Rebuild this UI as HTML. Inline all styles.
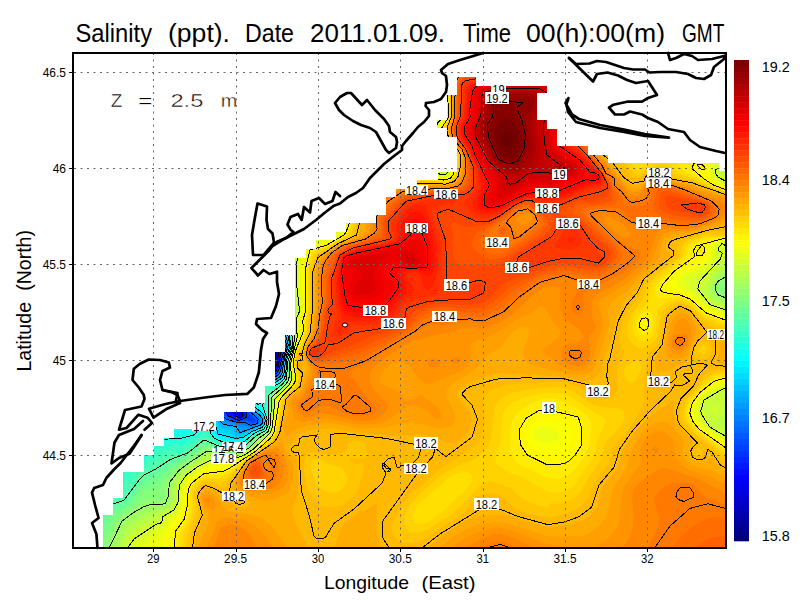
<!DOCTYPE html><html><head><meta charset="utf-8"><style>html,body{margin:0;padding:0;background:#fff;width:800px;height:600px;overflow:hidden}</style></head><body><svg width="800" height="600" viewBox="0 0 800 600" style="display:block">
<rect width="800" height="600" fill="#fff"/>
<defs><clipPath id="dc"><polygon points="103.0,548.0 103.0,515.0 113.3,515.0 113.3,498.0 123.5,498.0 123.5,472.0 144.6,472.0 144.6,455.0 154.5,455.0 154.5,446.0 164.5,446.0 164.5,438.0 174.0,438.0 174.0,429.0 216.0,429.0 216.0,421.0 224.0,421.0 224.0,412.5 255.0,412.5 255.0,403.0 265.0,403.0 265.0,386.0 275.0,386.0 275.0,352.0 285.0,352.0 285.0,335.0 295.5,335.0 295.5,258.0 306.0,258.0 306.0,249.0 316.0,249.0 316.0,240.0 336.0,240.0 336.0,232.0 346.0,232.0 346.0,223.0 376.0,223.0 376.0,215.0 386.0,215.0 386.0,197.0 396.0,197.0 396.0,189.0 417.0,189.0 417.0,180.6 438.0,180.6 438.0,172.0 457.0,172.0 457.0,137.0 447.0,137.0 447.0,128.0 437.0,128.0 437.0,120.0 447.0,120.0 447.0,95.0 457.0,95.0 457.0,77.0 476.0,77.0 476.0,86.0 547.0,86.0 547.0,93.0 537.0,93.0 537.0,120.0 547.0,120.0 547.0,129.0 557.0,129.0 557.0,146.0 588.0,146.0 588.0,155.0 608.0,155.0 608.0,163.0 719.0,163.0 719.0,171.0 726.0,171.0 726.0,548.0"/></clipPath>
<linearGradient id="cb" x1="0" y1="1" x2="0" y2="0">
</linearGradient><clipPath id="c174"><rect x="210" y="446" width="40" height="6"/></clipPath></defs>
<g clip-path="url(#dc)">
<rect x="74" y="53" width="652" height="495" fill="#000086"/>
<path fill="#000093" fill-rule="evenodd" d="M726.0 547.0 74.0 547.0 74.0 324.7 108.0 348.4 124.0 363.0 130.0 364.1 132.0 364.0 132.6 363.0 132.5 361.0 125.7 349.0 120.0 342.7 118.0 338.7 110.0 330.0 107.1 325.0 92.0 309.4 86.0 299.3 74.0 287.6 74.0 275.8 81.2 283.0 80.7 285.0 81.6 287.0 92.0 297.4 98.4 307.0 106.9 315.0 114.0 324.7 118.0 327.2 122.0 324.8 127.0 329.0 134.0 340.3 142.0 347.3 130.8 329.0 132.0 328.1 134.0 328.7 142.0 335.8 150.0 340.3 151.9 339.0 150.6 337.0 151.5 335.0 154.0 335.3 183.0 361.0 187.2 363.0 194.0 368.7 196.0 371.3 210.0 378.3 222.0 380.4 236.0 375.9 244.0 375.1 252.0 370.0 270.4 369.0 274.0 367.1 275.1 365.0 275.9 353.0 277.5 347.0 276.9 341.0 272.8 329.0 264.2 313.0 262.3 305.0 260.0 301.0 244.0 290.1 234.5 281.0 232.3 269.0 228.0 263.0 224.5 261.0 218.1 253.0 217.8 245.0 218.5 243.0 221.3 241.0 222.8 233.0 224.7 229.0 227.3 227.0 233.4 217.0 238.0 212.0 246.0 207.0 252.0 205.4 253.7 203.0 251.7 197.0 253.0 191.0 250.8 183.0 251.0 163.0 252.0 160.0 264.6 149.0 265.4 137.0 268.6 133.0 268.8 127.0 270.7 121.0 266.4 101.0 268.0 100.1 270.0 100.8 292.0 121.7 295.1 119.0 292.9 111.0 294.0 110.3 298.0 111.2 318.0 125.8 321.7 125.0 319.9 119.0 314.6 113.0 304.0 103.6 302.3 103.0 304.0 101.9 324.0 112.3 336.0 116.0 350.0 113.3 354.0 111.2 354.2 109.0 350.9 103.0 354.0 102.2 366.0 103.1 372.0 102.6 377.0 105.0 380.0 109.1 388.0 111.4 388.9 111.0 389.0 109.0 388.0 105.0 388.6 97.0 386.2 91.0 386.0 84.2 387.7 81.0 388.1 73.0 389.2 69.0 393.0 61.0 396.3 59.0 398.6 53.0 726.0 53.0 726.0 547.0ZM302.0 101.9 302.0 100.9 302.0 101.9ZM308.5 125.0 308.0 124.1 306.5 125.0 308.0 126.6 308.5 125.0ZM100.0 271.7 96.2 269.0 95.8 267.0 96.6 265.0 100.0 263.6 101.1 265.0 100.0 271.7Z"/>
<path fill="#00009f" fill-rule="evenodd" d="M726.0 547.0 74.0 547.0 74.0 325.5 93.6 339.0 98.0 343.3 108.0 349.2 122.8 363.0 130.0 366.0 134.2 365.0 134.0 363.0 126.0 349.0 120.0 342.5 118.0 338.5 110.0 329.9 107.2 325.0 92.0 309.3 86.0 299.2 74.0 287.5 74.0 275.9 81.0 283.0 80.4 285.0 81.4 287.0 92.0 297.7 98.1 307.0 106.5 315.0 113.7 325.0 118.0 329.5 120.0 330.3 124.0 328.1 126.0 329.0 132.5 339.0 142.0 348.3 142.0 345.0 132.2 331.0 131.3 329.0 132.0 328.5 134.0 328.9 142.0 335.9 150.0 340.6 152.5 341.0 150.9 337.0 152.0 335.3 154.0 335.5 170.1 349.0 182.8 361.0 186.9 363.0 194.0 369.0 196.0 371.6 210.0 379.3 224.0 381.3 235.0 377.0 246.0 375.0 252.0 370.8 272.0 369.1 274.7 367.0 276.0 363.8 278.0 343.0 273.3 329.0 264.0 311.0 262.3 303.0 255.1 297.0 244.0 289.7 237.1 283.0 235.5 281.0 235.3 275.0 233.5 269.0 230.7 265.0 224.0 259.4 219.6 253.0 219.9 245.0 223.4 241.0 224.2 235.0 226.8 229.0 229.2 227.0 233.9 219.0 239.4 213.0 248.0 207.6 252.0 206.7 254.4 205.0 254.9 203.0 253.0 197.0 254.1 191.0 252.1 185.0 252.9 181.0 251.9 171.0 252.4 165.0 254.0 161.1 267.2 149.0 266.0 139.8 266.9 137.0 270.0 133.1 269.8 129.0 272.0 125.0 268.4 103.0 270.0 102.0 274.0 105.0 292.0 122.7 294.0 122.9 296.2 121.0 296.7 119.0 293.9 111.0 296.0 110.9 318.0 126.1 322.0 125.8 322.4 125.0 320.2 119.0 314.8 113.0 303.2 103.0 304.0 102.5 306.6 103.0 324.0 112.6 336.0 116.9 340.9 117.0 354.5 113.0 356.1 111.0 352.6 105.0 354.0 103.0 372.0 103.3 376.4 105.0 380.0 109.3 386.0 111.8 390.0 111.2 389.2 105.0 389.9 97.0 387.5 91.0 387.4 85.0 389.3 81.0 390.0 71.0 393.4 63.0 397.7 59.0 400.0 53.0 726.0 53.0 726.0 547.0ZM310.2 127.0 308.0 122.8 306.0 122.8 305.6 125.0 308.0 128.2 310.0 127.9 310.2 127.0ZM100.0 271.1 96.4 267.0 98.0 264.3 100.0 264.1 100.7 265.0 100.0 271.1Z"/>
<path fill="#0000ac" fill-rule="evenodd" d="M726.0 547.0 74.0 547.0 74.0 326.1 92.3 339.0 96.4 343.0 108.0 350.3 124.0 364.5 130.0 367.9 132.0 368.0 134.5 367.0 135.3 365.0 126.2 349.0 120.0 342.3 118.0 338.3 110.0 329.7 107.4 325.0 92.0 309.1 85.9 299.0 74.0 287.5 74.0 276.1 80.8 283.0 80.1 285.0 81.2 287.0 92.0 297.9 98.0 307.2 106.1 315.0 118.0 330.9 122.0 332.7 124.0 330.6 126.0 330.6 133.9 341.0 142.0 349.1 144.0 349.0 142.3 345.0 132.4 331.0 134.0 329.1 142.0 336.0 150.0 340.9 153.3 341.0 151.2 337.0 152.0 335.7 154.0 335.7 170.0 349.0 182.5 361.0 186.6 363.0 193.6 369.0 196.0 371.9 210.0 380.2 224.0 382.4 237.8 377.0 246.0 375.7 253.7 371.0 272.0 369.7 274.0 368.5 276.2 365.0 276.9 355.0 278.8 345.0 273.8 329.0 264.6 311.0 263.9 305.0 261.1 301.0 244.0 289.4 237.9 283.0 236.8 281.0 236.2 273.0 234.4 269.0 231.7 265.0 224.8 259.0 221.8 255.0 221.5 253.0 222.0 245.1 224.5 243.0 226.1 235.0 228.8 229.0 231.2 227.0 240.0 214.7 250.0 208.1 254.0 207.5 255.8 205.0 254.5 197.0 255.4 193.0 253.8 187.0 254.5 181.0 253.2 173.0 253.6 167.0 255.1 163.0 268.0 152.6 268.9 151.0 267.0 145.0 267.0 141.0 268.0 138.2 270.8 135.0 272.8 127.0 270.6 105.0 272.0 104.4 276.0 107.4 292.0 123.5 294.0 124.2 298.0 121.5 298.1 119.0 294.7 113.0 296.0 111.3 298.0 111.9 316.0 125.5 322.0 127.0 322.9 125.0 320.5 119.0 308.6 107.0 310.0 105.4 330.0 115.6 338.0 117.7 347.6 117.0 356.0 113.8 357.4 111.0 353.8 105.0 356.0 104.2 375.6 105.0 380.0 109.5 390.1 113.0 391.3 111.0 390.5 105.0 391.3 97.0 388.9 91.0 391.1 73.0 395.4 63.0 398.3 61.0 401.3 53.0 726.0 53.0 726.0 547.0ZM308.0 106.3 306.4 105.0 308.0 104.1 309.5 105.0 308.0 106.3ZM311.8 129.0 308.0 122.0 306.0 122.1 305.1 125.0 308.0 129.7 310.0 130.7 311.8 129.0ZM316.3 131.0 315.5 131.0 316.3 131.0ZM100.0 269.2 97.2 267.0 98.0 264.7 100.4 265.0 100.0 269.2ZM132.0 329.4 133.3 329.0 132.0 329.4Z"/>
<path fill="#0000b9" fill-rule="evenodd" d="M726.0 547.0 74.0 547.0 74.0 326.8 96.0 343.6 108.0 351.4 130.0 369.6 134.0 369.6 136.6 367.0 126.4 349.0 120.0 342.1 118.0 338.1 110.0 329.5 107.5 325.0 92.0 309.0 86.0 299.0 74.0 287.4 74.0 276.2 80.6 283.0 79.9 285.0 81.0 287.0 92.0 298.1 97.7 307.0 106.0 315.2 117.6 331.0 122.0 334.2 126.0 333.2 128.0 334.2 133.2 341.0 144.0 351.1 144.7 351.0 144.4 349.0 142.5 345.0 132.7 331.0 134.0 329.4 142.0 336.1 150.0 341.1 154.0 341.0 151.4 337.0 154.0 335.9 169.7 349.0 182.3 361.0 186.2 363.0 193.3 369.0 196.0 372.2 201.4 375.0 208.0 380.3 214.0 382.4 226.0 383.3 236.0 378.5 246.0 376.3 254.0 371.6 272.0 370.2 274.2 369.0 276.6 365.0 279.5 345.0 274.3 329.0 265.3 311.0 264.5 305.0 261.7 301.0 244.1 289.0 238.9 283.0 237.5 273.0 232.5 265.0 226.1 259.0 223.6 255.0 223.5 253.0 223.6 247.0 226.6 243.0 228.0 235.3 230.0 230.3 233.4 227.0 236.9 221.0 241.9 215.0 250.0 209.6 254.0 208.7 256.0 207.4 256.9 205.0 255.9 199.0 256.6 195.0 255.7 189.0 256.2 185.0 254.5 171.0 256.0 165.0 270.3 153.0 270.3 151.0 267.7 145.0 268.0 142.2 271.3 137.0 274.4 129.0 272.3 119.0 273.4 111.0 272.7 107.0 274.0 106.6 276.0 108.1 294.0 125.3 298.0 124.4 299.2 123.0 298.9 119.0 295.3 113.0 296.0 112.1 298.0 112.3 309.1 121.0 306.0 121.4 304.6 123.0 305.2 127.0 308.0 131.2 310.0 132.5 314.0 131.4 315.4 133.0 318.0 133.5 316.0 128.5 314.0 128.6 309.3 123.0 310.0 121.4 316.0 126.2 322.0 127.5 323.4 127.0 322.9 123.0 319.4 117.0 309.0 107.0 310.0 105.9 330.0 116.0 340.0 118.7 348.0 118.4 356.0 115.6 358.6 113.0 358.8 111.0 355.8 107.0 356.0 105.7 357.4 105.0 374.0 105.2 376.0 105.7 378.8 109.0 386.0 112.4 392.0 113.4 392.5 97.0 390.3 91.0 392.5 73.0 395.7 65.0 399.7 61.0 402.5 53.0 726.0 53.0 726.0 547.0ZM308.0 105.8 307.0 105.0 308.0 104.5 308.9 105.0 308.0 105.8ZM100.0 265.4 99.2 265.0 100.0 265.4Z"/>
<path fill="#0000c6" fill-rule="evenodd" d="M726.0 547.0 74.0 547.0 74.0 348.9 76.0 348.3 76.3 347.0 74.0 342.8 74.0 327.3 86.0 337.1 116.0 358.4 130.0 371.0 134.0 371.9 138.6 369.0 134.0 360.6 130.5 357.0 126.6 349.0 120.0 341.9 118.0 337.9 110.0 329.4 107.6 325.0 92.2 309.0 86.2 299.0 74.0 287.3 74.0 276.4 80.4 283.0 79.6 285.0 80.8 287.0 92.0 298.3 97.5 307.0 106.0 315.5 117.2 331.0 122.0 335.2 126.0 336.8 128.0 336.6 130.0 337.9 140.0 348.5 146.0 353.1 146.2 351.0 142.8 345.0 132.9 331.0 134.0 329.7 142.0 336.2 150.0 341.2 154.0 341.6 154.4 341.0 151.7 337.0 154.0 336.2 169.5 349.0 182.0 361.0 188.0 364.7 196.0 372.5 200.9 375.0 208.0 381.1 214.0 383.5 226.0 384.5 236.0 379.4 246.0 377.0 254.0 372.3 272.0 370.8 276.3 367.0 280.0 347.0 279.3 341.0 275.6 331.0 266.0 311.3 265.2 305.0 264.1 303.0 244.8 289.0 239.9 283.0 238.7 273.0 226.2 257.0 225.3 255.0 225.3 249.0 228.0 245.0 231.6 231.0 234.2 229.0 239.0 221.0 244.0 215.3 252.0 210.3 256.1 209.0 257.4 207.0 258.4 203.0 257.2 199.0 257.6 185.0 255.9 175.0 256.1 171.0 258.0 166.4 271.3 155.0 271.2 151.0 268.9 145.0 276.2 131.0 273.7 123.0 273.4 119.0 275.0 109.0 276.0 108.9 294.0 126.3 300.0 125.8 300.6 125.0 300.8 121.0 295.9 113.0 298.0 112.7 305.3 119.0 305.2 121.0 303.7 123.0 304.0 125.0 308.0 132.4 310.0 133.9 314.0 133.5 318.0 135.5 320.1 135.0 320.0 133.0 317.1 129.0 318.0 127.2 324.0 127.5 323.9 125.0 319.6 117.0 312.0 110.2 309.5 107.0 310.0 106.4 312.6 107.0 332.0 117.2 340.0 119.4 348.0 119.7 356.3 117.0 360.2 113.0 360.2 111.0 357.5 107.0 358.0 106.5 376.0 106.3 380.0 109.9 392.2 115.0 393.7 111.0 393.1 105.0 393.8 97.0 391.7 91.0 392.8 87.0 392.3 85.0 393.5 75.0 397.4 65.0 401.1 61.0 403.8 53.0 726.0 53.0 726.0 547.0ZM316.0 127.1 314.0 127.1 312.0 125.8 310.0 122.8 312.0 122.7 316.9 127.0 316.0 127.1Z"/>
<path fill="#0000d2" fill-rule="evenodd" d="M726.0 547.0 74.0 547.0 74.0 353.4 78.0 351.8 78.7 349.0 74.0 341.9 74.0 327.7 100.0 348.8 116.0 359.1 130.0 371.9 134.0 373.7 140.8 371.0 134.0 360.1 130.7 357.0 126.8 349.0 120.0 341.7 118.0 337.7 110.0 329.2 107.8 325.0 92.4 309.0 86.4 299.0 74.0 287.2 74.0 276.5 80.2 283.0 79.4 285.0 80.6 287.0 92.0 298.5 97.3 307.0 106.0 315.7 116.7 331.0 126.0 339.0 130.0 340.1 136.0 344.4 140.0 348.9 147.5 355.0 148.0 356.4 148.4 355.0 146.5 351.0 134.7 333.0 136.0 331.2 142.0 336.3 150.0 341.3 156.0 343.1 152.0 337.0 154.0 336.4 169.3 349.0 182.0 361.3 188.0 364.9 196.0 372.8 200.4 375.0 208.0 381.5 216.0 385.4 228.0 385.1 234.3 381.0 246.0 377.7 254.0 373.0 272.0 371.4 275.6 369.0 276.7 367.0 280.6 347.0 279.8 341.0 276.0 330.7 267.4 313.0 265.8 305.0 264.6 303.0 244.0 287.5 241.1 283.0 239.8 273.0 230.2 261.0 227.0 255.0 227.3 249.0 230.0 245.0 231.5 237.0 233.9 231.0 236.4 229.0 239.6 223.0 244.5 217.0 253.4 211.0 258.0 209.0 259.5 205.0 260.0 203.0 258.4 199.0 258.1 191.0 258.9 187.0 257.4 177.0 257.8 171.0 262.6 165.0 272.5 157.0 272.1 151.0 270.4 147.0 272.2 141.0 277.0 133.0 274.6 123.0 274.6 121.0 276.5 117.0 276.0 111.0 286.0 118.7 294.0 127.4 300.0 128.1 302.0 126.2 306.0 129.3 307.7 133.0 312.0 137.5 314.0 135.0 316.0 135.2 318.0 138.1 320.0 137.3 322.0 135.0 318.0 128.8 320.0 127.8 324.0 128.4 324.9 127.0 324.4 125.0 319.9 117.0 312.0 109.9 310.0 106.9 312.0 107.0 332.0 117.7 342.0 120.5 348.0 120.9 358.0 117.7 360.7 115.0 361.4 113.0 359.9 109.0 362.0 107.3 376.0 106.9 380.0 110.1 394.0 116.0 395.0 97.0 393.2 91.0 394.3 87.0 394.9 75.0 398.0 66.9 401.6 63.0 405.0 53.0 726.0 53.0 726.0 547.0ZM302.0 120.8 297.6 115.0 298.0 113.5 302.9 117.0 303.7 119.0 302.0 120.8ZM134.0 332.1 133.2 331.0 134.0 330.0 135.7 331.0 134.0 332.1Z"/>
<path fill="#0000df" fill-rule="evenodd" d="M726.0 547.0 74.0 547.0 74.0 357.5 80.0 355.2 80.9 353.0 80.0 349.0 74.0 340.9 74.0 328.1 102.0 351.3 116.0 360.1 132.0 374.2 136.0 375.6 138.0 374.0 142.0 373.6 142.3 371.0 133.6 359.0 130.9 357.0 127.0 349.0 120.0 341.6 117.6 337.0 110.0 329.0 108.0 325.1 94.0 310.8 86.6 299.0 74.0 287.1 74.0 276.6 80.0 283.0 79.2 285.0 80.4 287.0 92.0 298.8 97.1 307.0 106.0 316.0 116.3 331.0 128.0 341.8 136.1 345.0 139.3 349.0 146.9 355.0 152.0 362.1 152.2 361.0 150.2 359.0 148.0 352.9 136.4 335.0 138.0 333.1 150.0 341.4 156.0 343.8 156.5 343.0 152.7 337.0 154.0 336.6 169.1 349.0 182.0 361.6 186.0 363.6 192.4 369.0 195.7 373.0 200.0 375.1 208.0 381.9 218.0 387.2 230.0 385.6 236.0 381.2 246.0 378.3 254.0 373.7 272.0 371.9 276.0 369.2 277.7 365.0 279.0 355.0 281.2 347.0 279.7 339.0 268.1 313.0 267.9 309.0 266.4 305.0 263.1 301.0 244.4 287.0 242.3 283.0 241.9 275.0 231.4 261.0 228.7 255.0 229.0 251.0 231.3 247.0 234.7 233.0 237.1 231.0 246.0 218.0 254.0 212.3 258.0 210.8 259.3 209.0 260.8 203.0 259.6 199.0 260.2 187.0 258.8 177.0 259.3 173.0 260.0 170.8 264.0 166.4 266.6 165.0 270.0 160.8 274.0 158.5 274.5 157.0 271.9 147.0 273.3 145.0 273.5 141.0 277.0 137.0 278.0 133.7 278.1 131.0 275.8 125.0 276.0 122.2 278.4 119.0 278.0 114.3 280.0 114.8 286.0 119.3 294.0 128.6 300.0 129.7 304.0 128.7 312.0 139.1 316.0 137.2 318.0 140.2 322.6 137.0 322.9 135.0 319.0 129.0 324.0 129.2 325.4 127.0 321.7 119.0 311.5 109.0 312.0 107.8 319.6 111.0 332.0 118.1 342.0 121.2 348.0 121.8 358.5 119.0 362.8 115.0 361.7 109.0 372.0 107.6 376.0 107.6 394.0 117.3 395.7 117.0 396.3 99.0 394.6 91.0 396.0 87.0 396.5 75.0 399.4 67.0 403.0 63.0 406.1 53.0 726.0 53.0 726.0 547.0ZM302.0 119.5 300.0 116.5 302.2 117.0 302.0 119.5ZM134.0 331.8 133.4 331.0 134.0 330.3 135.2 331.0 134.0 331.8ZM136.0 334.5 134.9 333.0 136.0 331.5 137.9 333.0 136.0 334.5ZM240.9 415.0 240.0 413.5 238.0 413.1 237.3 415.0 240.0 416.2 240.9 415.0Z"/>
<path fill="#0000ec" fill-rule="evenodd" d="M726.0 547.0 74.0 547.0 74.0 360.9 80.0 359.8 84.4 357.0 80.5 349.0 74.0 339.7 74.0 328.5 100.6 351.0 115.7 361.0 125.7 369.0 134.0 377.0 136.0 377.6 142.0 375.5 143.1 373.0 142.8 371.0 136.0 362.9 134.0 359.0 131.0 357.0 127.2 349.0 120.0 341.4 118.0 337.3 110.2 329.0 108.1 325.0 92.7 309.0 86.8 299.0 76.0 288.0 74.0 287.0 74.0 276.8 79.7 283.0 79.0 285.0 80.2 287.0 92.0 299.0 98.0 308.3 106.6 317.0 116.0 331.1 130.0 345.4 132.0 346.5 136.0 346.5 146.0 354.6 154.0 365.6 156.0 365.0 150.9 359.0 148.0 352.4 138.7 339.0 136.6 335.0 138.0 333.4 146.0 339.2 156.0 344.5 156.9 343.0 154.5 339.0 156.0 338.6 168.9 349.0 182.0 361.8 186.0 363.9 192.1 369.0 195.0 373.0 199.2 375.0 208.0 382.3 219.0 389.0 222.0 389.9 226.0 387.9 230.0 387.2 236.0 382.2 246.0 379.0 254.0 374.4 270.0 372.8 274.8 371.0 278.0 365.4 279.5 355.0 281.8 347.0 280.2 339.0 271.1 319.0 267.0 305.0 263.6 301.0 254.6 295.0 245.4 287.0 243.6 283.0 243.1 275.0 234.0 263.0 230.3 255.0 231.0 251.0 233.5 247.0 234.7 239.0 236.9 233.0 239.4 231.0 242.6 225.0 247.2 219.0 256.0 212.5 260.0 211.0 261.8 205.0 260.6 193.0 261.5 189.0 260.3 179.0 261.2 173.0 270.8 163.0 276.0 159.1 273.8 153.0 273.6 149.0 274.9 143.0 275.7 141.0 278.0 139.4 278.6 137.0 278.6 131.0 277.3 125.0 282.0 117.6 287.1 121.0 294.0 129.4 302.0 131.2 304.0 130.5 308.5 135.0 312.0 140.1 314.0 140.6 316.0 139.7 318.0 141.5 320.0 141.5 324.0 137.9 323.8 135.0 320.9 131.0 325.2 129.0 326.0 127.0 324.7 123.0 320.7 117.0 314.0 111.0 316.0 110.2 336.0 120.2 348.0 122.8 360.0 119.9 364.0 116.7 363.3 111.0 364.0 110.1 372.0 108.6 376.0 108.3 382.0 110.7 396.0 118.7 397.1 117.0 397.6 99.0 395.9 93.0 397.4 87.0 397.9 75.0 401.2 67.0 404.0 64.2 407.3 53.0 726.0 53.0 726.0 547.0ZM314.0 110.9 312.0 108.6 314.5 109.0 314.0 110.9ZM134.0 331.5 134.0 330.6 134.7 331.0 134.0 331.5ZM136.0 334.2 135.2 333.0 136.0 331.9 137.4 333.0 136.0 334.2ZM154.0 338.1 154.0 336.9 154.0 338.1ZM240.5 417.0 242.0 415.0 240.9 413.0 238.0 411.7 236.1 413.0 236.1 415.0 237.8 417.0 240.5 417.0Z"/>
<path fill="#0000f9" fill-rule="evenodd" d="M726.0 547.0 74.0 547.0 74.0 365.7 86.0 361.4 86.8 359.0 86.7 357.0 83.1 353.0 74.2 339.0 74.0 328.9 102.0 352.9 124.0 368.4 136.0 379.1 138.0 379.4 140.0 377.9 145.1 377.0 143.3 371.0 136.0 362.6 134.2 359.0 131.2 357.0 127.3 349.0 120.0 341.2 119.4 339.0 114.1 333.0 116.0 331.6 122.0 337.1 132.0 349.1 136.0 349.0 144.0 353.5 146.0 355.3 152.0 364.6 158.0 369.1 158.0 367.0 151.5 359.0 148.0 352.0 136.9 335.0 138.0 333.7 156.0 345.1 157.3 343.0 156.3 341.0 158.0 340.5 170.0 350.2 182.0 362.1 186.0 364.2 191.6 369.0 194.3 373.0 198.4 375.0 208.0 382.7 222.0 391.6 224.0 392.0 226.0 391.1 228.0 389.0 232.0 387.6 236.3 383.0 246.0 379.7 254.4 375.0 271.7 373.0 275.6 371.0 278.0 366.8 282.4 345.0 276.8 329.0 271.7 319.0 269.7 313.0 269.6 309.0 266.2 303.0 255.0 295.0 246.6 287.0 245.0 283.0 244.2 275.0 236.2 265.0 232.1 257.0 232.0 255.0 233.2 251.0 235.1 249.0 238.0 234.8 240.2 233.0 244.6 225.0 249.4 219.0 260.0 212.7 262.9 207.0 261.8 195.0 262.7 189.0 261.6 183.0 262.6 175.0 267.3 169.0 272.0 164.6 276.0 162.4 276.7 161.0 277.2 159.0 274.8 153.0 276.4 147.0 276.4 143.0 279.3 139.0 278.6 127.0 283.2 123.0 284.0 120.0 286.0 120.7 294.0 130.2 296.0 131.3 306.0 133.4 314.0 143.0 316.0 141.9 320.0 144.0 325.7 139.0 325.6 137.0 322.2 131.0 326.1 129.0 326.7 127.0 322.6 119.0 315.0 111.0 316.0 110.6 318.3 111.0 336.0 120.7 348.0 123.6 354.4 123.0 361.1 121.0 365.9 117.0 364.9 113.0 365.7 111.0 376.0 109.1 382.0 110.9 396.0 119.4 398.0 119.1 399.0 99.0 397.2 93.0 398.8 87.0 399.4 75.0 401.7 69.0 405.1 65.0 408.5 53.0 726.0 53.0 726.0 547.0ZM114.0 332.9 110.4 329.0 108.4 325.0 92.9 309.0 87.0 299.0 76.0 287.8 74.0 286.8 74.0 276.9 78.3 281.0 79.9 287.0 90.0 297.0 98.0 308.6 106.4 317.0 111.2 325.0 114.9 329.0 115.6 331.0 114.0 332.9ZM136.0 333.8 136.0 332.3 137.0 333.0 136.0 333.8ZM156.0 340.2 156.0 338.9 156.0 340.2ZM241.6 417.0 242.7 415.0 242.0 412.8 238.0 410.5 235.8 411.0 234.7 413.0 236.6 417.0 240.0 417.8 241.6 417.0Z"/>
<path fill="#0006ff" fill-rule="evenodd" d="M726.0 547.0 74.0 547.0 74.0 371.9 80.0 367.5 88.0 365.2 89.9 363.0 88.0 357.0 84.0 353.3 74.5 339.0 74.0 329.4 102.0 353.4 124.0 369.2 132.0 377.2 138.0 381.1 142.0 379.6 150.0 381.2 150.4 379.0 150.0 377.7 146.0 376.5 143.9 371.0 136.0 362.3 134.5 359.0 131.4 357.0 127.5 349.0 120.0 341.0 118.2 337.0 120.0 335.7 126.7 343.0 132.0 350.8 136.0 352.6 142.0 352.9 145.0 355.0 151.7 365.0 158.0 371.0 158.4 367.0 150.6 357.0 145.2 347.0 138.3 337.0 140.0 335.5 160.0 347.1 158.0 344.2 157.2 341.0 158.0 340.8 170.0 350.4 182.0 362.4 186.7 365.0 192.0 369.8 194.0 373.2 202.0 377.9 206.0 381.7 220.0 391.4 226.0 393.7 228.0 393.1 229.0 391.0 232.0 389.6 238.0 383.3 246.0 380.4 256.0 375.0 272.0 373.4 276.0 371.3 278.3 367.0 282.9 345.0 277.2 329.0 272.3 319.0 270.3 309.0 266.6 303.0 260.0 297.5 255.4 295.0 247.9 287.0 246.4 283.0 245.9 277.0 237.4 265.0 233.9 257.0 234.5 253.0 237.1 249.0 238.0 240.8 245.3 227.0 250.0 220.6 261.3 213.0 263.6 209.0 264.2 207.0 263.4 203.0 263.1 195.0 264.0 191.0 263.2 181.0 264.9 175.0 270.0 169.3 278.0 163.0 278.3 159.0 276.0 153.0 277.8 149.0 277.6 145.0 280.1 139.0 279.5 135.0 280.0 127.9 284.0 125.3 288.0 124.2 296.0 132.0 306.0 134.4 314.0 144.3 318.0 144.0 320.0 147.2 326.9 139.0 323.4 131.0 327.3 129.0 327.5 127.0 323.2 119.0 317.4 113.0 318.0 111.6 336.0 121.1 348.0 124.4 354.0 124.2 362.0 122.2 366.6 119.0 366.7 113.0 376.0 110.1 382.0 111.2 398.0 120.8 399.2 119.0 400.3 99.0 398.6 93.0 400.2 87.0 400.8 75.0 403.6 69.0 406.0 66.4 409.7 53.0 726.0 53.0 726.0 547.0ZM114.0 332.5 110.6 329.0 108.8 325.0 93.1 309.0 87.2 299.0 74.0 286.5 74.0 277.1 78.1 281.0 79.6 287.0 90.0 297.4 98.0 308.8 106.2 317.0 110.9 325.0 114.7 329.0 115.3 331.0 114.0 332.5ZM116.0 334.5 114.7 333.0 116.0 332.0 117.0 333.0 116.0 334.5ZM136.0 333.4 136.0 332.6 136.0 333.4ZM118.0 336.7 116.5 335.0 118.0 333.9 119.2 335.0 118.0 336.7ZM138.0 336.5 137.2 335.0 138.0 334.0 139.2 335.0 138.0 336.5ZM242.5 417.0 243.5 415.0 243.0 413.0 240.0 410.2 236.0 409.3 233.6 411.0 233.2 413.0 235.5 417.0 240.0 418.3 242.5 417.0Z"/>
<path fill="#0013ff" fill-rule="evenodd" d="M726.0 547.0 74.0 547.0 74.0 376.1 77.6 375.0 82.5 371.0 90.0 368.8 91.7 367.0 91.7 363.0 90.2 359.0 84.3 353.0 74.9 339.0 74.0 336.6 74.0 329.8 110.0 360.5 124.0 370.0 136.0 381.0 140.0 382.7 144.0 381.7 152.0 383.6 152.5 383.0 150.2 377.0 146.0 375.8 144.3 371.0 136.0 362.0 134.8 359.0 131.6 357.0 131.2 355.0 128.0 350.5 127.1 347.0 128.0 346.4 131.3 351.0 136.0 354.5 138.0 355.3 144.0 354.9 156.0 370.1 160.0 372.8 160.2 371.0 158.8 367.0 150.8 357.0 145.5 347.0 139.3 339.0 138.6 337.0 140.0 335.8 160.0 347.8 160.5 347.0 158.3 343.0 160.0 342.8 170.0 350.6 182.0 362.7 186.3 365.0 192.0 370.3 194.0 373.7 202.0 378.4 208.0 383.7 220.0 391.9 226.0 394.9 229.9 395.0 230.4 393.0 238.0 384.3 256.0 375.7 272.0 373.9 276.0 372.0 278.6 367.0 283.4 347.0 282.0 339.7 272.9 319.0 270.1 307.0 264.9 301.0 255.8 295.0 250.2 289.0 248.1 285.0 247.0 277.0 238.9 265.0 235.9 257.0 236.9 253.0 238.6 251.0 240.0 241.0 243.0 237.0 244.9 231.0 252.0 221.1 262.0 214.2 265.3 209.0 264.4 197.0 265.3 193.0 264.3 183.0 266.0 177.3 270.0 172.1 279.0 165.0 279.1 159.0 277.8 155.0 280.6 139.0 280.6 131.0 284.0 127.5 290.0 126.9 290.8 129.0 294.0 131.9 306.0 135.3 314.0 145.3 318.0 146.1 320.0 148.7 322.0 148.5 324.0 144.5 327.9 141.0 328.0 139.0 324.3 133.0 324.4 131.0 328.5 129.0 328.4 127.0 325.4 121.0 318.0 112.6 320.0 112.7 332.0 119.8 340.0 123.3 348.0 125.2 358.0 124.9 363.6 123.0 368.4 119.0 368.2 115.0 370.0 113.0 378.0 111.1 382.0 111.4 388.9 115.0 397.3 121.0 400.1 121.0 401.6 99.0 400.0 93.0 401.5 87.0 402.3 75.0 407.2 67.0 411.0 53.0 726.0 53.0 726.0 547.0ZM114.0 332.2 110.9 329.0 109.2 325.0 93.2 309.0 87.4 299.0 74.0 286.3 74.0 277.5 78.0 281.2 79.2 287.0 90.0 297.7 97.9 309.0 105.9 317.0 110.7 325.0 114.5 329.0 115.0 331.0 114.0 332.2ZM116.0 333.9 115.2 333.0 116.0 332.4 116.6 333.0 116.0 333.9ZM118.0 336.1 117.0 335.0 118.0 334.3 118.8 335.0 118.0 336.1ZM138.0 336.0 138.0 334.4 138.8 335.0 138.0 336.0ZM126.0 346.8 120.0 340.4 118.7 337.0 120.0 336.1 127.6 345.0 126.0 346.8ZM243.3 417.0 244.3 415.0 243.8 413.0 240.0 409.2 236.0 407.8 232.0 409.6 231.3 413.0 234.4 417.0 240.0 418.9 243.3 417.0Z"/>
<path fill="#0020ff" fill-rule="evenodd" d="M726.0 547.0 74.0 547.0 74.0 378.8 80.0 378.1 86.0 373.9 94.0 372.9 96.1 371.0 92.4 361.0 88.0 355.5 84.7 353.0 75.3 339.0 74.0 336.2 74.0 330.3 109.7 361.0 124.0 370.9 138.0 383.1 140.0 383.9 152.0 384.7 153.4 383.0 150.6 377.0 146.0 375.1 144.7 371.0 136.0 361.7 135.1 359.0 131.7 357.0 130.9 353.0 132.0 352.5 140.0 358.5 144.0 356.6 156.0 371.1 160.0 373.9 160.9 373.0 159.2 367.0 151.1 357.0 145.8 347.0 139.5 339.0 138.9 337.0 140.0 336.0 152.7 343.0 160.0 348.6 161.1 347.0 159.8 345.0 160.0 343.5 164.0 346.1 170.2 351.0 180.0 361.5 186.0 365.1 192.0 370.7 194.0 374.1 202.0 378.9 208.0 384.2 222.0 393.7 232.0 397.0 232.9 393.0 236.9 387.0 242.0 383.0 248.0 380.8 256.0 376.3 272.0 374.4 276.0 372.6 278.4 369.0 283.9 347.0 282.2 339.0 273.5 319.0 270.7 307.0 265.4 301.0 256.0 294.7 251.2 289.0 249.5 285.0 249.1 279.0 240.4 265.0 238.4 261.0 237.9 257.0 240.9 251.0 242.2 241.0 244.9 237.0 247.1 231.0 252.4 223.0 263.0 215.0 266.8 209.0 265.7 199.0 266.9 193.0 265.8 185.0 267.5 179.0 272.0 173.0 280.8 165.0 279.7 161.0 280.1 147.0 282.0 131.1 286.0 129.3 302.0 135.8 306.0 136.4 314.0 146.1 322.0 150.4 325.8 145.0 328.0 143.5 328.9 141.0 324.7 133.0 325.2 131.0 329.6 129.0 329.4 127.0 327.7 123.0 322.6 117.0 324.0 116.2 340.0 123.8 352.0 126.3 358.0 125.9 364.0 124.3 368.8 121.0 369.9 119.0 369.3 117.0 370.0 114.6 380.0 111.4 388.0 114.7 398.0 121.7 401.2 121.0 403.0 99.0 401.5 93.0 402.8 87.0 403.3 77.0 404.7 73.0 408.0 68.7 412.2 53.0 726.0 53.0 726.0 547.0ZM322.0 116.0 321.1 115.0 322.4 115.0 322.0 116.0ZM108.0 323.8 94.0 309.7 87.5 299.0 74.0 286.0 74.0 277.8 78.0 281.7 78.9 287.0 90.0 298.0 97.6 309.0 105.6 317.0 109.8 323.0 108.0 323.8ZM110.0 326.5 110.0 323.3 110.0 326.5ZM114.0 331.8 111.1 329.0 110.6 327.0 112.0 326.7 114.2 329.0 114.7 331.0 114.0 331.8ZM118.0 335.5 118.0 334.7 118.0 335.5ZM138.0 335.5 138.0 334.7 138.0 335.5ZM122.0 342.6 120.0 339.9 119.3 337.0 120.0 336.5 122.7 339.0 123.5 341.0 122.0 342.6ZM124.0 344.7 122.5 343.0 124.0 341.7 125.5 343.0 124.0 344.7ZM126.0 346.3 124.3 345.0 126.0 343.5 127.2 345.0 126.0 346.3ZM128.0 349.4 128.0 348.2 128.0 349.4ZM130.0 352.0 130.0 350.3 130.0 352.0ZM241.1 419.0 244.1 417.0 245.1 415.0 243.3 411.0 238.0 407.0 234.0 406.2 231.4 407.0 229.0 411.0 230.0 415.0 236.9 419.0 241.1 419.0Z"/>
<path fill="#002dff" fill-rule="evenodd" d="M726.0 547.0 74.0 547.0 74.0 380.5 78.0 381.7 84.0 380.6 90.0 376.9 96.0 376.1 97.8 375.0 97.1 369.0 93.2 361.0 88.2 355.0 85.1 353.0 79.5 345.0 74.0 335.8 74.0 330.7 100.0 353.3 105.4 357.0 108.8 361.0 124.0 371.9 140.0 385.0 150.0 386.2 154.7 385.0 151.0 377.0 146.3 375.0 145.1 371.0 136.0 361.4 135.3 359.0 131.9 357.0 132.0 353.3 140.0 360.6 142.0 361.4 146.0 360.0 156.0 371.7 162.0 376.1 162.4 375.0 159.6 367.0 152.0 358.0 146.1 347.0 139.7 339.0 139.2 337.0 140.0 336.3 152.4 343.0 160.0 349.1 162.0 345.3 164.0 346.4 170.0 351.0 180.0 361.9 186.0 365.5 191.7 371.0 194.0 374.6 201.6 379.0 208.0 384.7 222.0 394.3 234.0 400.1 235.0 393.0 240.1 385.0 256.0 376.9 272.0 374.9 276.3 373.0 278.8 369.0 281.7 355.0 284.4 347.0 282.7 339.0 274.1 319.0 271.3 307.0 265.8 301.0 257.1 295.0 253.5 291.0 250.8 285.0 250.5 279.0 244.8 271.0 239.9 259.0 240.6 255.0 242.3 253.0 243.4 243.0 249.3 231.0 254.7 223.0 264.8 215.0 267.7 211.0 268.2 209.0 267.0 199.0 268.3 193.0 267.2 187.0 268.8 181.0 274.0 174.2 278.0 171.4 282.0 165.7 280.8 161.0 281.7 153.0 281.1 147.0 281.8 135.0 282.8 133.0 286.0 131.0 294.0 135.0 298.0 135.1 298.9 139.0 300.0 139.9 302.0 139.7 303.6 137.0 306.0 137.5 314.0 146.9 322.0 152.4 324.0 151.3 325.9 147.0 329.7 143.0 329.9 141.0 325.2 133.0 326.0 131.0 330.3 131.0 330.5 127.0 329.3 123.0 325.6 119.0 326.0 118.2 340.0 124.3 348.0 126.6 354.0 127.3 360.0 126.8 366.4 125.0 371.0 121.0 370.4 117.0 372.0 115.1 380.0 111.8 388.0 114.9 398.0 122.1 402.0 121.9 404.3 99.0 403.0 93.0 404.6 77.0 406.0 73.4 409.2 69.0 413.4 53.0 726.0 53.0 726.0 547.0ZM106.0 321.5 93.6 309.0 87.7 299.0 74.0 285.7 74.0 278.2 78.0 282.3 78.6 287.0 90.0 298.3 97.2 309.0 105.2 317.0 107.5 321.0 106.0 321.5ZM108.0 323.6 108.0 321.5 109.2 323.0 108.0 323.6ZM110.0 325.4 110.0 324.5 110.0 325.4ZM112.0 329.8 111.3 329.0 112.0 327.0 113.9 329.0 112.0 329.8ZM114.0 331.5 114.0 329.2 114.0 331.5ZM122.0 342.2 120.0 339.3 120.0 336.8 122.5 339.0 123.1 341.0 122.0 342.2ZM124.0 344.1 123.0 343.0 124.0 342.1 125.0 343.0 124.0 344.1ZM126.0 345.9 124.9 345.0 126.0 344.0 126.8 345.0 126.0 345.9ZM242.4 419.0 245.2 417.0 246.0 415.0 244.0 410.7 236.0 404.4 232.0 404.2 230.0 405.2 227.4 409.0 227.4 413.0 228.4 415.0 236.0 419.2 240.0 419.9 242.4 419.0Z"/>
<path fill="#0039ff" fill-rule="evenodd" d="M726.0 547.0 74.0 547.0 74.0 382.7 84.0 384.3 96.0 379.7 102.0 380.7 103.0 379.0 102.0 376.4 100.1 375.0 99.5 371.0 93.9 361.0 88.7 355.0 85.5 353.0 74.0 335.3 74.0 331.3 100.0 353.8 104.9 357.0 108.0 361.0 136.0 383.0 144.0 387.7 154.0 387.4 156.0 388.3 157.0 387.0 151.4 377.0 150.0 375.7 146.8 375.0 145.4 373.0 145.4 371.0 136.0 361.0 136.0 357.4 142.0 363.2 144.0 363.9 146.0 362.8 148.0 363.3 156.0 372.3 164.0 379.4 164.6 377.0 160.0 367.0 151.5 357.0 146.4 347.0 139.8 339.0 139.5 337.0 141.0 337.0 152.2 343.0 160.0 349.3 162.2 347.0 164.0 346.6 172.0 353.3 180.0 362.3 186.0 366.0 194.0 375.0 201.1 379.0 208.0 385.2 218.0 392.4 229.1 399.0 230.4 401.0 228.0 403.5 225.6 409.0 226.1 413.0 228.0 415.9 236.0 419.8 242.0 419.8 246.7 417.0 247.2 415.0 245.1 411.0 238.1 403.0 236.7 399.0 236.1 395.0 239.6 387.0 242.0 384.8 257.4 377.0 272.0 375.4 276.0 373.9 279.2 369.0 282.1 355.0 284.8 347.0 283.2 339.0 274.7 319.0 272.0 307.0 266.3 301.0 255.5 293.0 252.1 285.0 251.7 279.0 248.0 275.0 241.8 261.0 241.9 257.0 244.3 253.0 245.3 243.0 251.3 231.0 257.4 223.0 263.6 217.0 266.9 215.0 269.3 211.0 268.2 201.0 269.8 195.0 269.0 187.0 271.4 181.0 274.5 177.0 279.4 173.0 283.2 167.0 282.0 161.0 283.0 157.0 282.0 141.0 284.0 134.8 286.0 133.3 288.0 133.4 296.0 137.1 302.0 143.2 302.9 143.0 304.0 139.0 306.0 138.9 310.0 142.1 311.5 145.0 316.0 149.6 320.0 151.7 322.0 154.1 324.0 154.0 326.5 149.0 330.3 145.0 330.5 141.0 325.7 133.0 326.0 132.2 330.0 132.0 331.6 131.0 330.7 123.0 332.0 121.6 348.0 127.2 354.0 128.3 360.0 127.9 366.0 126.7 368.9 125.0 372.0 122.2 372.0 117.0 380.0 112.2 388.0 115.1 398.0 122.5 403.0 123.0 405.6 99.0 404.5 93.0 406.0 77.0 410.0 71.0 414.6 53.0 726.0 53.0 726.0 547.0ZM76.0 286.7 74.0 285.5 74.0 278.5 78.1 283.0 76.0 286.7ZM78.0 288.1 76.7 287.0 78.0 286.4 78.0 288.1ZM80.0 290.2 79.0 289.0 80.2 289.0 80.0 290.2ZM82.0 292.4 80.8 291.0 82.2 291.0 82.0 292.4ZM84.0 294.5 82.6 293.0 84.2 293.0 84.0 294.5ZM86.0 296.9 84.5 295.0 86.2 295.0 86.0 296.9ZM106.0 321.3 94.0 309.3 86.1 297.0 88.0 296.7 90.3 299.0 96.8 309.0 104.8 317.0 106.7 321.0 106.0 321.3ZM108.0 323.3 108.0 322.2 108.6 323.0 108.0 323.3ZM112.0 329.6 112.0 327.6 113.3 329.0 112.0 329.6ZM122.0 341.8 120.8 339.0 122.2 339.0 122.7 341.0 122.0 341.8ZM124.0 343.5 124.0 342.6 124.0 343.5ZM126.0 345.4 126.0 344.5 126.0 345.4ZM134.0 357.4 132.0 356.4 132.0 354.1 135.7 357.0 134.0 357.4Z"/>
<path fill="#0046ff" fill-rule="evenodd" d="M726.0 547.0 74.0 547.0 74.0 386.2 80.0 385.8 86.0 387.5 98.0 383.3 104.0 383.9 104.9 379.0 102.0 372.0 96.0 364.8 92.9 359.0 89.2 355.0 85.9 353.0 76.1 337.0 78.0 335.7 88.0 343.5 100.0 354.2 104.3 357.0 108.0 361.6 142.0 388.5 148.0 390.0 158.0 389.4 158.0 387.0 151.8 377.0 150.0 375.4 147.2 375.0 145.6 373.0 145.8 371.0 140.4 365.0 142.0 364.2 146.0 366.5 148.0 366.1 150.0 366.9 164.0 380.9 166.0 381.7 166.2 379.0 162.5 373.0 160.2 367.0 152.0 357.4 146.6 347.0 140.1 339.0 142.0 337.8 144.0 338.8 152.0 343.1 160.0 349.4 164.0 346.9 172.0 353.7 180.0 362.8 186.0 366.5 194.0 375.3 200.6 379.0 208.0 385.7 226.1 399.0 224.2 407.0 224.3 411.0 225.9 415.0 227.9 417.0 238.0 420.8 242.0 420.4 246.0 418.4 252.0 421.2 252.8 419.0 248.0 414.3 238.8 401.0 237.7 395.0 239.6 389.0 243.2 385.0 258.0 377.4 274.0 375.4 277.7 373.0 279.6 369.0 285.3 345.0 283.6 339.0 275.3 319.0 272.6 307.0 266.8 301.0 256.2 293.0 253.4 285.0 252.8 279.0 247.9 273.0 243.5 261.0 244.1 257.0 246.0 253.2 246.6 245.0 251.0 235.0 256.1 227.0 264.0 218.5 268.0 216.0 270.7 211.0 269.5 203.0 271.2 197.0 270.1 189.0 274.1 181.0 280.6 175.0 284.4 169.0 283.7 163.0 284.5 159.0 282.8 147.0 284.0 137.4 288.0 135.5 290.0 136.0 298.0 140.4 302.0 144.0 304.0 144.3 306.0 140.7 308.0 141.1 314.3 149.0 321.6 155.0 324.0 155.9 328.0 149.8 330.9 147.0 331.5 145.0 331.1 141.0 326.3 133.0 328.0 132.1 332.6 133.0 333.3 127.0 332.0 122.9 334.9 123.0 340.0 125.4 352.0 128.8 364.0 128.3 368.2 127.0 372.0 124.5 373.6 123.0 373.0 119.0 374.0 117.1 379.1 113.0 382.0 112.6 388.0 115.5 398.0 122.9 404.0 124.3 407.0 99.0 406.0 93.0 407.4 77.0 411.3 71.0 415.8 53.0 726.0 53.0 726.0 547.0ZM76.0 285.7 74.0 285.2 74.0 278.9 77.1 283.0 76.0 285.7ZM90.0 302.6 90.0 299.0 90.6 301.0 90.0 302.6ZM104.0 319.2 94.0 309.1 90.7 303.0 92.0 302.6 96.5 309.0 104.5 317.0 104.9 319.0 104.0 319.2ZM112.0 329.3 112.0 328.4 112.6 329.0 112.0 329.3ZM74.0 334.5 74.0 332.2 75.0 333.0 74.0 334.5ZM76.0 336.7 74.7 335.0 76.0 334.2 76.9 335.0 76.0 336.7ZM140.0 338.6 140.0 336.8 140.0 338.6ZM122.0 341.4 122.0 339.7 122.0 341.4ZM134.0 357.2 133.4 357.0 134.0 356.2 134.7 357.0 134.0 357.2ZM136.0 359.8 136.0 358.4 136.6 359.0 136.0 359.8ZM140.0 363.8 140.0 362.9 140.0 363.8Z"/>
<path fill="#0053ff" fill-rule="evenodd" d="M726.0 547.0 74.0 547.0 74.0 390.0 80.0 388.6 90.0 390.6 100.0 387.4 106.0 387.6 107.6 385.0 106.0 377.0 104.0 372.9 96.0 364.1 93.4 359.0 86.0 352.1 77.8 339.0 77.8 337.0 104.0 357.3 108.0 362.2 112.6 365.0 123.5 375.0 142.0 389.5 150.0 392.2 156.0 391.4 158.0 392.1 158.9 391.0 158.5 387.0 152.0 376.4 150.0 375.0 148.0 375.2 145.9 373.0 148.0 370.2 152.0 369.9 160.2 377.0 164.0 382.2 166.0 383.6 168.1 383.0 166.1 377.0 162.8 373.0 160.4 367.0 152.0 357.1 146.9 347.0 140.6 339.0 142.0 338.1 151.5 343.0 160.0 349.6 164.0 347.3 177.0 359.0 180.0 363.1 186.0 367.0 193.4 375.0 200.1 379.0 222.0 397.0 223.3 399.0 223.0 411.0 224.7 415.0 226.7 417.0 230.1 419.0 238.0 421.3 246.0 419.6 250.0 422.2 252.0 422.7 254.0 421.9 254.9 421.0 254.8 419.0 248.0 412.6 241.0 403.0 239.0 397.0 240.0 391.0 242.2 387.0 244.0 385.5 256.0 378.9 260.0 377.5 274.0 375.9 278.0 373.4 280.0 369.1 285.7 345.0 275.9 319.0 273.1 307.0 272.0 305.0 257.3 293.0 254.7 285.0 253.9 279.0 249.2 273.0 248.4 269.0 245.4 263.0 245.5 261.0 247.7 255.0 248.2 245.0 254.0 233.0 262.0 222.4 269.1 217.0 271.6 213.0 270.8 203.0 272.7 197.0 271.6 193.0 272.0 189.4 275.1 183.0 282.0 176.2 286.0 169.0 285.3 165.0 285.7 159.0 283.5 147.0 284.2 141.0 286.0 139.0 288.0 137.8 292.0 138.3 304.0 146.0 306.0 145.5 308.0 142.6 316.0 151.6 324.0 157.4 326.0 156.8 332.5 147.0 331.7 141.0 327.5 135.0 327.2 133.0 332.0 134.0 334.0 133.1 334.5 129.0 338.0 125.2 354.0 130.0 364.0 129.6 371.1 127.0 374.0 125.0 374.9 123.0 374.0 118.5 379.8 113.0 382.0 112.9 389.9 117.0 398.0 123.1 404.0 125.4 405.7 125.0 405.5 117.0 408.3 99.0 407.4 93.0 408.5 79.0 408.9 77.0 412.2 73.0 417.0 53.0 726.0 53.0 726.0 547.0ZM336.0 126.8 334.8 125.0 337.4 125.0 336.0 126.8ZM90.0 301.3 90.0 300.6 90.0 301.3ZM94.0 308.2 94.0 305.5 94.0 308.2ZM96.0 309.9 95.4 309.0 96.0 308.8 96.0 309.9ZM98.0 312.1 97.1 311.0 98.1 311.0 98.0 312.1ZM100.0 313.8 99.3 313.0 100.0 313.8ZM102.0 315.8 101.0 315.0 102.0 314.9 102.0 315.8ZM104.0 317.9 103.1 317.0 104.0 316.9 104.0 317.9ZM144.0 367.8 143.3 367.0 144.0 366.7 144.0 367.8Z"/>
<path fill="#0060ff" fill-rule="evenodd" d="M726.0 547.0 74.0 547.0 74.0 396.0 77.3 395.0 78.4 393.0 80.0 392.4 86.0 392.1 92.0 393.7 100.0 391.2 108.0 391.1 110.4 389.0 109.3 381.0 104.0 371.1 100.0 368.2 96.0 363.4 93.9 359.0 86.1 351.0 81.8 345.0 81.6 343.0 82.0 341.9 88.0 345.0 104.0 358.1 108.0 362.9 116.6 369.0 122.3 375.0 142.0 390.2 148.0 393.6 152.0 394.4 156.0 393.3 160.0 394.3 161.0 393.0 158.9 387.0 153.5 379.0 152.3 375.0 154.0 373.2 159.2 377.0 166.0 384.8 170.0 386.1 170.5 385.0 166.5 377.0 163.0 373.0 160.6 367.0 152.2 357.0 147.2 347.0 142.5 341.0 144.0 339.5 151.1 343.0 160.0 349.8 164.0 347.8 168.5 351.0 182.0 365.2 186.0 367.3 193.1 375.0 200.0 379.3 220.2 397.0 221.2 399.0 221.7 411.0 225.3 417.0 230.0 419.7 238.0 421.8 246.0 420.7 250.0 423.5 254.0 423.4 256.5 421.0 256.3 419.0 250.0 413.6 243.2 405.0 240.2 397.0 241.2 391.0 244.0 386.5 258.0 378.5 274.0 376.5 278.0 374.2 280.0 370.6 286.1 345.0 276.5 319.0 273.7 307.0 272.5 305.0 258.4 293.0 255.8 281.0 250.7 273.0 247.1 263.0 249.1 257.0 250.0 245.0 254.8 235.0 263.3 223.0 270.0 218.2 273.2 213.0 272.4 203.0 274.1 199.0 273.0 193.0 273.5 191.0 277.6 183.0 285.1 175.0 287.0 169.0 286.0 153.0 284.5 147.0 286.0 142.4 287.7 141.0 292.0 140.0 304.0 147.4 306.0 147.6 310.0 146.0 316.0 152.7 324.0 158.7 326.0 159.0 333.6 147.0 332.3 141.0 328.0 134.0 334.0 134.3 335.7 133.0 335.8 131.0 338.3 127.0 340.0 126.7 356.0 131.1 366.0 130.3 372.0 128.2 376.0 125.0 374.7 119.0 380.0 114.0 382.0 113.4 388.0 116.1 398.0 123.4 406.8 127.0 406.7 117.0 409.6 99.0 408.9 93.0 409.9 79.0 413.4 73.0 418.2 53.0 726.0 53.0 726.0 547.0ZM142.0 340.4 141.0 339.0 142.0 338.4 143.4 339.0 142.0 340.4ZM148.0 374.6 146.9 373.0 148.0 371.9 149.9 373.0 148.0 374.6ZM152.0 373.3 151.1 373.0 152.5 373.0 152.0 373.3Z"/>
<path fill="#006cff" fill-rule="evenodd" d="M726.0 547.0 74.0 547.0 74.0 409.6 74.7 409.0 74.0 408.0 74.0 399.3 80.0 399.8 82.3 397.0 88.0 395.1 96.0 396.2 102.0 394.3 110.0 394.5 112.7 393.0 113.5 391.0 112.3 383.0 106.0 374.4 104.6 371.0 97.8 365.0 94.7 359.0 87.3 351.0 86.7 349.0 88.0 347.6 94.0 351.1 134.0 385.1 148.0 395.2 152.0 396.4 158.0 395.2 162.0 396.4 163.2 395.0 154.2 379.0 154.0 376.3 158.0 376.9 163.0 383.0 168.0 387.1 170.0 388.0 171.7 387.0 172.0 385.0 163.3 373.0 160.8 367.0 152.6 357.0 147.4 347.0 143.0 341.0 144.0 340.0 150.7 343.0 160.0 350.0 164.0 348.3 166.0 349.1 182.0 365.5 186.0 367.6 192.9 375.0 201.5 381.0 218.5 397.0 220.3 411.0 224.0 417.0 228.0 419.7 232.0 421.0 240.0 422.6 246.0 422.1 250.0 424.5 254.0 424.4 256.7 423.0 257.9 421.0 257.6 419.0 248.0 410.3 243.1 403.0 241.4 397.0 242.4 391.0 244.7 387.0 258.0 379.1 274.0 377.0 278.0 374.9 280.3 371.0 286.5 345.0 277.1 319.0 274.3 307.0 273.1 305.0 259.7 293.0 256.7 281.0 253.0 275.0 251.4 269.0 249.0 265.0 249.0 263.0 251.2 257.0 251.4 247.0 255.6 237.0 265.3 223.0 271.3 219.0 274.0 215.0 274.7 213.0 273.7 205.0 275.3 199.0 274.6 193.0 278.0 185.6 282.0 182.2 287.7 175.0 288.0 165.0 285.8 149.0 286.0 146.3 288.0 144.0 292.0 142.1 304.0 148.4 308.0 148.9 310.0 148.0 318.0 155.3 326.0 160.5 333.6 151.0 334.3 149.0 333.6 143.0 328.9 135.0 336.2 135.0 338.5 133.0 340.0 128.1 356.0 131.9 366.0 131.6 372.0 129.6 376.0 127.1 377.0 123.0 375.7 121.0 375.7 119.0 382.0 114.4 388.0 116.4 398.0 123.6 406.0 127.7 408.0 127.9 407.8 117.0 410.2 107.0 411.0 99.0 410.4 93.0 411.4 79.0 414.3 75.0 419.3 53.0 726.0 53.0 726.0 547.0ZM142.0 339.7 142.0 338.7 142.7 339.0 142.0 339.7Z"/>
<path fill="#0079ff" fill-rule="evenodd" d="M726.0 547.0 74.0 547.0 74.0 413.9 78.8 413.0 79.3 411.0 76.8 405.0 78.0 404.2 84.7 403.0 86.0 401.0 92.0 398.3 100.0 399.5 106.0 397.6 110.0 398.4 114.0 397.1 116.4 395.0 116.3 387.0 106.0 373.5 105.1 371.0 102.0 368.9 97.1 363.0 92.7 355.0 94.0 353.5 102.6 359.0 108.0 364.5 117.2 371.0 126.0 379.5 150.0 397.6 154.0 398.4 160.0 397.5 164.0 398.4 165.5 397.0 160.0 389.0 159.0 385.0 156.3 381.0 157.9 379.0 168.0 387.9 172.0 390.1 174.0 390.3 174.7 389.0 172.1 383.0 169.5 381.0 163.6 373.0 161.0 367.0 152.9 357.0 144.9 343.0 146.0 341.1 152.0 343.9 160.0 350.1 164.0 348.8 166.0 349.5 182.0 365.7 186.0 368.0 192.6 375.0 201.0 381.0 214.0 393.0 216.9 399.0 219.0 411.0 222.0 416.1 224.9 419.0 232.0 421.7 240.0 423.3 244.2 423.0 250.0 425.5 254.0 425.3 258.1 423.0 259.1 421.0 258.8 419.0 249.5 411.0 244.0 403.0 242.4 397.0 243.4 391.0 245.9 387.0 258.0 379.7 274.0 377.5 278.6 375.0 280.7 371.0 283.4 357.0 286.9 345.0 277.7 319.0 274.8 307.0 260.9 293.0 258.5 283.0 254.2 275.0 253.0 269.0 250.7 265.0 252.8 259.0 252.6 251.0 253.9 245.0 258.6 235.0 265.5 225.0 272.0 220.4 275.9 215.0 274.8 209.0 276.4 201.0 276.0 194.5 279.5 187.0 289.1 177.0 289.3 169.0 287.4 157.0 287.4 149.0 290.0 145.9 294.0 144.8 302.4 149.0 312.0 150.6 322.0 159.4 326.0 161.9 328.0 161.6 330.0 157.0 335.0 151.0 334.9 145.0 333.3 141.0 330.0 137.0 330.0 135.0 338.0 135.9 344.0 131.0 364.0 133.1 372.0 130.9 377.7 127.0 377.9 123.0 376.8 121.0 377.4 119.0 382.0 115.7 388.0 116.7 398.0 123.8 400.0 124.2 407.5 129.0 408.9 129.0 408.9 117.0 411.5 107.0 412.4 99.0 411.8 93.0 412.5 81.0 415.6 75.0 420.4 53.0 726.0 53.0 726.0 547.0ZM144.0 341.5 144.0 340.6 145.7 341.0 144.0 341.5Z"/>
<path fill="#0086ff" fill-rule="evenodd" d="M726.0 547.0 74.0 547.0 74.0 419.3 82.0 416.6 83.5 415.0 81.7 411.0 82.0 407.7 88.1 407.0 96.0 401.6 114.0 401.8 118.5 399.0 119.6 397.0 120.5 389.0 116.0 384.9 107.8 375.0 105.7 371.0 98.0 363.1 98.0 359.3 102.0 361.0 116.0 370.8 128.0 381.9 150.0 398.9 154.0 400.4 166.0 400.4 167.5 399.0 160.8 389.0 160.0 382.7 174.0 392.5 176.0 393.2 178.0 392.2 178.7 391.0 178.0 389.0 176.0 387.8 163.8 373.0 161.2 367.0 153.2 357.0 145.3 343.0 146.0 341.8 152.0 344.2 160.0 350.3 164.0 349.3 166.0 349.8 176.0 359.1 182.0 366.0 186.0 368.3 192.3 375.0 204.7 385.0 213.4 395.0 217.8 411.0 224.0 419.7 228.0 421.6 250.0 426.4 256.0 425.3 259.3 423.0 260.2 421.0 259.9 419.0 250.0 410.6 244.9 403.0 243.4 397.0 244.5 391.0 247.3 387.0 258.0 380.3 262.0 379.0 274.0 378.0 279.3 375.0 281.2 371.0 283.7 357.0 287.3 345.0 278.3 319.0 275.3 307.0 274.2 305.0 263.1 295.0 259.6 283.0 256.3 277.0 255.1 271.0 252.5 265.0 254.4 261.0 254.9 247.0 259.4 237.0 267.3 225.0 273.4 221.0 277.2 215.0 276.1 209.0 277.6 203.0 277.8 195.0 282.0 187.2 290.6 179.0 290.4 169.0 288.1 157.0 289.3 151.0 292.0 148.0 294.0 147.6 296.0 147.6 302.0 150.7 306.0 150.3 308.0 151.9 314.0 153.3 322.0 160.7 328.0 163.7 331.8 157.0 335.6 153.0 336.1 151.0 335.6 145.0 330.7 137.0 332.0 136.3 339.2 137.0 342.0 134.6 348.0 132.1 366.0 134.0 374.0 131.5 378.0 129.2 379.2 127.0 378.5 121.0 384.0 116.9 388.0 117.1 406.0 128.8 410.0 129.5 410.1 117.0 412.8 107.0 413.7 99.0 413.9 81.0 416.5 77.0 421.2 53.0 726.0 53.0 726.0 547.0Z"/>
<path fill="#0093ff" fill-rule="evenodd" d="M726.0 547.0 74.0 547.0 74.0 424.4 80.0 421.4 88.4 419.0 90.0 417.0 87.3 413.0 88.0 412.0 99.6 405.0 102.0 404.4 116.0 405.6 122.4 401.0 123.2 395.0 121.8 389.0 116.0 383.9 108.0 374.1 105.7 369.0 103.2 367.0 104.0 366.1 116.0 372.5 134.0 387.6 150.0 399.9 154.0 401.9 168.0 402.3 169.5 401.0 161.6 389.0 162.0 386.3 176.0 394.8 178.0 395.3 180.0 394.2 180.3 391.0 168.8 379.0 164.0 372.8 161.4 367.0 153.6 357.0 145.7 343.0 148.0 342.4 152.0 344.4 158.0 349.7 160.0 350.5 166.0 350.2 176.0 359.4 182.0 366.2 186.0 368.6 192.0 375.0 204.2 385.0 210.8 393.0 216.5 411.0 220.2 417.0 224.0 421.1 248.0 427.1 254.0 426.7 260.0 423.4 261.2 421.0 260.0 417.7 250.0 409.7 245.7 403.0 244.4 397.0 245.5 391.0 248.0 387.6 258.0 380.9 262.0 379.5 276.0 378.0 279.9 375.0 281.6 371.0 284.1 357.0 287.6 345.0 275.9 307.0 264.1 295.0 260.8 283.0 257.5 277.0 256.7 271.0 254.5 265.0 256.2 261.0 256.8 247.0 261.3 237.0 268.0 226.2 274.0 222.5 278.1 217.0 277.4 209.0 278.9 205.0 278.8 197.0 283.0 189.0 292.0 180.9 292.6 179.0 289.5 157.0 290.0 154.4 293.2 151.0 296.0 150.0 302.0 152.5 306.0 151.0 308.0 153.2 314.0 154.5 320.7 161.0 328.0 165.5 330.0 164.2 332.0 159.3 336.0 155.4 336.6 153.0 336.3 145.0 332.0 136.7 334.0 136.3 340.0 137.9 348.0 133.5 350.0 133.2 368.0 134.9 376.0 132.0 380.0 129.1 380.7 123.0 386.0 117.9 390.0 118.9 410.0 130.9 411.3 129.0 411.2 117.0 414.1 107.0 415.1 99.0 415.1 83.0 417.7 77.0 422.0 53.0 717.2 53.0 718.0 55.2 720.0 56.6 726.0 55.4 726.0 547.0Z"/>
<path fill="#009fff" fill-rule="evenodd" d="M726.0 547.0 74.0 547.0 74.0 428.8 95.9 421.0 93.0 415.0 98.0 411.3 104.0 408.4 110.0 408.0 116.3 409.0 124.4 405.0 125.7 403.0 126.5 397.0 122.0 387.9 116.0 383.0 109.9 375.0 109.3 373.0 110.0 372.2 122.0 378.8 146.0 397.0 150.0 400.9 154.0 403.1 160.0 404.8 166.0 403.8 172.0 404.8 172.9 403.0 170.0 400.1 164.0 390.7 168.0 391.1 178.0 396.9 182.2 397.0 182.7 395.0 181.0 391.0 170.0 380.1 164.5 373.0 161.6 367.0 153.9 357.0 146.1 343.0 148.0 342.6 152.0 344.6 158.0 349.9 166.0 350.6 170.0 355.0 176.0 359.6 182.0 366.5 186.0 369.0 192.0 375.4 203.4 385.0 210.0 394.5 212.6 405.0 215.3 411.0 220.0 418.4 224.0 422.7 236.0 424.7 242.0 428.4 244.0 428.5 254.0 427.4 260.0 424.4 262.0 421.3 261.8 419.0 258.4 415.0 250.2 409.0 247.4 405.0 245.4 399.0 246.0 392.4 248.0 388.7 259.0 381.0 276.0 378.6 280.0 375.7 282.0 371.2 284.4 357.0 288.0 345.0 276.4 307.0 275.2 305.0 268.2 299.0 265.3 295.0 262.8 285.0 259.3 279.0 258.2 271.0 256.5 267.0 258.0 261.0 258.1 249.0 263.1 237.0 268.0 228.5 270.0 226.2 275.6 223.0 279.7 217.0 278.6 211.0 280.3 205.0 279.8 199.0 284.0 191.1 292.0 184.0 294.0 184.2 296.0 186.9 297.9 185.0 294.0 179.5 292.7 175.0 291.3 161.0 291.8 157.0 296.0 152.9 304.0 154.6 306.0 152.5 310.0 155.1 316.0 156.9 320.0 161.6 326.0 165.1 328.0 167.6 330.0 167.3 332.7 161.0 337.8 155.0 336.9 145.0 333.1 139.0 332.8 137.0 342.0 138.9 350.0 134.7 368.0 135.9 376.0 133.5 380.0 131.0 381.5 129.0 383.0 123.0 388.0 119.0 400.2 125.0 408.0 130.6 411.9 131.0 412.0 119.0 415.4 107.0 416.4 99.0 416.5 83.0 418.6 79.0 423.0 53.0 707.6 53.0 706.9 55.0 708.0 57.7 710.0 56.5 712.0 53.0 715.5 53.0 718.8 59.0 726.0 58.7 726.0 547.0Z"/>
<path fill="#00acff" fill-rule="evenodd" d="M726.0 547.0 74.0 547.0 74.0 434.8 82.0 430.6 98.0 424.9 100.0 423.0 98.2 419.0 98.4 417.0 100.0 415.9 109.7 411.0 118.0 411.5 126.0 409.0 127.6 407.0 128.0 404.6 130.4 401.0 124.0 391.3 122.5 387.0 118.0 383.6 116.0 380.1 122.0 381.1 139.8 393.0 150.0 401.8 160.0 406.4 174.0 406.3 175.5 405.0 174.0 402.4 171.6 401.0 167.9 395.0 170.0 394.1 180.0 399.0 184.0 399.8 186.0 399.2 185.6 397.0 180.1 389.0 170.0 379.7 164.8 373.0 161.8 367.0 154.4 357.0 147.8 345.0 147.0 343.0 148.0 342.8 152.0 344.8 158.0 350.2 166.0 350.9 172.0 357.2 176.0 359.9 182.0 366.7 186.0 369.4 202.4 385.0 207.3 393.0 210.6 405.0 222.1 423.0 224.0 424.3 236.0 426.0 237.5 427.0 240.0 432.1 256.0 427.3 260.4 425.0 262.1 423.0 262.6 419.0 259.5 415.0 252.0 409.8 249.4 407.0 246.6 401.0 246.8 393.0 249.1 389.0 260.0 381.1 276.0 379.2 280.0 376.5 282.0 372.9 284.7 357.0 287.7 349.0 288.3 345.0 276.9 307.0 267.5 297.0 264.1 285.0 260.4 279.0 260.0 273.0 258.4 267.0 259.8 263.0 260.0 249.0 269.4 229.0 276.0 224.7 280.5 219.0 281.2 217.0 279.8 211.0 281.5 207.0 281.1 201.0 285.4 193.0 292.0 187.0 294.0 186.9 298.0 188.8 298.9 187.0 298.0 183.1 294.1 177.0 292.6 163.0 293.7 159.0 298.0 155.3 304.0 157.2 306.0 155.0 308.0 154.8 312.0 157.2 316.0 158.1 320.0 162.6 326.0 166.3 328.0 169.3 330.0 169.7 334.0 161.7 338.0 158.1 338.9 155.0 338.3 147.0 333.6 139.0 334.0 137.5 338.0 139.2 344.0 140.0 350.0 137.0 354.0 137.6 358.0 136.5 370.0 136.7 376.0 135.0 380.0 132.8 383.5 129.0 384.3 125.0 388.0 121.0 390.0 120.6 400.0 125.1 408.0 131.1 410.0 131.7 413.0 131.0 413.1 119.0 416.7 107.0 417.8 99.0 417.7 85.0 419.9 79.0 424.0 53.0 706.9 53.0 704.0 61.5 706.0 61.4 714.0 55.5 716.0 57.3 716.6 61.0 718.0 62.5 726.0 61.9 726.0 547.0Z"/>
<path fill="#00b9ff" fill-rule="evenodd" d="M726.0 547.0 74.0 547.0 74.0 440.5 88.2 433.0 104.0 427.7 104.9 427.0 102.8 421.0 104.0 419.7 114.0 414.7 122.0 414.5 129.8 411.0 134.2 405.0 125.3 391.0 126.0 386.9 138.0 392.8 150.0 402.7 162.0 408.2 176.0 408.1 177.5 407.0 175.6 403.0 171.6 399.0 172.0 397.2 186.0 402.2 188.0 402.4 189.2 401.0 187.1 397.0 180.6 389.0 170.0 379.4 165.2 373.0 148.3 345.0 150.0 344.3 152.0 345.1 158.0 350.5 166.0 351.2 197.4 381.0 202.0 387.0 202.4 393.0 205.8 401.0 222.0 425.0 234.3 427.0 237.2 433.0 240.0 434.1 248.0 430.2 258.0 427.2 261.4 425.0 263.5 421.0 263.3 419.0 260.5 415.0 252.0 409.0 248.9 405.0 247.1 399.0 247.7 393.0 252.6 387.0 260.0 381.7 276.0 379.8 280.3 377.0 282.4 373.0 284.5 359.0 288.7 345.0 278.2 309.0 276.1 305.0 271.4 301.0 268.6 297.0 265.2 285.0 261.9 279.0 260.3 267.0 261.7 263.0 261.5 251.0 265.9 239.0 270.0 230.8 277.7 225.0 282.3 219.0 281.2 213.0 282.8 207.0 282.5 203.0 284.1 199.0 288.0 193.5 293.6 189.0 298.0 190.6 299.8 189.0 299.7 185.0 295.2 177.0 294.6 163.0 298.0 158.5 300.0 157.9 304.0 159.5 306.0 159.4 308.0 156.1 312.0 158.8 316.0 159.5 326.0 167.9 328.0 171.1 330.0 171.4 332.0 170.1 334.9 163.0 339.8 157.0 339.2 147.0 334.2 139.0 336.0 138.5 346.0 141.3 350.0 138.8 357.1 139.0 362.0 137.3 370.0 137.6 378.0 135.5 385.6 129.0 386.8 125.0 390.0 122.4 394.0 122.9 400.0 125.5 410.0 132.1 412.0 132.3 414.0 131.2 414.2 119.0 418.0 107.0 419.1 99.0 419.1 85.0 420.7 81.0 425.2 53.0 706.1 53.0 702.8 61.0 704.0 64.7 712.8 59.0 714.0 59.2 716.0 64.7 718.0 65.6 723.2 65.0 726.0 67.0 726.0 547.0ZM148.0 343.7 148.0 343.0 148.0 343.7Z"/>
<path fill="#00c6ff" fill-rule="evenodd" d="M726.0 547.0 74.0 547.0 74.0 446.6 92.0 436.7 108.0 430.6 109.4 429.0 108.4 423.0 120.0 418.5 126.0 417.7 134.0 413.2 136.1 409.0 136.0 405.0 128.0 393.0 130.0 392.2 138.0 394.8 150.0 403.6 160.0 408.7 166.0 410.6 178.0 410.1 179.5 409.0 177.2 403.0 178.0 401.1 188.0 404.9 190.0 404.9 192.0 403.0 186.5 395.0 179.1 387.0 176.0 385.1 174.0 381.9 170.0 379.0 165.5 373.0 150.9 349.0 150.1 347.0 152.0 345.7 156.0 350.1 160.0 351.5 162.0 350.9 166.0 351.5 194.5 379.0 198.8 387.0 198.8 391.0 201.2 397.0 222.0 427.2 232.0 428.6 236.0 434.2 240.0 435.4 262.0 425.3 264.0 421.5 264.0 419.0 261.5 415.0 252.9 409.0 249.7 405.0 247.9 399.0 248.8 393.0 253.7 387.0 260.0 382.4 266.0 380.9 276.0 380.4 280.9 377.0 282.8 373.0 284.8 359.0 289.0 345.0 278.9 309.0 276.6 305.0 270.6 299.0 266.4 285.0 264.0 281.0 262.1 269.0 263.4 263.0 263.2 251.0 266.8 241.0 271.8 231.0 278.0 226.6 282.7 221.0 283.6 219.0 282.6 213.0 284.2 209.0 284.0 204.0 287.8 197.0 294.0 191.7 300.0 192.2 300.6 191.0 300.5 185.0 296.7 179.0 296.3 177.0 295.8 169.0 296.7 165.0 300.0 160.8 306.0 162.3 307.4 161.0 308.0 158.4 310.0 158.1 314.0 161.4 321.0 165.0 328.0 172.5 330.0 173.0 333.0 171.0 336.0 164.2 340.0 159.6 340.5 157.0 340.1 147.0 335.9 141.0 336.0 139.1 346.0 143.1 352.0 140.1 358.0 140.3 362.0 138.6 370.0 138.3 378.0 136.5 386.0 131.0 390.0 125.0 394.0 123.6 400.0 125.9 408.0 131.6 414.0 133.0 415.1 131.0 415.3 119.0 419.3 107.0 420.5 99.0 420.3 87.0 422.0 81.0 426.3 53.0 705.2 53.0 704.3 57.0 701.9 61.0 701.3 67.0 702.0 68.4 712.0 62.0 714.0 64.0 714.4 67.0 716.0 68.6 726.0 68.2 726.0 547.0ZM150.0 346.8 149.1 345.0 150.0 344.6 151.0 345.0 150.0 346.8Z"/>
<path fill="#00d2ff" fill-rule="evenodd" d="M726.0 547.0 74.0 547.0 74.0 468.3 74.8 467.0 74.0 465.0 76.5 459.0 74.2 455.0 75.0 453.0 77.9 451.0 96.0 440.2 113.0 433.0 114.0 431.0 112.9 427.0 115.8 425.0 122.0 422.9 128.0 422.3 132.0 419.4 136.0 418.0 138.0 414.9 141.2 413.0 138.0 408.5 134.6 399.0 136.0 397.9 144.0 401.0 162.0 410.8 168.0 412.8 180.0 412.1 181.6 411.0 180.0 404.5 190.0 407.2 192.6 407.0 195.1 405.0 189.3 397.0 179.7 387.0 176.0 384.4 174.0 381.4 170.6 379.0 165.9 373.0 154.8 355.0 153.3 351.0 154.0 349.4 160.0 352.0 162.0 351.3 166.0 351.8 186.0 370.8 193.2 379.0 196.9 387.0 196.0 388.2 194.0 388.1 194.0 389.9 205.2 407.0 216.0 419.9 220.6 429.0 222.0 429.9 228.0 429.9 230.3 431.0 234.0 435.0 240.0 436.5 250.3 431.0 260.0 427.4 262.9 425.0 264.6 421.0 264.0 417.6 260.3 413.0 253.9 409.0 250.4 405.0 249.1 401.0 249.2 395.0 252.9 389.0 260.0 383.0 266.0 381.4 276.0 380.9 281.5 377.0 283.3 373.0 285.6 357.0 289.3 345.0 279.5 309.0 271.6 299.0 268.2 287.0 265.3 281.0 263.9 269.0 265.1 265.0 265.1 251.0 272.2 233.0 279.6 227.0 284.5 221.0 284.3 215.0 285.6 205.0 289.1 199.0 292.0 196.7 296.0 195.8 298.0 194.3 300.0 195.7 302.0 194.2 301.2 185.0 297.6 179.0 297.5 171.0 298.7 167.0 302.0 163.8 306.0 165.0 308.0 164.6 310.0 159.9 316.0 164.3 320.0 165.3 322.0 168.5 327.0 173.0 330.0 174.4 332.0 174.1 334.0 172.3 337.4 165.0 340.0 162.5 340.9 159.0 340.7 147.0 336.8 141.0 340.0 140.6 346.0 143.8 348.0 143.8 354.0 141.3 360.0 141.4 366.0 139.1 378.0 137.4 384.0 133.2 389.3 131.0 391.2 127.0 394.0 124.7 400.0 126.2 410.0 132.8 415.7 133.0 416.5 119.0 420.7 107.0 421.8 99.0 421.6 87.0 427.4 53.0 704.2 53.0 703.5 57.0 701.4 61.0 701.4 65.0 699.7 67.0 699.1 71.0 700.0 72.1 706.0 69.3 708.0 66.5 710.0 65.4 712.0 66.0 714.0 70.6 716.0 71.6 724.0 71.3 726.0 69.5 726.0 547.0ZM152.0 350.0 150.9 347.0 152.0 346.2 153.7 349.0 152.0 350.0Z"/>
<path fill="#00dfff" fill-rule="evenodd" d="M726.0 547.0 74.0 547.0 74.0 474.4 80.0 469.0 81.0 467.0 81.3 461.0 80.3 457.0 82.0 455.5 92.0 448.5 117.8 435.0 118.0 431.0 120.0 428.5 126.0 426.6 130.6 427.0 142.0 421.2 146.0 417.4 144.0 412.4 140.0 408.7 139.3 407.0 140.0 404.2 152.0 406.7 162.0 411.9 170.0 414.7 184.0 413.9 184.8 413.0 182.8 409.0 184.0 407.2 192.0 409.7 199.4 409.0 199.0 407.0 192.3 399.0 171.1 379.0 166.0 372.7 155.2 355.0 154.8 353.0 156.0 351.4 160.0 352.5 166.0 352.1 187.2 373.0 191.5 379.0 189.0 385.0 201.1 405.0 215.5 421.0 217.3 425.0 218.2 431.0 220.0 432.8 228.0 433.5 234.2 437.0 240.0 437.5 244.0 436.0 251.8 431.0 260.0 428.0 263.6 425.0 265.0 421.0 264.3 417.0 261.4 413.0 254.0 408.3 251.2 405.0 249.9 401.0 250.2 395.0 255.8 387.0 261.2 383.0 266.0 381.8 276.0 381.5 280.0 379.4 282.0 377.2 283.7 373.0 285.4 359.0 289.6 345.0 281.5 313.0 279.0 307.0 272.7 299.0 269.4 287.0 266.7 281.0 265.9 271.0 266.7 265.0 266.5 253.0 272.8 235.0 284.9 223.0 287.0 207.0 290.0 201.5 294.0 198.3 300.0 199.2 303.2 195.0 301.9 185.0 298.7 179.0 300.1 171.0 302.8 167.0 308.0 168.0 310.0 162.3 312.0 162.3 316.0 166.1 320.0 167.0 325.2 173.0 330.0 176.4 334.0 174.8 338.0 166.9 341.4 163.0 341.9 149.0 340.2 145.0 338.1 143.0 340.0 141.0 346.0 144.5 349.5 145.0 356.0 142.2 362.0 142.7 366.0 139.8 380.0 137.6 384.0 134.6 390.0 132.2 392.0 128.7 396.0 126.0 400.0 126.6 410.0 133.1 416.0 133.8 416.9 133.0 417.6 119.0 422.0 107.0 423.0 101.0 423.1 87.0 428.4 53.0 702.6 53.0 702.6 57.0 700.8 61.0 700.8 65.0 698.9 67.0 697.5 71.0 698.0 77.5 710.0 68.6 712.0 70.0 714.0 74.2 722.0 74.0 726.0 71.5 726.0 547.0ZM338.0 142.3 337.9 141.0 339.3 141.0 338.0 142.3ZM152.0 349.2 152.0 346.8 152.0 349.2ZM173.2 367.0 168.2 361.0 168.0 358.9 166.0 357.1 163.8 357.0 167.8 361.0 170.0 365.2 172.0 367.2 173.2 367.0Z"/>
<path fill="#00ecff" fill-rule="evenodd" d="M726.0 547.0 74.0 547.0 74.0 478.0 80.0 475.6 85.9 469.0 85.3 461.0 89.7 457.0 104.0 447.5 124.5 437.0 124.0 433.0 132.0 431.5 144.0 425.3 149.5 421.0 149.8 419.0 147.5 413.0 150.0 410.1 156.6 411.0 168.0 416.0 174.0 417.1 186.0 416.2 187.3 415.0 188.0 410.8 206.0 413.7 214.2 421.0 216.0 425.0 216.6 433.0 218.0 434.2 236.0 438.8 240.0 438.6 244.0 437.1 252.0 431.6 262.0 427.5 264.0 425.4 265.5 421.0 264.8 417.0 262.0 412.5 254.0 407.4 252.0 405.0 250.6 399.0 251.5 395.0 255.2 389.0 262.0 383.2 266.0 382.3 276.0 382.1 282.0 378.0 284.1 373.0 286.2 357.0 289.9 347.0 288.9 339.0 282.2 313.0 279.5 307.0 274.6 301.0 268.2 281.0 268.2 253.0 273.5 237.0 276.2 233.0 282.0 228.6 286.8 223.0 286.8 217.0 288.7 213.0 289.2 207.0 292.0 202.4 296.0 200.2 300.7 201.0 304.0 197.9 304.4 195.0 303.0 185.0 299.9 179.0 304.0 171.0 310.0 169.9 312.0 164.2 320.0 169.3 324.0 174.0 328.0 176.0 330.0 178.4 332.0 178.4 335.6 175.0 342.7 163.0 343.0 149.0 339.0 143.0 340.0 142.0 346.0 145.2 352.0 146.2 356.0 143.7 362.0 143.9 366.0 140.4 380.0 138.6 391.0 133.0 394.0 129.0 398.0 126.8 400.0 127.0 410.0 133.4 416.0 134.9 418.0 133.0 418.8 119.0 423.3 107.0 424.4 101.0 424.2 89.0 429.4 53.0 700.7 53.0 701.6 57.0 700.1 65.0 698.0 67.0 696.8 71.0 696.0 80.2 698.0 80.8 708.0 72.2 710.0 72.0 712.0 76.5 714.0 77.7 722.0 77.5 724.0 74.8 726.0 74.2 726.0 547.0ZM190.0 393.5 186.0 391.2 170.0 377.2 157.7 359.0 155.7 355.0 156.0 352.1 159.9 353.0 164.4 359.0 167.0 361.0 168.0 363.8 174.0 369.6 174.5 367.0 169.1 361.0 168.0 358.0 160.5 353.0 166.0 352.4 184.9 371.0 190.2 379.0 188.1 381.0 187.3 385.0 190.0 390.9 190.0 393.5Z"/>
<path fill="#00f9ff" fill-rule="evenodd" d="M726.0 547.0 74.0 547.0 74.0 484.8 80.7 479.0 86.0 476.0 90.8 471.0 89.4 465.0 91.3 463.0 108.0 451.1 130.0 439.5 132.0 436.9 148.0 428.0 154.0 423.5 154.3 421.0 152.4 417.0 154.0 415.7 162.0 415.7 168.0 417.9 178.0 419.7 188.0 417.8 190.0 413.8 204.0 415.8 210.0 418.6 214.0 422.8 215.2 427.0 214.9 433.0 216.4 435.0 220.0 436.7 234.0 440.0 242.0 439.0 252.0 432.3 260.4 429.0 264.0 426.3 266.0 421.0 265.4 417.0 262.0 411.4 254.6 407.0 252.9 405.0 251.6 401.0 252.0 396.9 256.3 389.0 262.0 383.9 266.0 382.8 276.0 382.8 282.0 378.8 284.5 373.0 286.5 357.0 290.2 347.0 289.3 339.0 282.7 313.0 280.1 307.0 275.6 301.0 269.9 283.0 269.8 255.0 275.2 237.0 288.0 223.9 288.0 218.4 290.7 213.0 290.9 209.0 292.9 205.0 296.0 202.5 302.0 202.9 305.3 199.0 304.0 183.0 302.5 179.0 306.0 174.2 310.0 173.2 312.0 168.7 314.0 167.0 322.0 172.5 324.0 175.9 330.0 179.7 332.0 180.2 336.0 176.9 343.7 163.0 343.3 155.0 345.0 151.0 341.5 145.0 342.0 143.2 346.0 145.7 354.0 147.3 357.9 145.0 362.1 145.0 364.0 144.0 366.3 141.0 380.0 139.6 392.0 133.7 396.0 129.6 400.0 128.0 410.0 133.7 416.0 135.5 418.3 135.0 419.9 119.0 424.7 107.0 425.7 101.0 425.6 89.0 430.4 53.0 699.5 53.0 700.0 63.0 696.6 67.0 694.8 81.0 696.0 84.2 698.0 83.5 700.0 80.8 708.0 75.1 710.0 76.4 712.0 80.4 716.0 80.3 720.0 82.1 722.0 79.1 724.0 78.5 726.0 80.0 726.0 547.0ZM340.0 143.1 340.7 143.0 340.0 143.1ZM182.0 383.5 180.0 384.5 178.0 383.5 170.0 376.4 166.0 371.6 158.2 359.0 156.0 352.9 159.1 353.0 159.6 355.0 166.1 361.0 168.0 364.7 174.0 370.8 176.0 371.8 176.5 371.0 175.1 367.0 169.9 361.0 170.0 358.0 176.0 361.9 182.5 369.0 186.7 375.0 186.0 378.8 188.0 378.2 188.3 379.0 186.0 379.0 182.0 383.5ZM166.0 355.9 162.8 353.0 166.0 352.7 167.4 355.0 166.0 355.9Z"/>
<path fill="#06fff9" fill-rule="evenodd" d="M726.0 547.0 74.0 547.0 74.0 497.1 75.9 495.0 76.3 493.0 74.0 491.2 74.0 490.1 74.4 489.0 79.1 487.0 85.2 481.0 91.4 477.0 95.8 471.0 94.9 469.0 96.0 466.5 118.0 451.0 134.0 442.3 140.0 437.2 158.8 427.0 159.8 423.0 162.0 422.1 170.0 421.0 182.0 422.6 188.0 420.9 192.0 416.3 204.0 418.0 210.0 420.4 212.7 423.0 214.0 427.0 213.6 433.0 216.0 436.2 224.0 439.4 234.0 441.4 242.0 440.1 251.9 433.0 261.7 429.0 264.0 427.1 266.0 423.0 265.9 417.0 262.0 410.2 256.0 407.1 253.8 405.0 252.7 401.0 253.4 397.0 257.5 389.0 262.0 384.6 266.0 383.3 276.0 383.4 280.0 381.4 282.5 379.0 284.5 375.0 286.8 357.0 290.5 347.0 289.6 339.0 283.3 313.0 276.7 301.0 271.3 283.0 271.6 255.0 275.9 239.0 280.0 233.5 289.3 225.0 290.0 223.0 289.5 219.0 291.9 215.0 294.2 207.0 296.0 205.1 298.0 204.5 302.3 205.0 306.0 201.7 306.5 199.0 305.3 181.0 306.0 179.2 311.1 175.0 314.0 169.1 318.0 170.4 324.0 177.2 332.0 182.1 334.0 181.2 338.0 177.1 340.0 171.5 344.3 165.0 344.4 155.0 346.2 153.0 346.5 151.0 343.4 147.0 344.0 145.2 352.0 148.2 356.0 148.0 364.2 145.0 366.0 142.4 368.0 141.4 374.0 141.9 382.0 139.9 392.0 135.2 400.0 129.2 416.0 136.1 418.0 136.5 419.4 135.0 421.0 119.0 426.0 107.0 427.1 101.0 427.0 89.0 431.6 53.0 698.6 53.0 698.8 63.0 695.2 67.0 695.2 75.0 693.8 81.0 694.0 83.8 696.0 86.6 702.9 81.0 708.0 78.7 710.3 83.0 716.0 83.8 718.0 85.6 722.0 82.5 726.0 83.9 726.0 547.0ZM176.0 377.1 172.0 377.7 166.0 371.1 158.0 357.1 157.4 353.0 158.3 353.0 158.6 355.0 165.3 361.0 168.0 365.7 174.0 372.8 176.0 374.3 177.5 371.0 175.7 367.0 171.1 361.0 172.0 360.3 176.0 362.3 184.9 373.0 185.6 375.0 184.0 376.6 180.0 375.6 176.0 377.1ZM166.0 355.4 163.9 353.0 166.0 353.0 166.0 355.4Z"/>
<path fill="#13ffec" fill-rule="evenodd" d="M726.0 547.0 74.0 547.0 74.0 502.9 76.9 501.0 81.8 495.0 82.4 493.0 81.3 491.0 82.6 489.0 97.9 477.0 101.2 473.0 102.0 470.1 105.3 467.0 121.4 455.0 144.0 440.3 167.3 429.0 184.0 426.7 196.0 419.6 206.0 420.7 210.0 422.2 212.0 424.2 212.7 427.0 212.3 433.0 215.2 437.0 224.3 441.0 234.0 442.7 242.0 441.2 253.0 433.0 264.0 427.9 266.4 423.0 266.0 415.9 262.0 408.8 255.0 405.0 253.9 403.0 254.2 399.0 258.7 389.0 262.6 385.0 266.0 383.9 276.0 384.1 280.0 382.1 283.1 379.0 284.9 375.0 286.6 359.0 290.8 347.0 290.0 339.0 284.5 315.0 282.2 309.0 278.5 303.0 273.1 285.0 273.1 257.0 276.6 241.0 280.6 235.0 291.0 225.0 291.5 219.0 296.0 208.3 298.0 207.0 304.0 206.7 306.0 204.8 307.4 201.0 307.2 191.0 309.7 187.0 308.0 186.3 307.5 183.0 312.0 179.2 315.9 171.0 318.0 171.8 326.0 180.3 330.0 182.2 332.0 184.6 334.0 183.7 338.4 179.0 340.8 173.0 344.9 167.0 345.6 157.0 348.2 153.0 346.0 147.6 344.7 147.0 348.0 146.8 352.0 149.0 358.0 149.1 365.5 145.0 368.0 142.6 376.0 143.3 380.0 141.9 392.0 136.9 396.4 133.0 402.0 130.8 418.0 137.4 420.0 135.7 422.2 119.0 426.7 109.0 428.2 103.0 429.6 73.0 432.9 53.0 697.7 53.0 697.9 61.0 696.0 62.5 693.8 67.0 694.3 75.0 693.1 81.0 694.0 87.4 696.0 89.2 706.0 81.8 708.0 82.9 710.0 86.0 714.5 87.0 716.0 89.6 718.0 89.3 720.0 86.0 722.0 85.8 726.0 87.4 726.0 547.0ZM660.0 73.0 660.0 70.6 658.0 72.7 658.0 73.9 660.0 73.0ZM170.0 373.9 166.0 369.8 160.0 359.6 160.0 357.7 164.5 361.0 169.3 369.0 170.9 373.0 170.0 373.9ZM184.0 375.3 180.0 373.0 173.0 363.0 174.0 361.5 180.0 367.1 184.2 373.0 184.0 375.3Z"/>
<path fill="#20ffdf" fill-rule="evenodd" d="M726.0 547.0 74.0 547.0 74.0 512.1 78.5 505.0 87.7 495.0 88.7 493.0 88.4 491.0 90.0 489.1 101.2 481.0 112.0 469.3 132.7 453.0 156.0 439.2 164.0 436.8 180.0 435.5 190.9 433.0 193.4 431.0 193.7 427.0 196.0 424.5 208.0 423.4 210.5 425.0 210.9 433.0 214.0 437.4 226.0 442.9 236.0 443.8 244.0 441.3 254.1 433.0 264.0 428.7 266.8 423.0 266.2 415.0 262.0 406.6 256.0 404.2 256.0 399.5 258.9 391.0 262.0 386.4 266.0 384.5 276.0 384.7 280.0 382.7 283.7 379.0 285.4 375.0 286.8 359.0 291.1 347.0 290.4 339.0 285.1 315.0 279.5 303.0 274.4 285.0 274.8 257.0 278.0 241.8 282.0 235.9 291.5 227.0 294.0 217.6 297.1 211.0 298.0 210.1 304.0 209.0 306.7 207.0 308.6 201.0 308.1 197.0 308.9 193.0 313.6 189.0 313.0 185.0 313.7 181.0 316.6 175.0 318.0 174.0 320.0 174.8 326.0 181.7 330.0 184.6 332.0 187.7 340.0 179.3 342.0 173.8 345.5 169.0 347.1 159.0 349.4 155.0 349.5 153.0 347.3 149.0 348.0 147.8 358.3 151.0 363.1 147.0 366.0 145.7 370.0 144.3 378.0 144.4 396.0 137.4 398.0 134.5 402.0 132.2 412.0 134.8 418.0 138.0 420.2 137.0 421.9 133.0 423.3 119.0 429.3 105.0 430.6 73.0 434.3 53.0 686.7 53.0 688.0 57.6 690.0 57.3 691.4 53.0 696.2 53.0 696.2 59.0 694.2 65.0 692.5 67.0 693.3 87.0 692.6 91.0 694.0 92.7 696.0 92.1 701.3 87.0 706.0 85.1 708.9 89.0 712.0 89.6 716.0 92.7 720.0 89.3 726.0 90.9 726.0 547.0ZM660.6 77.0 661.2 71.0 660.0 69.2 658.0 71.2 657.0 75.0 660.0 78.6 660.6 77.0ZM638.5 111.0 638.0 108.6 638.0 112.9 638.5 111.0ZM162.0 361.5 162.0 360.6 162.8 361.0 162.0 361.5ZM164.0 364.2 163.3 363.0 164.0 362.1 164.0 364.2ZM174.0 363.4 174.0 362.4 175.6 363.0 174.0 363.4ZM176.0 365.6 176.0 363.3 176.9 365.0 176.0 365.6ZM178.0 367.9 178.0 366.1 178.7 367.0 178.0 367.9ZM182.0 372.8 179.6 371.0 179.1 369.0 180.0 368.2 182.1 371.0 182.0 372.8Z"/>
<path fill="#2dffd2" fill-rule="evenodd" d="M726.0 547.0 74.0 547.0 74.0 521.7 76.6 519.0 84.5 505.0 93.9 495.0 96.2 491.0 114.1 477.0 119.1 471.0 132.7 459.0 156.0 444.4 164.0 442.0 180.0 441.2 188.0 439.1 194.0 436.8 202.0 429.2 206.0 427.6 208.0 427.8 210.4 435.0 214.5 439.0 226.0 444.2 236.0 445.0 244.0 442.4 254.0 433.9 264.4 429.0 266.7 425.0 267.3 419.0 264.2 407.0 265.1 399.0 261.1 395.0 260.4 391.0 264.0 385.9 268.0 384.9 272.0 386.0 276.0 385.4 280.0 383.4 284.0 379.4 285.8 375.0 287.1 359.0 291.4 347.0 290.4 337.0 285.7 315.0 281.1 305.0 275.9 285.0 276.3 259.0 279.2 243.0 283.0 237.0 293.2 227.0 295.4 219.0 298.7 213.0 304.0 212.4 308.0 208.5 309.6 203.0 310.0 195.5 315.9 191.0 314.9 185.0 318.1 177.0 320.0 176.3 322.0 177.9 332.0 189.4 334.0 189.3 340.4 181.0 343.1 175.0 346.1 171.0 348.0 161.9 351.4 155.0 349.3 151.0 350.0 149.1 360.0 152.2 364.0 147.4 378.0 145.8 397.8 139.0 400.4 135.0 404.0 133.2 412.0 135.2 418.0 138.6 421.3 137.0 422.9 133.0 422.9 127.0 424.4 119.0 430.7 105.0 431.6 73.0 434.0 57.2 435.8 53.0 678.2 53.0 680.0 54.1 681.0 53.0 685.4 53.0 686.6 61.0 690.3 65.0 692.0 72.1 692.6 87.0 691.2 91.0 692.0 94.5 694.0 95.6 696.0 95.3 702.0 89.0 704.0 88.3 706.0 89.2 708.0 92.2 712.0 93.4 714.0 95.8 716.0 95.6 718.0 93.0 720.0 92.6 725.7 95.0 726.0 96.6 726.0 547.0ZM660.2 81.0 662.1 79.0 661.5 75.0 662.5 71.0 666.0 67.0 668.0 62.7 662.0 68.5 660.0 68.5 656.5 73.0 655.7 77.0 658.0 80.9 660.2 81.0ZM638.1 115.0 639.3 111.0 638.0 107.3 637.0 111.0 638.1 115.0Z"/>
<path fill="#39ffc6" fill-rule="evenodd" d="M726.0 547.0 74.0 547.0 74.0 530.0 83.3 517.0 88.8 507.0 102.2 493.0 116.0 483.0 135.5 463.0 157.7 449.0 166.0 446.8 184.0 444.5 194.0 439.7 204.0 432.2 206.0 432.4 214.0 439.9 224.0 444.8 230.0 446.2 238.0 445.8 244.0 443.5 254.0 434.6 262.0 431.3 265.1 429.0 267.1 425.0 267.7 421.0 265.4 407.0 266.5 401.0 266.0 397.6 262.5 393.0 262.4 389.0 263.7 387.0 266.0 385.9 272.0 387.0 276.0 386.2 280.0 384.1 284.0 380.2 286.2 375.0 287.4 359.0 291.7 347.0 290.8 337.0 286.4 315.0 281.9 305.0 280.3 295.0 277.6 287.0 278.0 259.0 280.1 245.0 285.0 237.0 293.7 229.0 295.7 223.0 298.0 219.5 300.3 219.0 302.0 215.9 308.2 211.0 310.3 207.0 312.0 197.4 317.6 193.0 316.7 187.0 320.0 178.9 324.0 181.1 330.0 189.2 334.0 191.2 342.0 181.3 344.0 176.4 346.7 173.0 349.4 163.0 352.8 157.0 352.0 152.4 350.8 151.0 354.0 150.8 360.0 153.5 362.0 153.1 363.9 149.0 366.0 148.0 378.0 146.9 390.0 144.6 400.0 140.1 402.0 136.3 406.0 134.3 412.0 135.7 418.0 139.2 420.8 139.0 422.0 137.8 423.6 135.0 424.1 125.0 425.6 119.0 432.2 105.0 432.6 73.0 434.7 59.0 437.4 53.0 677.1 53.0 676.2 57.0 678.0 57.3 683.2 53.0 684.4 53.0 683.9 57.0 684.9 63.0 689.1 69.0 690.4 73.0 691.9 87.0 690.3 93.0 692.0 97.5 696.0 98.9 698.0 98.3 698.7 95.0 702.0 92.2 704.0 91.7 706.5 95.0 710.0 95.9 714.0 98.6 718.0 96.3 722.0 96.8 724.0 98.3 726.0 102.6 726.0 547.0ZM661.5 81.0 662.6 79.0 663.3 73.0 671.2 61.0 670.0 59.8 658.0 69.8 651.9 79.0 651.7 81.0 656.0 81.7 658.0 83.0 660.0 82.8 661.5 81.0ZM638.5 119.0 640.0 109.0 638.0 106.5 636.4 109.0 636.5 111.0 638.0 120.6 638.5 119.0Z"/>
<path fill="#46ffb9" fill-rule="evenodd" d="M726.0 547.0 74.0 547.0 74.0 540.8 93.2 509.0 98.3 503.0 108.0 495.2 120.0 488.0 133.8 471.0 138.0 467.2 160.0 453.4 166.0 451.3 180.0 449.1 186.0 447.3 204.0 435.0 206.0 435.2 213.7 441.0 224.0 445.9 230.0 447.4 238.0 446.9 244.0 444.6 254.6 435.0 262.0 431.9 265.7 429.0 268.0 421.0 266.4 407.0 267.3 401.0 263.8 389.0 266.0 386.7 268.0 386.6 272.0 388.5 274.0 387.9 280.0 384.7 284.1 381.0 286.7 375.0 286.7 365.0 287.7 359.0 291.9 347.0 291.3 337.0 287.4 317.0 282.9 305.0 281.6 295.0 279.0 287.0 279.9 257.0 281.9 245.0 286.0 238.1 295.7 229.0 298.0 223.3 302.0 220.9 309.0 213.0 312.0 207.0 313.2 201.0 316.6 199.0 319.7 195.0 319.2 189.0 320.5 183.0 322.0 181.5 326.2 185.0 330.0 190.4 334.0 193.4 336.0 191.9 348.5 173.0 350.0 165.7 354.3 159.0 354.7 157.0 353.2 153.0 354.0 151.8 360.0 154.4 362.0 154.3 366.0 149.3 372.0 149.6 382.0 147.4 390.0 146.8 402.0 141.6 403.8 137.0 406.0 135.4 412.0 136.2 418.0 139.6 422.8 139.0 424.7 135.0 424.9 127.0 426.1 121.0 433.5 105.0 433.5 73.0 435.8 59.0 438.8 53.0 676.1 53.0 675.3 55.0 672.0 58.1 668.0 60.2 662.0 66.4 658.0 69.1 646.7 85.0 646.0 88.7 654.0 83.8 656.0 84.9 660.0 84.0 662.3 81.0 664.7 73.0 672.0 62.5 676.0 61.4 682.0 57.1 683.2 59.0 684.0 65.9 688.0 71.7 689.6 77.0 690.9 87.0 689.5 91.0 689.9 97.0 692.0 100.4 696.0 101.6 698.0 100.7 700.0 96.5 702.0 95.1 704.0 95.8 706.0 98.3 712.0 101.3 718.0 99.6 722.0 100.4 726.0 107.0 726.0 547.0ZM640.3 101.0 640.0 98.3 640.0 102.3 640.3 101.0ZM638.2 125.0 639.7 119.0 640.4 109.0 639.6 107.0 638.0 105.9 636.2 107.0 635.7 109.0 637.2 117.0 636.5 123.0 637.3 125.0 638.2 125.0Z"/>
<path fill="#53ffac" fill-rule="evenodd" d="M726.0 547.0 75.4 547.0 82.0 539.0 92.7 519.0 100.7 507.0 108.0 500.8 122.0 494.4 128.0 488.3 138.0 473.5 142.0 470.3 166.0 456.0 188.0 449.5 204.0 437.2 206.0 437.4 212.0 441.3 224.0 447.1 230.0 448.4 236.0 448.3 244.0 445.6 255.8 435.0 264.0 431.4 266.0 429.5 267.9 425.0 268.4 421.0 267.3 407.0 268.0 391.6 270.0 391.2 280.0 385.4 285.9 379.0 287.1 375.0 287.6 361.0 292.2 347.0 291.7 337.0 288.0 317.0 284.2 307.0 283.2 297.0 280.5 287.0 281.5 257.0 283.7 245.0 287.2 239.0 297.7 229.0 299.3 225.0 304.0 222.1 310.3 215.0 314.5 205.0 322.0 196.0 321.3 191.0 323.2 185.0 324.0 184.7 326.0 186.2 329.3 191.0 334.0 195.1 336.0 195.0 340.0 187.8 349.1 175.0 351.1 167.0 355.9 159.0 355.0 155.0 356.0 153.2 362.0 155.3 364.0 154.8 366.0 151.4 368.0 150.7 374.0 151.1 380.0 149.2 390.0 148.5 395.7 147.0 404.0 142.8 406.0 137.9 408.0 136.6 412.0 136.7 418.0 140.1 424.0 140.5 425.9 135.0 425.8 127.0 427.1 121.0 433.7 109.0 434.8 105.0 434.5 73.0 437.0 59.0 440.3 53.0 562.0 53.0 675.5 53.0 662.0 65.8 660.0 66.2 658.0 68.2 641.5 91.0 642.0 92.6 644.0 93.4 646.0 90.9 650.0 89.1 654.0 89.8 658.0 85.8 660.2 85.0 662.9 81.0 664.6 75.0 670.0 67.5 678.2 63.0 682.0 58.7 682.5 61.0 681.2 63.0 683.0 69.0 688.0 77.0 688.7 85.0 689.7 87.0 688.8 91.0 689.0 99.0 692.0 103.4 694.0 104.5 696.0 104.3 702.0 98.4 710.0 104.1 720.0 103.3 722.0 105.0 723.5 109.0 726.0 110.3 726.0 547.0ZM640.7 103.0 642.1 97.0 640.0 96.6 639.0 101.0 640.0 104.6 640.7 103.0ZM633.3 107.0 632.0 104.9 630.0 105.0 627.6 103.0 629.6 105.0 630.0 107.3 633.3 107.0ZM638.1 127.0 640.3 119.0 640.9 109.0 640.0 105.5 638.0 105.3 634.6 107.0 636.6 117.0 635.8 125.0 638.1 127.0ZM268.0 390.7 266.0 389.9 266.0 388.7 268.0 388.6 268.0 390.7Z"/>
<path fill="#60ff9f" fill-rule="evenodd" d="M726.0 547.0 83.4 547.0 83.8 545.0 89.2 537.0 98.2 519.0 104.0 510.4 112.0 503.9 121.8 501.0 124.0 499.6 130.0 492.7 142.0 475.9 154.0 469.6 168.0 460.2 188.0 452.5 204.0 439.6 206.0 439.7 224.0 448.1 230.0 449.5 236.0 449.3 244.0 446.7 256.0 435.8 266.0 430.3 267.8 427.0 268.6 423.0 268.7 395.0 272.6 391.0 282.0 384.6 286.4 379.0 287.5 375.0 287.9 361.0 292.5 347.0 292.1 337.0 288.7 317.0 285.8 309.0 284.4 297.0 282.2 289.0 283.4 253.0 285.4 245.0 289.1 239.0 298.4 231.0 300.0 226.8 305.9 223.0 314.3 213.0 316.0 208.8 323.2 199.0 324.0 197.0 323.2 193.0 324.0 188.1 326.0 188.2 327.9 191.0 334.0 196.2 336.2 197.0 341.1 189.0 348.9 179.0 352.9 167.0 357.2 159.0 358.0 155.0 364.0 156.1 368.0 152.4 374.0 152.8 380.0 150.9 396.0 148.9 408.0 143.2 409.3 139.0 412.0 137.8 424.0 142.3 425.7 141.0 426.7 137.0 427.6 123.0 435.8 107.0 435.5 73.0 438.0 59.4 441.8 53.0 562.0 53.0 674.9 53.0 662.0 65.2 660.0 65.2 658.0 67.2 648.7 81.0 646.0 83.2 644.4 87.0 641.0 91.0 641.5 95.0 639.2 97.0 637.5 105.0 634.0 106.3 632.0 103.5 630.0 103.4 628.0 100.8 625.7 103.0 624.8 107.0 622.6 109.0 626.0 111.5 628.0 112.1 631.3 109.0 634.0 108.4 634.8 113.0 636.0 115.0 635.2 123.0 636.0 127.3 638.0 128.0 640.0 124.1 641.3 109.0 640.9 105.0 644.0 97.5 648.0 93.3 652.0 91.8 654.0 92.2 656.0 90.4 658.0 87.1 662.0 84.0 666.0 74.2 672.0 69.1 680.0 63.9 681.2 67.0 680.2 71.0 680.9 73.0 684.0 75.8 686.6 81.0 688.4 89.0 688.0 100.2 692.0 106.7 696.0 107.1 698.0 103.9 702.0 102.1 708.0 107.1 710.0 107.6 718.0 106.4 719.6 107.0 722.0 111.9 726.0 112.9 726.0 547.0Z"/>
<path fill="#6cff93" fill-rule="evenodd" d="M726.0 547.0 89.6 547.0 102.6 521.0 107.9 513.0 114.0 508.1 126.0 502.9 132.0 495.8 138.0 486.4 144.0 480.3 157.6 473.0 172.0 462.7 190.0 453.8 204.0 442.5 208.0 442.7 226.0 449.8 232.0 450.6 238.0 450.0 246.0 446.5 256.0 436.7 266.1 431.0 268.3 427.0 269.0 423.0 268.8 407.0 269.8 395.0 282.3 385.0 287.0 379.0 287.9 375.0 287.8 363.0 292.8 347.0 292.3 335.0 283.7 289.0 284.9 253.0 287.1 245.0 291.0 239.0 301.3 231.0 302.0 228.3 308.0 223.7 316.0 214.8 322.0 204.6 325.1 201.0 325.8 199.0 325.2 193.0 326.0 191.7 332.0 195.4 335.6 199.0 336.1 201.0 342.0 190.2 350.0 180.1 358.9 157.0 362.0 156.5 366.0 157.2 368.0 154.3 376.0 154.2 396.0 150.8 408.0 146.8 410.1 145.0 412.0 140.0 414.0 139.6 424.0 143.4 426.6 143.0 427.9 137.0 427.6 129.0 428.6 123.0 437.1 107.0 436.0 81.0 437.5 65.0 439.7 59.0 443.9 53.0 562.0 53.0 674.3 53.0 668.0 57.9 662.0 64.4 660.0 63.2 658.0 65.3 656.0 70.2 640.4 91.0 640.1 95.0 638.6 97.0 636.6 105.0 634.0 105.2 632.0 102.0 628.0 100.3 626.0 101.8 620.9 109.0 626.0 113.1 628.0 113.6 632.4 111.0 633.1 113.0 631.6 115.0 631.8 117.0 634.2 117.0 634.9 125.0 636.0 128.2 638.0 128.8 640.3 125.0 641.9 105.0 644.0 99.8 648.0 95.5 652.0 95.8 654.0 94.9 658.0 88.8 662.0 85.5 666.0 76.7 668.0 74.9 670.0 74.7 678.0 67.1 679.1 69.0 677.9 71.0 678.0 73.0 686.4 87.0 686.7 97.0 688.0 105.0 690.0 108.3 692.0 109.5 696.0 109.2 700.0 105.0 708.0 110.4 718.0 110.0 720.9 115.0 726.0 116.1 726.0 547.0ZM680.0 67.2 678.5 67.0 680.0 67.2Z"/>
<path fill="#79ff86" fill-rule="evenodd" d="M726.0 547.0 95.7 547.0 110.4 517.0 114.4 513.0 126.0 506.8 130.0 503.6 134.0 498.8 139.6 489.0 142.0 486.8 156.0 479.7 174.7 465.0 190.0 456.2 204.0 445.2 210.0 445.3 228.0 451.2 238.0 450.9 246.0 447.6 256.9 437.0 264.0 433.4 266.8 431.0 269.2 425.0 270.0 396.9 272.6 393.0 284.0 384.2 287.5 379.0 288.4 375.0 288.1 363.0 293.1 347.0 292.9 335.0 285.1 287.0 286.5 267.0 286.4 253.0 288.8 245.0 292.9 239.0 302.0 232.7 304.0 229.0 309.9 225.0 317.8 217.0 323.5 207.0 328.0 201.0 327.0 197.0 327.6 195.0 330.0 195.4 334.2 199.0 336.0 204.1 338.0 203.1 342.0 193.0 351.0 181.0 354.3 171.0 360.5 161.0 360.2 159.0 362.0 157.1 366.0 158.5 370.0 155.6 380.0 155.4 396.0 152.6 409.6 149.0 412.8 147.0 414.0 142.3 416.0 141.6 420.0 142.2 424.0 144.1 428.0 143.8 429.1 125.0 431.4 119.0 437.0 111.0 438.4 107.0 436.9 81.0 438.5 65.0 439.9 61.0 444.0 56.0 445.2 53.0 562.0 53.0 669.4 53.0 667.8 57.0 662.0 63.5 660.6 61.0 660.0 56.1 659.3 57.0 658.0 59.1 656.0 69.3 639.8 91.0 636.0 104.4 634.0 104.0 632.4 101.0 634.0 98.8 634.0 96.5 626.1 101.0 619.8 109.0 621.1 111.0 625.0 113.0 626.0 114.8 630.0 114.9 632.0 119.9 634.0 120.9 636.0 129.1 638.0 129.7 640.8 125.0 641.9 111.0 644.0 101.9 648.0 99.2 652.0 99.5 658.0 90.5 662.0 87.1 666.0 79.8 672.0 76.9 674.0 73.9 676.0 73.1 677.1 75.0 677.5 79.0 684.0 87.1 687.3 107.0 690.0 111.0 692.0 112.2 694.0 111.9 700.0 109.0 706.0 113.4 716.0 113.1 720.0 118.4 726.0 119.8 726.0 547.0ZM672.0 53.4 670.7 53.0 672.8 53.0 672.0 53.4Z"/>
<path fill="#86ff79" fill-rule="evenodd" d="M726.0 547.0 101.2 547.0 111.9 523.0 116.1 517.0 133.3 505.0 143.8 491.0 156.0 488.6 158.2 487.0 164.0 479.0 176.7 467.0 192.0 457.0 202.0 449.1 208.0 447.0 228.0 452.2 240.0 451.4 248.0 447.1 256.0 438.8 264.0 434.1 267.4 431.0 269.6 425.0 270.7 397.0 273.7 393.0 284.0 385.0 288.0 379.1 288.8 375.0 288.4 363.0 293.3 347.0 293.4 335.0 286.5 283.0 288.1 267.0 287.9 253.0 290.0 246.2 294.0 240.0 300.0 235.3 305.1 233.0 307.7 229.0 320.0 219.1 325.4 209.0 328.0 206.3 330.0 205.2 334.0 205.4 336.0 207.8 338.0 206.3 342.0 195.9 352.0 181.8 356.0 170.3 358.0 166.9 362.5 163.0 362.0 158.6 366.0 159.6 372.0 156.8 382.0 156.9 414.0 150.5 416.6 149.0 418.0 143.7 420.0 143.2 424.0 144.8 430.0 145.3 429.4 139.0 430.1 125.0 432.6 119.0 438.5 111.0 439.6 107.0 437.7 81.0 439.2 67.0 440.1 63.0 444.7 57.0 446.3 53.0 562.0 53.0 666.5 53.0 665.4 59.0 664.0 61.3 662.0 62.3 660.0 53.8 658.9 55.0 655.3 69.0 650.0 75.6 643.1 87.0 638.0 92.8 636.0 93.3 626.0 100.7 619.0 109.0 619.8 111.0 624.1 113.0 626.0 116.6 628.7 117.0 630.0 119.0 630.0 122.8 632.0 122.2 632.9 123.0 636.0 130.4 638.0 130.6 640.9 127.0 642.0 113.8 646.0 103.8 648.0 104.2 652.0 102.1 658.0 92.3 660.0 92.6 662.0 91.2 664.0 84.8 666.0 82.2 674.0 78.2 683.3 93.0 684.4 99.0 686.1 101.0 686.7 109.0 690.0 113.9 694.0 115.1 695.6 113.0 698.0 111.8 702.0 112.0 706.0 116.6 714.0 116.2 716.0 117.4 718.0 121.0 726.0 123.9 726.0 547.0ZM636.0 102.3 634.0 102.3 633.7 101.0 636.0 97.5 636.0 102.3ZM330.0 199.3 330.0 198.4 330.0 199.3Z"/>
<path fill="#93ff6c" fill-rule="evenodd" d="M726.0 547.0 106.3 547.0 116.8 523.0 119.8 519.0 146.0 499.9 152.0 499.0 160.0 500.1 163.3 499.0 165.6 495.0 166.1 485.0 167.5 481.0 180.6 467.0 206.0 449.4 214.0 449.9 230.0 453.4 242.0 451.6 249.5 447.0 257.0 439.0 266.0 433.3 268.0 431.1 270.0 425.0 271.4 397.0 274.0 393.6 284.7 385.0 288.0 380.5 289.3 375.0 288.7 363.0 293.6 347.0 293.9 335.0 288.0 283.0 289.8 267.0 289.2 255.0 291.3 247.0 296.0 240.2 300.0 237.0 306.0 234.6 308.7 231.0 322.0 221.3 328.0 210.9 330.0 209.5 332.0 209.5 334.0 209.7 336.0 211.3 338.0 209.7 343.1 197.0 352.0 184.3 357.4 171.0 364.0 164.4 364.7 161.0 372.0 158.5 382.0 158.6 416.0 153.4 420.5 151.0 422.0 149.0 422.0 146.5 426.0 145.9 430.7 147.0 431.9 145.0 430.6 139.0 431.1 125.0 433.8 119.0 439.9 111.0 440.7 107.0 438.6 83.0 439.7 69.0 441.5 63.0 446.0 57.1 447.3 53.0 562.0 53.0 658.5 53.0 654.2 69.0 650.0 74.0 642.7 87.0 620.8 105.0 618.2 109.0 618.8 111.0 622.7 113.0 626.0 118.2 628.1 119.0 630.0 124.8 632.0 124.4 634.0 126.8 636.0 132.5 638.0 132.7 641.5 127.0 644.0 111.8 652.0 104.0 658.0 94.1 660.0 95.7 662.0 94.6 664.0 87.6 666.0 84.9 671.1 83.0 672.0 81.4 673.8 83.0 673.7 85.0 678.0 90.2 682.1 99.0 684.0 101.1 685.0 103.0 685.1 109.0 688.0 115.3 689.8 117.0 694.0 117.6 700.0 113.6 702.0 114.1 702.2 119.0 704.0 119.8 712.0 119.3 714.0 120.1 716.0 123.2 718.0 124.6 726.0 127.9 726.0 279.4 720.0 282.6 717.3 287.0 718.0 290.6 720.0 292.9 726.0 295.1 726.0 547.0ZM664.0 59.7 662.1 59.0 660.8 53.0 664.8 53.0 664.0 59.7ZM674.0 82.9 672.3 81.0 674.0 80.5 674.0 82.9Z"/>
<path fill="#9fff60" fill-rule="evenodd" d="M726.0 547.0 110.7 547.0 121.9 523.0 129.0 517.0 134.8 513.0 146.0 507.4 154.0 505.3 164.0 505.3 166.0 504.0 169.1 497.0 170.2 483.0 179.2 471.0 188.0 464.1 204.0 453.0 208.0 451.4 216.0 451.8 230.0 454.3 242.0 452.6 250.0 447.6 258.0 439.2 268.0 432.0 270.4 425.0 272.1 397.0 274.0 394.5 284.0 386.5 288.4 381.0 289.7 375.0 289.1 363.0 293.9 347.0 294.5 335.0 292.5 321.0 292.6 307.0 289.5 283.0 291.3 267.0 290.7 255.0 293.0 247.0 296.0 242.2 300.0 238.8 306.0 236.2 310.0 232.4 322.8 225.0 328.0 218.0 330.0 213.5 332.0 212.6 336.0 213.7 338.0 212.8 343.7 199.0 352.0 187.2 356.9 175.0 360.0 170.4 366.0 165.0 367.4 161.0 378.0 159.5 384.0 159.9 418.0 155.7 426.0 152.8 426.8 151.0 426.0 148.2 430.0 148.3 433.4 147.0 431.9 139.0 431.6 127.0 434.0 120.5 440.3 113.0 441.8 107.0 439.5 83.0 440.3 71.0 442.0 64.7 446.0 59.4 448.3 53.0 562.0 53.0 606.6 53.0 608.0 54.0 614.2 53.0 657.6 53.0 655.7 61.0 650.0 71.5 648.2 77.0 642.4 87.0 619.9 105.0 617.2 109.0 617.7 111.0 621.4 113.0 623.0 115.0 630.0 127.3 632.0 126.0 634.0 128.1 636.0 137.1 640.0 133.2 644.2 117.0 653.8 103.0 655.6 99.0 658.0 96.3 660.0 100.1 662.0 98.0 666.0 87.8 670.0 85.8 671.5 87.0 672.0 89.8 680.7 101.0 683.9 103.0 684.2 113.0 688.0 119.2 692.0 120.5 700.0 117.0 702.0 122.2 712.0 123.1 716.0 127.2 726.0 130.8 726.0 275.4 718.0 280.4 715.0 285.0 714.3 289.0 715.5 293.0 718.0 295.8 726.0 298.9 726.0 547.0Z"/>
<path fill="#acff53" fill-rule="evenodd" d="M726.0 547.0 114.6 547.0 124.0 528.1 132.0 520.1 144.0 513.6 156.0 509.2 166.0 507.1 168.6 505.0 171.7 497.0 173.0 483.0 180.0 473.0 189.8 465.0 208.0 453.7 216.0 453.2 232.0 455.2 242.0 453.4 250.0 448.6 258.0 440.2 268.0 432.9 270.7 427.0 272.9 397.0 286.3 385.0 289.0 381.0 290.1 377.0 289.1 365.0 294.2 347.0 295.1 337.0 293.1 319.0 294.1 307.0 291.0 283.0 292.8 267.0 292.2 255.0 294.7 247.0 297.3 243.0 302.0 239.1 308.0 236.9 312.9 233.0 326.0 226.4 332.0 217.0 338.0 215.4 340.0 213.0 345.3 199.0 353.7 187.0 358.0 175.8 366.0 167.8 372.0 164.1 374.0 161.8 412.0 158.7 426.0 158.4 434.0 159.6 435.1 159.0 435.2 157.0 430.6 151.0 432.0 149.9 436.2 151.0 433.6 141.0 432.6 127.0 434.9 121.0 440.3 115.0 442.4 111.0 442.6 101.0 440.4 83.0 441.0 73.0 442.4 67.0 447.5 59.0 449.5 53.0 562.0 53.0 604.0 53.0 606.0 57.5 608.0 56.5 612.0 57.2 616.0 53.2 619.6 53.0 626.7 55.0 628.0 57.2 630.0 57.6 632.0 55.4 632.4 53.0 657.1 53.0 654.8 61.0 652.0 65.0 647.7 77.0 642.0 87.0 636.0 90.5 632.2 95.0 630.0 96.1 622.0 103.7 619.3 105.0 616.0 109.0 615.9 111.0 620.2 113.0 624.0 119.9 628.5 125.0 629.0 127.0 627.8 129.0 628.0 131.7 630.0 132.2 632.0 127.7 634.0 129.6 634.5 133.0 633.2 137.0 634.0 141.3 636.3 141.0 640.0 136.5 644.5 121.0 656.0 99.9 658.0 99.4 660.0 103.0 662.0 101.4 664.0 94.4 666.0 91.4 668.0 90.8 670.0 94.6 677.1 101.0 682.0 104.0 682.7 111.0 682.0 115.2 688.0 122.6 692.0 123.8 698.0 121.4 700.2 125.0 706.0 125.7 712.0 127.7 714.0 129.9 720.0 133.0 726.0 134.5 726.0 271.9 720.0 275.1 716.0 279.2 712.9 285.0 711.9 291.0 713.2 295.0 716.0 298.0 726.0 301.9 726.0 547.0ZM370.0 164.4 369.6 163.0 371.0 163.0 370.0 164.4Z"/>
<path fill="#b9ff46" fill-rule="evenodd" d="M726.0 547.0 118.4 547.0 125.6 533.0 133.3 525.0 142.0 519.5 160.0 511.0 166.3 509.0 170.0 506.5 173.5 499.0 175.3 483.0 180.8 475.0 186.0 470.0 198.0 461.5 210.0 455.3 216.0 454.7 234.0 456.1 244.0 453.4 250.7 449.0 258.3 441.0 268.6 433.0 271.2 427.0 273.7 397.0 287.0 385.0 289.7 381.0 290.7 377.0 289.4 365.0 294.5 347.0 295.7 335.0 293.9 319.0 295.9 309.0 292.5 281.0 294.2 267.0 293.8 255.0 296.0 247.9 299.4 243.0 304.0 239.7 327.6 229.0 333.7 221.0 338.0 218.7 340.7 215.0 346.0 200.9 353.2 191.0 359.7 177.0 367.8 169.0 372.0 166.8 374.0 163.1 414.0 161.1 426.0 163.4 438.0 169.0 442.0 168.9 443.5 167.0 444.1 165.0 443.2 161.0 435.4 143.0 433.3 129.0 436.0 121.1 442.0 115.0 443.5 111.0 443.5 101.0 441.3 83.0 441.9 73.0 443.7 67.0 447.7 61.0 450.9 53.0 562.0 53.0 602.2 53.0 604.0 58.7 606.0 60.1 612.0 59.4 616.0 56.0 622.0 58.7 626.0 58.6 628.0 61.8 632.0 57.0 633.1 53.0 656.6 53.0 653.8 61.0 648.0 72.4 647.1 77.0 642.0 86.3 636.0 89.4 632.0 94.4 622.0 103.3 618.6 105.0 615.2 109.0 615.2 111.0 619.2 113.0 623.3 121.0 627.6 125.0 626.8 131.0 627.3 133.0 628.0 134.1 631.1 135.0 632.4 139.0 632.0 141.0 634.0 143.6 638.6 141.0 640.2 139.0 644.7 123.0 651.4 109.0 656.0 103.0 660.0 105.1 662.0 103.7 666.0 94.3 670.5 101.0 673.1 103.0 679.1 105.0 681.1 111.0 680.4 119.0 682.0 121.9 684.0 121.9 690.0 127.3 696.0 125.6 700.0 129.0 704.0 128.7 710.0 130.8 718.0 136.1 726.0 138.4 726.0 268.0 720.0 271.2 716.0 275.1 711.0 285.0 709.1 291.0 710.0 295.0 714.0 300.0 726.0 304.5 726.0 547.0Z"/>
<path fill="#c6ff39" fill-rule="evenodd" d="M726.0 547.0 122.2 547.0 127.6 537.0 134.0 530.3 145.2 523.0 156.0 518.6 161.4 513.0 170.0 509.3 172.0 507.4 175.3 501.0 177.3 483.0 186.0 472.1 196.0 464.8 210.0 457.4 216.0 456.3 234.0 457.0 244.0 454.3 252.0 448.9 259.5 441.0 267.6 435.0 270.0 431.9 271.7 427.0 274.0 398.3 276.0 395.5 287.8 385.0 291.0 379.0 291.3 375.0 289.8 365.0 294.8 347.0 296.2 337.0 294.9 319.0 297.5 309.0 294.0 281.0 295.4 267.0 295.0 259.0 296.5 251.0 299.7 245.0 306.0 240.4 326.5 233.0 338.0 223.4 342.0 216.2 347.7 201.0 353.6 193.0 360.0 180.1 370.9 169.0 374.0 168.1 376.1 169.0 373.5 165.0 374.0 164.2 376.0 163.4 388.0 164.3 414.0 163.6 420.7 165.0 438.0 171.6 444.0 171.6 446.0 169.5 446.9 165.0 446.5 161.0 437.6 145.0 434.3 129.0 436.0 123.0 443.4 115.0 444.2 113.0 444.3 101.0 442.3 85.0 442.6 75.0 443.9 69.0 447.9 63.0 452.4 53.0 562.0 53.0 601.0 53.0 603.3 63.0 614.0 60.0 622.0 62.2 624.0 65.6 628.0 66.8 630.0 63.7 630.9 59.0 632.7 57.0 633.8 53.0 656.1 53.0 647.9 71.0 646.5 77.0 642.0 85.6 640.0 87.2 636.0 87.3 632.0 93.4 622.0 102.9 618.0 105.0 614.4 109.0 614.4 111.0 616.0 112.8 618.0 112.9 619.8 115.0 622.0 121.3 626.7 125.0 627.1 127.0 625.7 133.0 626.2 135.0 628.0 137.7 630.0 138.1 632.0 143.6 634.0 145.4 640.0 141.4 641.4 139.0 644.9 125.0 652.0 109.8 654.0 107.7 658.0 108.8 660.0 107.7 666.0 102.0 670.1 105.0 677.5 107.0 680.0 125.0 684.0 126.1 690.0 130.8 696.0 128.8 698.0 131.5 704.0 132.4 716.0 139.4 726.0 143.8 726.0 262.6 713.8 273.0 705.9 291.0 707.9 297.0 712.0 301.8 726.0 307.0 726.0 409.1 723.2 415.0 717.4 421.0 716.6 423.0 719.2 427.0 726.0 431.4 726.0 547.0Z"/>
<path fill="#d2ff2d" fill-rule="evenodd" d="M726.0 547.0 126.4 547.0 130.0 540.7 134.0 536.6 154.7 523.0 160.0 522.2 161.1 521.0 161.1 517.0 162.0 515.8 171.5 511.0 173.5 509.0 177.1 503.0 178.6 485.0 183.7 477.0 187.7 473.0 198.0 465.7 212.0 458.8 218.0 457.9 234.0 458.0 244.0 455.1 253.0 449.0 260.0 441.6 266.3 437.0 270.0 433.0 272.2 427.0 274.6 399.0 276.0 396.5 288.6 385.0 291.6 379.0 291.8 375.0 290.2 365.0 297.0 337.0 295.9 319.0 299.0 311.0 295.6 281.0 296.5 259.0 298.3 251.0 301.8 245.0 306.0 242.0 328.0 235.0 338.0 228.1 342.5 219.0 347.5 205.0 350.7 199.0 354.2 195.0 358.0 186.1 362.0 180.6 372.0 170.5 378.0 170.2 380.5 171.0 380.1 169.0 378.0 168.5 376.8 167.0 378.0 165.1 414.0 166.0 421.5 169.0 442.0 174.0 446.0 173.2 447.7 171.0 449.0 165.0 448.8 161.0 439.0 145.0 435.3 129.0 437.2 123.0 444.7 115.0 445.3 107.0 443.2 85.0 443.5 75.0 445.3 69.0 454.0 53.0 562.0 53.0 599.7 53.0 602.0 65.5 608.0 64.9 612.0 62.5 613.7 63.0 620.0 65.6 623.3 71.0 624.0 73.9 630.5 65.0 631.7 59.0 634.7 55.0 635.2 53.0 655.1 53.0 642.0 84.9 640.0 86.2 638.0 85.7 636.0 83.4 634.0 84.5 631.9 87.0 632.1 91.0 629.3 95.0 622.0 102.4 617.0 105.0 613.6 109.0 613.7 111.0 615.4 113.0 618.0 113.7 619.0 115.0 622.0 123.9 624.0 124.1 626.0 126.1 624.9 131.0 622.3 135.0 624.0 138.7 630.0 141.1 632.0 145.5 634.0 147.0 638.0 145.4 642.0 140.0 644.1 129.0 650.0 115.5 654.0 110.6 656.0 111.7 658.0 111.5 664.0 108.1 666.0 105.9 668.0 105.8 670.0 107.8 674.4 109.0 677.8 123.0 678.0 129.1 680.0 130.2 684.0 130.2 690.0 134.4 694.0 133.4 698.0 135.4 702.0 135.4 714.3 143.0 719.8 145.0 726.0 153.7 726.0 168.3 722.0 170.5 718.9 171.0 717.8 173.0 720.6 177.0 726.0 179.6 726.0 256.0 709.3 273.0 706.0 281.0 700.8 289.0 703.2 295.0 710.0 303.4 726.0 309.3 726.0 389.6 721.9 391.0 705.3 401.0 704.0 403.7 703.1 411.0 710.0 425.5 726.0 435.4 726.0 547.0ZM618.3 129.0 618.0 128.4 617.4 129.0 618.0 129.8 618.3 129.0ZM376.0 165.9 374.6 165.0 376.0 164.4 377.9 165.0 376.0 165.9ZM716.0 413.1 712.7 413.0 710.8 411.0 710.8 409.0 714.0 406.2 716.0 406.3 718.4 409.0 718.0 411.3 716.0 413.1Z"/>
<path fill="#dfff20" fill-rule="evenodd" d="M726.0 547.0 132.1 547.0 137.5 541.0 162.0 524.6 165.5 517.0 172.0 513.8 175.1 511.0 179.2 503.0 180.7 485.0 188.0 475.1 198.0 467.9 212.2 461.0 218.0 459.7 236.0 458.8 244.0 455.9 254.0 449.1 270.8 433.0 272.8 427.0 275.5 399.0 289.5 385.0 292.3 379.0 290.7 365.0 298.0 335.0 297.1 319.0 300.5 311.0 297.3 281.0 298.0 261.0 299.5 253.0 302.3 247.0 307.4 243.0 326.0 238.2 338.0 231.5 344.0 219.5 349.2 205.0 355.9 195.0 358.2 189.0 360.8 185.0 374.0 171.8 382.0 172.5 383.4 171.0 382.0 168.7 378.0 166.7 382.0 165.9 392.0 167.2 412.0 168.0 440.0 175.4 446.0 175.2 448.6 173.0 450.4 167.0 450.4 161.0 440.5 145.0 436.8 133.0 436.4 129.0 438.5 123.0 444.0 117.9 445.8 115.0 445.8 101.0 444.0 85.0 444.5 75.0 446.0 70.1 455.5 53.0 562.0 53.0 597.7 53.0 600.0 67.0 602.0 68.0 606.0 67.9 610.0 65.6 616.0 68.3 619.3 73.0 620.3 77.0 622.0 78.7 631.3 65.0 632.0 60.8 634.0 57.4 636.0 56.6 638.0 59.6 642.0 53.8 644.5 53.0 654.0 53.0 642.0 83.8 640.0 84.8 636.0 81.5 634.0 82.9 629.9 87.0 628.3 95.0 626.9 97.0 622.0 101.9 616.0 104.9 612.9 109.0 612.8 111.0 614.6 113.0 618.3 115.0 620.2 119.0 620.9 125.0 624.5 127.0 624.0 130.8 622.0 133.2 621.2 133.0 620.5 129.0 619.1 127.0 619.3 123.0 616.0 121.6 615.0 127.0 616.0 130.7 619.1 133.0 620.8 137.0 624.0 140.8 630.0 142.4 632.0 147.2 634.0 148.3 638.0 148.2 642.5 141.0 645.5 127.0 652.0 115.2 654.0 116.4 656.0 116.2 660.0 114.0 666.0 117.6 666.6 115.0 665.5 113.0 665.8 111.0 668.0 110.3 671.5 115.0 672.9 123.0 676.5 133.0 678.0 134.2 684.0 134.6 690.0 137.9 694.0 137.2 696.0 138.9 702.0 139.9 716.5 149.0 718.8 153.0 719.8 157.0 719.6 161.0 714.0 168.7 713.7 173.0 717.2 179.0 726.0 183.3 726.0 242.7 722.0 242.0 715.8 247.0 715.0 251.0 716.5 257.0 715.2 261.0 706.0 270.5 692.6 279.0 689.9 283.0 693.5 289.0 708.4 305.0 712.0 307.0 726.0 311.5 726.0 386.3 718.6 389.0 702.7 399.0 700.6 403.0 698.5 411.0 700.0 416.0 707.4 427.0 726.0 438.2 726.0 547.0ZM640.0 53.6 639.3 53.0 640.7 53.0 640.0 53.6Z"/>
<path fill="#ecff13" fill-rule="evenodd" d="M726.0 547.0 142.4 547.0 158.0 534.7 164.0 527.7 169.5 519.0 176.9 513.0 180.7 505.0 182.9 485.0 188.8 477.0 200.0 468.9 214.0 462.8 234.0 460.3 244.0 456.6 254.0 450.0 260.8 443.0 268.0 437.4 271.5 433.0 273.4 427.0 273.6 419.0 276.5 399.0 290.3 385.0 293.1 379.0 291.2 365.0 293.6 353.0 298.9 335.0 298.4 319.0 301.9 311.0 299.2 281.0 299.5 265.0 301.5 253.0 304.5 247.0 310.0 243.7 318.0 242.4 328.0 239.4 339.2 233.0 342.0 228.6 349.9 207.0 356.4 197.0 360.0 189.0 375.6 173.0 382.0 173.9 388.0 172.1 388.8 171.0 388.0 169.9 386.0 170.8 384.0 170.1 383.2 169.0 384.0 167.5 390.0 168.9 396.0 168.4 412.0 170.2 442.0 176.8 446.0 176.6 450.0 173.4 451.9 167.0 451.9 161.0 449.1 155.0 441.1 143.0 437.4 129.0 438.5 125.0 446.0 117.2 446.6 115.0 446.4 99.0 444.8 85.0 445.5 75.0 452.1 61.0 457.2 53.0 562.0 53.0 596.0 53.0 597.9 59.0 598.4 67.0 600.0 71.0 604.0 70.9 610.0 69.0 616.0 75.2 618.3 81.0 622.0 81.6 632.0 65.1 638.0 61.3 646.5 53.0 652.7 53.0 642.0 82.3 640.0 82.8 636.0 78.4 628.0 88.0 626.9 91.0 627.4 95.0 626.4 97.0 622.0 101.4 616.0 103.8 612.1 109.0 612.0 111.0 616.0 115.1 618.0 115.9 619.3 119.0 618.8 121.0 616.0 120.0 615.1 121.0 614.7 125.0 612.6 127.0 613.1 129.0 622.8 143.0 624.0 143.6 628.6 143.0 630.0 144.0 632.0 148.5 634.0 149.9 638.0 150.3 639.9 149.0 642.8 143.0 646.0 127.9 650.0 120.6 652.0 119.5 654.0 123.5 656.0 123.4 660.0 117.6 668.0 129.1 672.0 130.7 673.4 135.0 676.0 138.6 686.0 140.0 688.0 141.1 692.0 141.0 694.0 142.3 700.0 143.5 706.3 147.0 712.0 151.9 714.0 155.0 714.6 159.0 712.0 169.3 712.4 177.0 716.0 181.1 726.0 185.6 726.0 240.9 721.0 241.0 713.1 247.0 711.7 259.0 707.4 265.0 700.0 269.8 687.1 275.0 684.0 277.3 682.1 281.0 682.2 283.0 684.8 287.0 697.9 297.0 707.7 307.0 726.0 313.6 726.0 383.9 716.9 387.0 702.0 397.0 698.2 403.0 696.0 411.0 698.0 417.9 706.0 428.4 726.0 440.6 726.0 547.0ZM634.0 62.2 633.3 61.0 634.0 58.7 635.0 61.0 634.0 62.2ZM382.0 167.1 381.2 167.0 382.0 167.1Z"/>
<path fill="#f9ff06" fill-rule="evenodd" d="M726.0 547.0 156.9 547.0 162.0 540.9 170.1 525.0 177.5 517.0 179.9 513.0 182.8 505.0 184.4 487.0 186.0 483.4 189.6 479.0 204.0 469.0 218.0 464.5 234.0 461.7 244.0 457.4 254.0 450.9 269.4 437.0 272.2 433.0 273.7 429.0 274.0 421.0 277.6 399.0 291.3 385.0 293.8 379.0 291.6 365.0 293.9 353.0 299.9 335.0 300.6 329.0 299.9 319.0 303.2 311.0 301.1 281.0 301.2 269.0 303.3 255.0 306.0 248.1 310.0 245.3 322.0 243.5 328.0 241.2 340.0 234.5 343.7 229.0 351.8 207.0 360.0 192.5 364.0 186.9 376.3 175.0 378.0 174.3 382.0 175.2 388.0 174.5 391.0 173.0 390.9 171.0 392.0 169.8 414.0 172.2 440.0 177.8 446.0 177.8 450.4 175.0 452.8 169.0 453.1 161.0 450.9 155.0 442.5 143.0 438.5 129.0 439.8 125.0 446.0 118.8 447.4 115.0 447.0 97.0 445.7 85.0 446.5 75.0 453.3 61.0 459.2 53.0 562.0 53.0 595.2 53.0 598.0 73.5 600.0 73.4 604.0 75.1 606.0 72.7 608.0 72.8 611.9 75.0 614.0 79.0 614.0 83.0 616.0 84.2 622.0 82.5 632.0 66.1 636.0 64.0 647.7 53.0 651.0 53.0 648.8 59.0 648.0 64.6 642.7 73.0 642.0 77.0 640.0 77.9 636.0 73.2 631.6 83.0 627.7 87.0 625.5 91.0 626.5 95.0 625.7 97.0 622.0 100.9 616.0 102.7 607.7 115.0 608.0 116.4 610.3 113.0 612.0 112.1 616.3 117.0 613.8 121.0 613.2 125.0 612.0 125.5 611.2 125.0 610.0 119.6 608.0 117.7 607.8 119.0 608.8 123.0 608.6 129.0 610.0 130.7 612.0 130.2 614.0 131.1 616.2 139.0 615.7 143.0 622.0 148.3 628.0 144.6 632.0 150.6 634.0 151.8 638.0 152.1 640.2 151.0 644.3 143.0 646.0 131.2 648.0 128.1 652.0 133.5 654.0 132.4 658.0 125.6 660.0 124.2 662.0 125.8 668.0 138.1 670.0 138.3 674.0 143.3 678.0 144.5 690.0 144.9 700.0 148.3 706.7 153.0 709.8 157.0 710.8 161.0 709.8 175.0 710.9 179.0 715.7 183.0 726.0 187.3 726.0 239.8 720.0 240.5 712.1 245.0 710.1 249.0 709.1 257.0 706.0 261.8 700.0 266.0 686.0 270.7 682.0 273.0 678.2 277.0 676.5 283.0 678.4 287.0 694.0 296.5 707.3 309.0 726.0 315.7 726.0 381.8 716.0 385.0 702.0 394.8 697.1 401.0 693.9 411.0 696.1 419.0 704.0 429.0 726.0 443.0 726.0 547.0ZM618.0 119.5 616.9 119.0 618.0 118.1 618.0 119.5ZM606.8 123.0 606.0 122.3 605.0 123.0 606.0 124.4 606.8 123.0ZM386.0 169.3 385.1 169.0 386.0 169.3ZM549.4 443.0 555.8 441.0 559.9 437.0 559.3 433.0 557.6 431.0 554.0 428.5 548.0 426.9 542.0 427.1 536.0 429.8 534.0 432.8 533.7 435.0 536.0 440.0 542.0 443.3 549.4 443.0Z"/>
<path fill="#fff900" fill-rule="evenodd" d="M726.0 547.0 167.7 547.0 172.0 529.2 180.2 519.0 182.1 515.0 184.9 505.0 186.5 487.0 190.6 481.0 204.0 471.1 226.0 466.6 242.0 459.5 254.9 451.0 270.0 437.5 273.0 433.0 274.7 427.0 274.8 421.0 278.0 400.8 280.5 397.0 292.2 385.0 294.6 379.0 292.2 365.0 294.4 353.0 302.0 331.0 301.2 321.0 304.6 309.0 303.1 281.0 303.5 269.0 306.1 253.0 307.7 249.0 312.0 246.6 324.0 244.6 341.8 235.0 344.6 231.0 352.0 210.4 360.0 195.7 366.0 187.8 378.0 176.4 386.0 176.8 394.0 175.4 396.0 174.8 398.0 171.5 414.0 173.6 442.0 179.0 448.0 178.3 451.9 175.0 454.6 165.0 453.6 157.0 443.9 143.0 439.7 129.0 441.2 125.0 447.9 117.0 447.8 97.0 446.5 85.0 447.6 75.0 454.0 61.9 461.7 53.0 594.5 53.0 595.6 73.0 596.8 77.0 598.0 77.7 605.6 77.0 608.0 78.0 609.5 79.0 612.0 86.3 614.0 86.6 622.0 83.6 628.0 72.6 632.0 67.2 636.0 65.5 642.0 59.8 646.4 57.0 645.1 63.0 640.4 69.0 638.0 70.6 636.0 70.5 633.4 75.0 630.7 83.0 624.5 91.0 625.4 95.0 624.8 97.0 620.5 101.0 616.0 101.8 605.0 117.0 605.8 119.0 602.7 123.0 602.7 125.0 604.0 128.0 606.0 127.1 607.6 133.0 611.7 135.0 612.7 139.0 611.7 143.0 618.0 146.9 620.0 149.7 622.0 150.6 628.0 148.9 630.0 149.9 632.0 154.0 638.0 153.9 640.7 153.0 642.0 151.3 646.0 150.9 647.1 149.0 648.0 140.8 652.0 142.7 654.0 140.4 656.0 134.7 658.0 132.9 660.0 133.1 664.0 137.3 668.0 146.0 672.6 149.0 688.0 150.2 694.0 151.7 700.0 153.9 704.0 157.0 707.1 161.0 708.9 167.0 708.7 171.0 707.0 175.0 706.9 177.0 708.0 179.0 714.0 183.7 726.0 188.7 726.0 238.8 720.0 239.7 711.6 243.0 708.9 245.0 706.9 255.0 704.2 259.0 698.0 263.0 686.0 266.8 678.8 271.0 673.5 277.0 670.3 285.0 670.8 287.0 672.6 289.0 694.0 298.9 706.0 310.5 726.0 317.9 726.0 379.7 720.0 381.0 714.0 383.7 700.0 394.6 694.2 403.0 691.9 413.0 694.9 421.0 701.4 429.0 726.0 445.4 726.0 547.0ZM561.3 451.0 567.3 447.0 570.8 441.0 571.9 435.0 571.5 431.0 568.0 425.3 562.0 422.8 542.0 420.1 536.0 421.5 530.0 426.1 527.4 431.0 527.0 437.0 529.1 443.0 534.0 448.3 540.0 451.4 546.0 452.6 552.0 452.8 561.3 451.0Z"/>
<path fill="#ffec00" fill-rule="evenodd" d="M726.0 547.0 174.0 547.0 175.7 531.0 184.3 519.0 186.9 507.0 188.2 489.0 191.7 483.0 204.0 473.5 224.0 471.0 228.0 469.2 255.9 451.0 270.0 438.6 273.8 433.0 275.2 429.0 275.7 421.0 279.1 401.0 283.4 395.0 293.3 385.0 295.2 381.0 295.3 375.0 293.1 367.0 293.1 363.0 295.4 351.0 301.0 339.0 303.5 331.0 302.7 321.0 306.0 309.0 305.4 269.0 308.6 253.0 310.0 250.0 312.0 248.7 326.0 245.3 343.9 235.0 346.5 231.0 353.6 211.0 361.3 197.0 368.0 188.6 380.0 177.9 388.0 178.0 396.0 176.8 400.0 173.6 402.0 173.2 410.0 174.0 436.0 179.4 444.0 180.0 450.0 178.4 453.2 175.0 455.8 165.0 455.1 157.0 453.2 153.0 445.2 143.0 442.1 135.0 441.0 129.0 442.0 126.1 447.9 119.0 448.6 117.0 448.4 97.0 447.3 85.0 448.1 77.0 454.8 63.0 464.4 53.0 593.7 53.0 593.7 71.0 595.1 79.0 596.0 80.4 600.0 80.8 602.0 79.2 604.0 80.0 608.0 85.0 608.3 89.0 610.0 89.7 618.0 87.3 622.0 84.9 624.0 82.6 628.0 73.5 632.0 68.4 634.0 68.2 634.2 71.0 632.0 75.0 629.7 83.0 624.0 90.4 620.0 91.0 616.7 95.0 615.5 97.0 615.5 101.0 601.8 119.0 598.6 127.0 598.0 129.0 604.0 132.4 604.1 135.0 608.0 135.5 609.7 137.0 609.5 145.0 617.4 149.0 622.0 152.9 628.0 152.7 630.0 156.3 632.0 157.5 642.0 155.3 646.0 156.5 650.5 153.0 656.0 144.6 658.0 143.2 660.0 143.2 662.0 144.1 666.0 150.8 672.0 155.0 680.0 157.4 684.0 157.6 688.0 160.4 693.7 161.0 702.0 164.4 704.0 165.9 705.5 169.0 704.0 170.2 700.5 169.0 696.0 165.1 694.0 165.1 692.8 167.0 692.8 169.0 701.5 177.0 710.0 183.0 726.0 189.8 726.0 237.8 704.9 243.0 702.2 245.0 704.0 246.8 705.1 251.0 704.0 254.2 702.0 255.9 700.0 256.4 696.1 255.0 697.1 251.0 700.7 245.0 696.0 246.0 694.0 248.1 693.2 251.0 694.0 254.2 695.8 255.0 694.7 257.0 674.3 271.0 662.4 285.0 660.5 289.0 661.3 291.0 664.0 292.5 680.0 295.0 690.2 299.0 694.0 301.4 706.0 312.8 726.0 320.2 726.0 377.7 720.0 378.9 714.0 381.3 700.0 392.6 695.9 397.0 692.2 403.0 689.8 413.0 692.6 421.0 698.9 429.0 726.0 448.0 726.0 547.0ZM638.0 67.0 637.9 65.0 638.9 65.0 638.0 67.0ZM622.0 99.3 620.0 100.3 616.5 99.0 621.3 95.0 622.0 93.2 624.1 95.0 623.8 97.0 622.0 99.3ZM398.0 173.6 398.8 173.0 398.0 173.6ZM647.0 329.0 649.0 325.0 648.6 321.0 646.0 318.0 642.0 318.5 639.3 323.0 640.0 327.4 642.0 329.7 644.0 330.3 647.0 329.0ZM564.2 463.0 568.0 461.5 574.0 455.8 581.6 445.0 581.6 429.0 580.0 421.0 578.1 417.0 572.1 415.0 556.9 413.0 544.0 409.9 538.0 411.3 527.9 417.0 524.3 421.0 519.3 431.0 520.1 443.0 527.6 455.0 544.0 463.6 556.0 464.7 564.2 463.0Z"/>
<path fill="#ffdf00" fill-rule="evenodd" d="M726.0 547.0 178.3 547.0 179.8 533.0 186.8 521.0 188.1 517.0 189.7 507.0 190.2 491.0 191.4 487.0 194.0 483.7 200.0 478.5 206.0 475.4 220.0 475.2 228.0 472.5 256.9 451.0 270.8 439.0 274.8 433.0 280.3 401.0 284.0 395.5 294.5 385.0 296.2 381.0 296.5 377.0 293.8 367.0 293.7 363.0 295.8 351.0 298.7 347.0 305.0 331.0 304.4 321.0 307.3 309.0 307.0 269.0 312.0 251.9 314.0 250.4 326.0 246.8 346.1 235.0 348.4 231.0 354.6 213.0 362.4 199.0 370.0 189.5 380.0 180.7 400.0 177.4 401.0 177.0 401.4 175.0 404.0 174.4 434.0 180.1 444.0 181.0 450.0 179.5 454.4 175.0 456.9 165.0 456.1 155.0 446.0 142.2 443.3 135.0 442.3 129.0 449.2 117.0 448.1 85.0 449.2 77.0 456.0 63.2 467.4 53.0 593.0 53.0 592.2 71.0 594.0 83.0 598.0 84.6 602.0 83.7 604.9 87.0 606.0 92.1 608.0 92.5 614.0 90.3 617.5 91.0 615.0 95.0 610.0 107.0 600.0 119.4 596.5 129.0 598.0 131.9 600.0 131.7 602.0 136.8 604.0 138.6 606.4 139.0 606.6 145.0 607.7 147.0 616.0 151.0 620.0 154.6 628.0 157.2 630.0 159.7 638.0 161.9 642.0 161.1 648.0 161.4 654.0 154.0 656.0 153.3 662.0 154.0 675.8 163.0 684.4 171.0 712.0 185.6 726.0 190.8 726.0 236.7 702.0 240.1 692.0 244.5 688.8 249.0 684.9 259.0 672.7 269.0 658.1 283.0 655.5 287.0 654.8 291.0 655.4 295.0 658.0 298.0 662.0 298.5 678.0 297.0 689.9 301.0 704.0 314.0 726.0 322.8 726.0 375.7 718.0 377.3 712.0 379.9 702.0 388.5 695.6 395.0 691.3 401.0 688.7 407.0 687.7 413.0 690.2 421.0 696.4 429.0 726.0 450.9 726.0 547.0ZM624.0 89.4 622.2 87.0 624.0 84.8 625.6 79.0 628.0 74.5 632.0 70.3 632.1 73.0 628.6 83.0 624.0 89.4ZM620.0 99.3 619.2 99.0 620.0 98.1 620.6 99.0 620.0 99.3ZM647.6 335.0 651.4 331.0 653.2 323.0 652.0 315.4 650.0 312.4 648.0 311.6 644.0 312.2 640.0 314.7 637.0 319.0 636.4 323.0 636.9 329.0 640.0 334.3 644.0 335.9 647.6 335.0ZM557.8 479.0 565.4 477.0 572.0 472.3 578.0 465.5 586.0 454.1 589.4 445.0 591.3 429.0 591.1 423.0 588.1 417.0 582.0 411.2 578.0 408.9 557.4 399.0 552.0 398.0 544.0 398.6 536.2 401.0 528.3 405.0 520.0 410.2 515.4 415.0 512.0 421.5 510.1 429.0 510.2 451.0 513.6 459.0 520.0 464.8 548.0 478.1 557.8 479.0Z"/>
<path fill="#ffd200" fill-rule="evenodd" d="M726.0 547.0 182.2 547.0 183.9 533.0 189.9 521.0 192.3 513.0 192.9 507.0 191.9 493.0 193.1 489.0 195.8 485.0 200.0 480.9 206.0 477.9 220.0 478.8 226.0 477.0 243.8 461.0 256.0 452.5 270.1 441.0 275.8 433.0 281.5 401.0 285.6 395.0 294.3 387.0 297.4 381.0 297.4 375.0 294.4 365.0 295.5 355.0 296.5 351.0 300.7 347.0 306.5 331.0 306.1 321.0 308.6 309.0 308.6 269.0 314.0 253.6 328.0 247.1 348.4 235.0 356.0 214.4 364.0 200.2 371.7 191.0 382.0 182.6 386.0 180.8 392.0 180.9 410.0 177.7 436.0 181.4 446.0 181.7 452.0 179.5 455.6 175.0 457.9 165.0 457.5 155.0 447.7 143.0 445.0 137.0 443.8 131.0 444.3 127.0 449.8 117.0 449.3 81.0 451.0 75.0 456.0 65.4 462.0 59.4 470.6 53.0 592.3 53.0 590.9 71.0 592.1 85.0 594.0 87.6 602.0 87.2 604.0 94.6 606.0 95.1 610.0 93.3 612.8 95.0 609.0 105.0 599.0 119.0 595.4 129.0 596.0 134.1 600.0 136.2 601.5 141.0 604.0 143.0 606.0 148.9 620.0 157.5 626.0 159.3 638.0 169.8 650.0 164.4 654.0 161.3 662.0 160.5 670.0 164.4 678.6 173.0 694.0 178.4 714.0 187.8 726.0 191.8 726.0 235.4 718.0 237.2 708.0 236.8 702.0 237.6 692.6 241.0 688.0 244.2 685.9 247.0 683.4 255.0 681.1 259.0 653.3 283.0 650.5 289.0 648.2 301.0 645.3 305.0 635.1 315.0 633.4 319.0 632.6 327.0 634.1 335.0 640.0 340.9 644.0 341.6 649.7 339.0 653.8 335.0 655.5 331.0 657.3 311.0 659.3 307.0 668.0 301.6 678.0 299.3 682.0 299.9 690.0 303.3 702.0 314.9 706.0 317.6 726.0 325.6 726.0 373.6 714.0 376.2 706.0 381.7 690.3 399.0 687.2 405.0 685.5 413.0 687.6 421.0 693.6 429.0 700.0 434.5 715.2 445.0 726.0 454.4 726.0 547.0ZM628.0 80.2 627.0 79.0 628.0 76.3 628.0 80.2ZM626.0 84.0 626.0 80.2 627.0 81.0 626.0 84.0ZM624.0 87.5 624.0 86.7 624.0 87.5ZM565.1 491.0 570.0 488.9 574.0 485.7 592.0 458.5 595.1 451.0 598.0 438.0 605.8 423.0 605.2 419.0 571.0 397.0 566.7 395.0 558.0 393.0 548.0 392.5 534.0 394.8 522.0 398.1 511.6 403.0 506.0 407.5 503.0 413.0 500.5 433.0 500.3 445.0 497.8 449.0 495.6 457.0 495.5 461.0 497.1 465.0 512.0 474.0 518.0 475.4 548.0 491.8 556.0 492.9 565.1 491.0ZM426.2 523.0 435.7 517.0 445.5 509.0 466.8 489.0 472.1 481.0 472.0 475.2 470.0 472.7 466.0 471.5 462.0 471.7 452.0 475.2 417.0 505.0 412.9 513.0 412.7 517.0 414.0 520.9 416.2 523.0 420.0 524.1 426.2 523.0Z"/>
<path fill="#ffc600" fill-rule="evenodd" d="M726.0 547.0 185.9 547.0 187.7 533.0 195.8 513.0 196.1 507.0 193.9 497.0 194.1 493.0 198.8 485.0 202.0 482.0 206.0 480.5 220.0 482.7 226.0 480.7 244.9 461.0 271.7 441.0 277.0 433.0 282.8 401.0 286.9 395.0 296.0 387.0 298.7 381.0 298.8 375.0 295.4 365.0 296.3 355.0 298.0 350.3 301.0 349.0 307.5 333.0 308.0 321.0 310.2 305.0 310.2 269.0 315.7 255.0 350.9 235.0 357.9 215.0 364.0 204.1 372.0 194.0 385.7 183.0 388.0 182.1 392.0 182.5 402.0 180.6 410.0 180.2 446.0 182.6 452.0 180.7 455.8 177.0 458.6 167.0 458.8 155.0 456.5 151.0 447.6 141.0 445.0 131.0 445.6 127.0 450.4 117.0 450.2 81.0 453.0 73.0 458.0 65.1 474.0 53.0 591.2 53.0 589.7 71.0 590.1 83.0 591.5 89.0 595.1 91.0 598.1 91.0 599.5 93.0 600.0 97.1 602.0 98.5 606.0 97.5 607.3 99.0 606.0 103.0 606.4 105.0 597.6 119.0 594.2 131.0 594.4 135.0 596.0 137.2 598.0 138.0 604.6 151.0 620.0 160.5 625.8 163.0 633.9 173.0 637.4 175.0 640.0 174.8 646.0 169.7 650.0 167.9 656.0 166.1 664.0 165.7 668.0 167.3 674.0 175.0 694.0 180.4 716.0 189.7 726.0 192.7 726.0 233.4 720.0 235.5 710.0 234.3 704.0 234.9 691.4 239.0 684.3 243.0 682.0 246.5 680.3 255.0 678.0 258.7 656.0 275.7 648.8 283.0 642.7 299.0 633.4 311.0 629.9 317.0 628.0 323.0 627.0 331.0 627.8 337.0 629.7 341.0 636.0 346.5 642.0 348.7 650.0 344.7 654.9 341.0 657.5 337.0 661.1 315.0 662.8 311.0 670.0 304.8 676.0 302.0 680.0 301.5 690.0 305.7 700.0 316.0 706.0 320.6 726.0 328.9 726.0 371.3 714.0 373.2 706.0 378.0 687.8 399.0 684.7 405.0 682.9 413.0 684.7 421.0 690.5 429.0 697.1 435.0 714.5 447.0 726.0 458.7 726.0 547.0ZM705.2 353.0 706.3 351.0 706.0 346.5 704.0 345.2 700.0 346.4 697.9 349.0 698.1 353.0 702.0 354.7 705.2 353.0ZM632.0 383.0 636.0 380.4 640.6 371.0 641.1 365.0 640.0 362.5 638.0 361.2 634.0 361.9 628.0 365.2 626.0 367.0 624.1 371.0 624.2 375.0 626.0 379.5 628.0 381.8 632.0 383.0ZM417.5 533.0 422.0 532.1 428.0 529.3 447.6 517.0 459.7 507.0 480.0 485.7 488.0 481.6 492.0 481.7 498.0 483.4 506.0 487.0 510.1 487.0 522.0 498.6 530.0 502.6 540.0 506.2 548.0 506.5 550.0 504.0 562.0 503.4 573.4 499.0 580.2 493.0 589.3 477.0 598.9 463.0 602.0 455.7 604.6 445.0 606.7 441.0 620.0 427.3 623.0 423.0 624.8 417.0 623.6 411.0 621.3 409.0 618.0 407.9 604.0 407.2 594.0 405.3 572.9 391.0 560.0 387.1 540.0 387.9 526.0 389.9 512.0 392.6 504.0 396.2 498.0 400.9 494.6 407.0 491.2 439.0 487.8 447.0 480.0 455.0 474.0 459.7 458.0 465.6 442.0 474.4 418.0 495.4 409.6 505.0 404.9 515.0 404.0 521.0 404.5 525.0 406.0 528.2 408.8 531.0 412.0 532.5 417.5 533.0ZM339.6 491.0 344.0 486.9 347.2 481.0 346.9 477.0 344.0 470.5 340.0 467.0 330.0 464.4 318.0 459.1 314.0 459.1 311.1 463.0 310.8 469.0 314.8 481.0 317.2 485.0 320.0 487.9 328.0 492.0 334.0 492.9 339.6 491.0Z"/>
<path fill="#ffb900" fill-rule="evenodd" d="M726.0 547.0 189.8 547.0 191.5 533.0 199.7 513.0 195.9 495.0 202.0 485.0 206.0 483.3 220.0 487.9 224.0 487.8 226.0 486.4 245.9 461.0 272.0 442.4 277.6 435.0 283.1 411.0 284.2 401.0 288.4 395.0 298.3 387.0 299.8 383.0 300.8 375.0 297.5 369.0 296.4 365.0 297.7 353.0 302.0 350.7 304.0 343.6 309.0 333.0 311.9 305.0 311.8 271.0 316.8 257.0 338.0 243.0 354.1 235.0 358.0 220.8 364.7 207.0 374.6 195.0 388.0 184.5 406.0 181.8 446.0 183.5 453.5 181.0 457.1 177.0 459.9 165.0 460.0 155.0 457.9 151.0 448.7 141.0 447.1 137.0 446.3 131.0 446.7 127.0 450.9 117.0 450.8 83.0 453.2 75.0 458.0 67.0 462.0 63.4 474.0 55.9 480.5 53.0 589.6 53.0 590.1 63.0 588.8 69.0 588.4 79.0 589.8 91.0 594.0 95.2 596.4 95.0 598.0 101.3 602.0 101.7 602.4 103.0 602.0 109.9 594.3 121.0 592.7 135.0 602.0 151.6 610.0 158.1 623.7 167.0 630.2 175.0 634.0 177.8 640.0 177.6 650.0 171.1 664.0 169.6 667.1 171.0 670.0 175.9 672.0 177.5 692.0 181.6 714.0 190.3 726.0 193.8 726.0 229.7 720.0 232.7 712.0 231.4 706.0 232.2 680.0 241.0 677.5 243.0 676.6 245.0 677.5 253.0 675.8 257.0 654.5 273.0 645.5 281.0 639.6 295.0 626.6 313.0 621.4 325.0 619.9 333.0 619.6 341.0 624.3 355.0 618.0 364.8 616.7 369.0 617.8 389.0 614.8 395.0 608.0 398.4 596.0 399.1 590.0 396.5 581.5 389.0 576.0 385.8 566.0 382.5 558.0 381.4 526.0 382.9 506.0 384.8 496.0 387.9 490.4 391.0 485.9 395.0 483.9 399.0 483.2 405.0 484.3 421.0 480.9 437.0 478.1 443.0 473.9 447.0 442.0 467.3 420.0 487.1 409.5 495.0 400.7 507.0 393.1 521.0 391.7 529.0 393.2 535.0 398.0 540.4 404.0 543.2 412.0 543.7 420.0 541.4 458.4 517.0 465.6 511.0 473.7 501.0 478.0 497.2 482.0 494.8 488.0 493.1 494.0 493.4 502.0 496.3 512.0 505.9 520.0 510.8 544.0 517.5 550.0 517.8 558.0 516.3 574.0 510.3 582.0 505.1 588.0 497.7 595.1 481.0 607.6 465.0 614.2 447.0 634.4 421.0 640.1 411.0 643.8 401.0 644.4 395.0 643.7 391.0 647.7 355.0 650.5 351.0 658.0 345.1 660.0 342.2 664.4 317.0 666.0 313.3 676.3 305.0 680.0 303.8 690.0 308.4 700.0 319.6 706.0 324.7 726.0 333.3 726.0 368.7 712.0 370.0 704.0 375.1 696.0 386.8 684.4 399.0 680.8 407.0 679.6 413.0 681.0 421.0 685.0 427.0 694.0 435.9 712.8 449.0 722.0 461.0 726.0 464.4 726.0 547.0ZM704.6 359.0 708.0 357.6 710.0 355.7 711.9 351.0 710.8 343.0 709.3 341.0 706.0 339.8 702.0 340.6 698.0 343.7 694.9 349.0 694.1 353.0 696.0 357.9 700.0 359.2 704.6 359.0ZM336.5 507.0 342.0 505.3 346.0 502.8 352.0 497.6 357.5 491.0 362.1 477.0 364.0 466.7 362.0 463.0 360.0 462.5 358.0 464.5 356.0 464.2 350.3 461.0 349.4 459.0 356.0 458.2 362.0 458.8 366.4 457.0 367.8 455.0 367.6 453.0 366.4 451.0 365.4 443.0 364.0 442.1 354.0 440.8 350.0 442.0 348.4 443.0 347.5 449.0 345.9 451.0 344.0 452.3 340.0 452.6 338.0 455.0 326.0 454.9 312.0 451.8 308.0 453.5 305.3 457.0 304.0 461.0 303.7 469.0 305.7 483.0 308.0 489.5 314.0 497.8 322.0 505.2 326.0 507.1 336.5 507.0ZM701.1 455.0 702.5 453.0 701.5 449.0 698.0 448.0 696.0 449.0 694.9 451.0 696.0 454.8 698.0 455.8 701.1 455.0Z"/>
<path fill="#ffac00" fill-rule="evenodd" d="M306.0 547.0 194.4 547.0 196.3 533.0 203.9 515.0 198.7 499.0 198.5 495.0 199.6 493.0 204.0 488.0 208.0 487.6 214.0 490.0 230.0 503.3 236.0 506.2 244.0 507.2 248.7 505.0 249.4 503.0 246.9 499.0 240.4 495.0 234.2 493.0 232.2 491.0 231.4 487.0 233.0 481.0 246.9 461.0 273.7 443.0 277.6 439.0 280.5 433.0 282.3 421.0 285.6 411.0 286.0 400.7 290.0 395.2 298.0 389.9 300.7 387.0 304.0 374.4 306.4 369.0 306.0 365.4 304.3 363.0 304.1 359.0 302.4 355.0 304.0 351.9 304.7 345.0 310.5 333.0 313.7 305.0 313.6 271.0 318.0 258.7 321.8 255.0 338.0 243.9 354.8 237.0 357.7 235.0 359.3 231.0 361.6 219.0 366.2 209.0 378.2 195.0 390.0 186.4 406.0 183.3 446.0 184.4 452.0 183.0 457.2 179.0 459.7 173.0 461.4 157.0 459.1 151.0 451.2 143.0 448.7 139.0 447.3 129.0 451.5 117.0 452.1 81.0 456.0 72.0 462.0 65.4 474.0 58.4 486.6 53.0 586.9 53.0 589.1 61.0 587.1 83.0 588.1 93.0 592.0 99.4 594.0 100.2 595.7 103.0 599.2 105.0 597.1 113.0 591.9 121.0 592.0 127.3 589.9 133.0 590.0 135.0 600.3 153.0 611.2 163.0 622.0 178.5 632.0 185.8 636.0 185.4 645.9 181.0 647.2 177.0 650.0 174.4 654.0 173.2 662.0 173.1 666.0 174.6 670.0 179.0 692.0 183.5 714.0 191.7 726.0 195.0 726.0 225.2 708.0 229.3 692.0 234.5 672.0 238.5 668.1 241.0 666.0 243.8 665.1 247.0 666.0 249.9 669.4 253.0 669.8 255.0 668.4 257.0 642.0 279.0 634.2 293.0 626.0 298.3 623.8 301.0 615.5 321.0 610.7 341.0 600.4 371.0 598.0 375.0 592.0 379.4 588.0 380.6 582.0 381.0 560.0 376.3 500.0 373.0 492.0 374.5 468.0 383.3 459.3 389.0 457.7 391.0 456.9 395.0 458.5 399.0 465.7 407.0 469.4 413.0 471.1 419.0 470.5 425.0 468.0 431.5 464.0 436.6 458.0 441.2 452.0 443.3 448.0 443.0 436.0 437.9 420.0 434.3 402.0 435.5 366.0 433.5 354.0 432.3 332.0 428.3 316.7 429.0 302.0 432.4 297.6 435.0 289.9 445.0 288.6 449.0 290.0 452.7 296.5 459.0 298.1 469.0 297.6 493.0 296.0 500.1 292.7 507.0 292.4 513.0 296.0 524.7 307.3 547.0 306.0 547.0ZM664.0 371.3 658.0 371.8 656.0 370.5 655.1 367.0 655.7 357.0 663.4 345.0 666.3 325.0 668.6 317.0 670.0 314.9 678.0 308.5 680.0 307.4 682.0 307.6 689.0 311.0 694.3 317.0 701.1 327.0 701.8 333.0 694.0 345.1 688.0 360.0 686.0 361.8 668.0 370.4 664.0 371.3ZM726.0 364.5 720.0 363.6 717.2 361.0 719.2 351.0 719.9 341.0 722.0 339.9 726.0 342.4 726.0 364.5ZM302.0 369.2 300.0 369.6 297.9 367.0 298.0 362.9 300.0 361.3 303.3 363.0 303.2 367.0 302.0 369.2ZM726.0 547.0 428.1 547.0 440.0 537.0 454.0 527.8 470.0 518.6 478.0 516.1 502.0 514.2 548.0 527.9 562.0 526.3 574.0 523.8 584.0 519.7 592.0 513.5 596.2 509.0 597.9 505.0 602.0 487.0 616.7 469.0 622.3 451.0 634.0 432.4 648.0 418.2 660.0 409.1 674.0 400.5 674.8 403.0 672.6 411.0 676.7 423.0 678.0 425.3 689.6 437.0 692.2 441.0 692.3 443.0 688.7 451.0 690.0 457.1 694.0 460.7 700.0 462.1 705.3 461.0 710.0 457.2 712.0 457.8 719.2 467.0 726.0 470.4 726.0 547.0ZM380.0 547.0 334.9 547.0 339.8 531.0 345.3 523.0 360.0 512.0 368.0 509.0 374.0 504.4 376.0 504.0 377.2 507.0 376.0 517.0 377.2 537.0 380.0 547.0Z"/>
<path fill="#ff9f00" fill-rule="evenodd" d="M288.0 435.2 286.0 436.0 285.3 435.0 284.3 427.0 285.8 419.0 288.8 411.0 288.2 401.0 292.0 396.1 298.0 392.7 301.9 389.0 308.9 371.0 308.9 367.0 304.0 355.0 305.3 347.0 311.3 335.0 313.0 327.0 315.7 305.0 315.3 273.0 318.8 261.0 321.7 257.0 326.4 253.0 338.0 244.8 358.4 237.0 363.5 233.0 366.0 229.0 365.0 219.0 367.9 211.0 381.9 195.0 390.9 189.0 406.0 184.8 448.0 185.1 454.0 183.3 458.0 179.9 460.9 173.0 462.4 157.0 460.3 151.0 449.7 139.0 448.2 129.0 452.1 117.0 453.0 81.0 458.0 70.9 464.0 66.0 492.5 53.0 583.2 53.0 587.9 63.0 587.3 75.0 585.8 83.0 586.5 95.0 587.8 101.0 592.0 105.7 596.2 107.0 594.0 114.6 589.4 121.0 589.5 129.0 588.0 135.0 599.4 155.0 608.3 163.0 621.6 181.0 630.0 188.3 634.0 189.4 640.0 187.0 646.0 182.6 652.0 176.3 662.0 175.8 671.4 181.0 692.0 185.5 708.0 191.7 726.0 196.7 726.0 221.6 692.0 232.4 672.0 234.7 666.0 236.9 661.5 243.0 660.5 247.0 660.4 255.0 657.8 261.0 639.0 277.0 630.0 288.3 617.4 297.0 611.1 303.0 608.4 309.0 608.5 325.0 606.2 335.0 595.5 365.0 592.0 370.4 588.0 373.4 582.0 375.3 574.0 375.0 536.0 366.3 528.0 363.2 524.8 359.0 522.9 351.0 529.0 335.0 529.2 331.0 526.0 327.7 522.0 326.9 518.0 328.3 514.0 331.2 506.0 339.0 500.0 348.2 488.0 354.8 473.4 371.0 454.0 382.5 448.9 387.0 446.9 391.0 446.8 397.0 453.8 411.0 455.3 417.0 453.7 423.0 450.0 426.6 444.0 428.2 436.0 428.3 424.0 424.8 408.0 421.9 384.0 427.8 362.0 428.6 352.0 427.5 334.0 423.3 324.0 422.6 300.0 427.2 292.9 431.0 288.0 435.2ZM676.0 359.2 670.0 358.2 666.7 355.0 666.1 351.0 667.0 339.0 670.1 325.0 672.6 319.0 678.0 314.0 680.0 312.9 684.0 312.8 688.2 315.0 694.3 323.0 696.0 327.0 696.0 333.0 692.5 343.0 686.0 354.7 682.0 357.5 676.0 359.2ZM726.0 547.0 440.3 547.0 450.0 538.7 468.0 528.3 476.0 525.3 496.0 521.7 508.0 523.0 548.0 536.3 558.0 536.8 576.0 535.7 582.0 536.7 588.0 534.1 600.0 525.3 606.0 517.2 608.2 511.0 612.2 491.0 616.0 483.5 625.7 469.0 632.1 449.0 637.2 439.0 641.7 433.0 648.0 427.4 658.0 422.3 662.0 421.3 668.0 423.2 683.4 439.0 683.9 443.0 682.5 451.0 682.9 455.0 684.6 459.0 687.8 463.0 696.0 466.9 710.0 469.6 726.0 477.2 726.0 547.0ZM272.0 499.5 266.0 500.7 262.0 500.3 240.0 491.6 236.0 488.7 234.9 483.0 239.5 473.0 247.9 461.0 264.0 450.0 282.0 440.8 283.3 443.0 284.7 451.0 292.4 465.0 293.2 471.0 292.8 479.0 291.9 483.0 287.4 493.0 286.0 494.3 272.0 499.5ZM286.0 547.0 199.9 547.0 202.0 537.4 207.3 527.0 208.9 519.0 207.7 513.0 200.9 501.0 201.2 495.0 206.0 491.3 210.0 491.8 216.9 497.0 224.0 507.9 227.8 511.0 254.0 515.2 262.0 518.6 272.0 526.2 280.1 537.0 286.0 547.0Z"/>
<path fill="#ff9300" fill-rule="evenodd" d="M382.0 423.1 370.0 424.5 358.0 424.6 326.0 418.0 304.0 422.2 295.2 419.0 294.3 417.0 291.4 405.0 291.7 401.0 294.0 398.7 298.0 396.8 303.2 391.0 311.3 371.0 310.9 367.0 304.7 355.0 307.0 345.0 312.7 335.0 314.9 327.0 315.5 317.0 317.8 305.0 317.2 273.0 320.6 261.0 327.9 253.0 340.0 244.5 361.9 237.0 367.7 233.0 370.0 229.0 368.4 219.0 370.0 213.0 383.5 197.0 392.0 191.5 406.0 186.4 448.0 186.0 454.0 184.5 458.8 181.0 461.7 175.0 463.3 157.0 461.2 151.0 450.6 139.0 449.1 129.0 452.8 117.0 453.5 83.0 456.0 76.1 460.0 70.7 474.0 63.3 490.0 57.4 496.9 53.0 579.1 53.0 582.0 55.9 586.2 65.0 586.5 75.0 584.5 87.0 585.6 103.0 586.3 105.0 591.5 111.0 588.5 119.0 585.2 123.0 586.7 129.0 587.0 137.0 597.4 155.0 608.0 165.3 619.4 181.0 630.0 191.1 636.0 192.3 640.0 190.4 644.5 185.0 652.0 178.7 656.0 177.7 662.0 178.1 670.0 181.9 692.0 187.6 708.0 194.4 722.0 197.3 726.0 199.2 726.0 217.9 720.0 221.3 696.0 229.2 684.0 231.4 670.0 231.7 664.0 233.5 659.1 239.0 653.7 257.0 650.0 263.0 628.0 282.8 601.1 299.0 599.5 301.0 598.4 305.0 602.6 321.0 602.2 329.0 597.6 341.0 593.0 359.0 589.9 365.0 585.6 369.0 578.0 371.1 567.6 369.0 559.1 365.0 548.0 355.9 543.2 353.0 542.0 351.0 542.6 349.0 552.0 343.0 558.0 337.5 560.0 335.0 560.6 331.0 558.0 327.0 553.6 323.0 546.0 309.0 542.0 305.9 540.0 305.8 530.8 313.0 516.0 319.6 492.0 335.3 470.8 343.0 470.1 345.0 470.9 351.0 470.5 357.0 468.9 363.0 466.4 367.0 460.0 371.6 434.0 382.4 428.0 384.1 424.0 382.6 418.0 377.2 410.0 366.2 404.0 361.7 392.3 363.0 389.1 365.0 384.8 369.0 380.4 377.0 380.1 381.0 382.0 383.9 386.8 387.0 394.0 389.5 400.0 393.0 406.0 401.4 414.7 399.0 420.0 394.6 422.0 395.0 438.0 408.6 440.7 413.0 441.2 417.0 440.0 418.5 438.2 419.0 436.0 418.4 431.4 415.0 426.0 408.4 424.0 409.5 422.1 409.0 418.0 406.1 414.0 405.2 406.0 406.2 392.8 417.0 382.0 423.1ZM682.0 353.1 676.0 354.1 672.0 352.1 670.0 348.7 669.3 343.0 670.3 337.0 673.9 331.0 674.9 325.0 678.0 320.7 682.0 318.7 686.0 319.6 689.0 323.0 690.7 327.0 691.5 335.0 691.3 339.0 689.1 345.0 686.0 349.9 682.0 353.1ZM726.0 547.0 597.8 547.0 610.0 536.8 618.5 525.0 620.8 517.0 621.0 499.0 622.7 491.0 626.8 483.0 639.8 465.0 641.0 461.0 640.3 453.0 641.1 447.0 644.0 441.0 650.0 434.4 658.0 431.3 662.0 431.4 666.0 433.0 670.7 437.0 673.5 441.0 676.1 457.0 678.1 461.0 681.6 465.0 688.0 469.3 710.0 476.9 726.0 484.9 726.0 547.0ZM270.0 493.4 262.0 493.7 244.0 490.5 238.3 487.0 237.3 483.0 242.0 471.0 249.0 461.0 264.5 451.0 276.0 447.6 278.0 448.0 280.0 450.0 285.1 459.0 288.1 467.0 288.3 475.0 287.5 479.0 283.8 487.0 280.0 489.7 270.0 493.4ZM214.0 510.8 208.0 507.6 204.0 503.7 202.3 499.0 204.0 495.4 206.0 494.5 209.4 495.0 213.9 499.0 215.5 505.0 214.0 510.8ZM272.0 547.0 206.8 547.0 208.9 541.0 214.4 531.0 216.4 523.0 222.0 518.2 230.0 517.4 244.0 520.0 256.3 527.0 266.0 536.5 272.0 547.0ZM568.0 547.0 452.4 547.0 462.0 540.1 476.0 533.0 490.0 528.8 498.0 527.5 510.0 529.6 546.0 544.0 568.0 547.0Z"/>
<path fill="#ff8600" fill-rule="evenodd" d="M376.0 419.2 366.0 420.7 356.0 420.8 326.0 413.1 320.0 413.7 306.0 418.0 302.0 415.9 295.9 407.0 295.7 403.0 304.0 394.8 312.6 377.0 313.7 373.0 313.1 367.0 308.0 360.3 305.4 355.0 307.1 347.0 313.1 337.0 316.7 327.0 317.1 317.0 319.9 305.0 319.0 275.0 320.2 267.0 322.0 261.9 329.4 253.0 340.7 245.0 364.0 237.7 370.5 233.0 373.0 229.0 371.6 219.0 372.3 215.0 385.2 199.0 390.0 195.7 398.1 191.0 406.0 188.1 448.0 187.0 455.9 185.0 460.0 181.7 463.1 175.0 464.2 157.0 462.0 150.7 451.6 139.0 450.0 129.0 453.5 117.0 454.4 83.0 456.0 78.3 460.0 72.6 466.0 68.8 490.0 60.0 505.3 53.0 575.5 53.0 580.0 58.1 584.0 65.3 585.8 73.0 583.2 89.0 583.7 105.0 584.6 109.0 588.4 113.0 586.0 119.5 582.3 123.0 585.2 137.0 596.0 155.6 607.1 167.0 611.2 173.0 615.4 177.0 617.2 181.0 626.0 190.7 632.0 195.5 638.0 195.6 642.1 193.0 646.2 185.0 652.0 180.7 656.0 179.9 664.0 180.6 672.0 183.9 689.8 189.0 708.0 197.0 722.0 200.9 724.4 203.0 726.0 206.1 725.3 213.0 719.4 219.0 700.0 226.3 684.0 229.0 666.0 228.6 660.0 230.4 656.0 235.0 647.6 257.0 643.3 263.0 622.0 280.7 611.4 287.0 602.0 291.2 594.2 297.0 592.1 301.0 592.0 315.0 592.6 319.0 595.8 325.0 595.6 327.0 594.0 330.3 588.3 337.0 590.0 349.0 589.5 355.0 586.9 361.0 582.0 365.7 576.0 366.5 566.4 363.0 562.5 359.0 561.4 353.0 562.4 349.0 565.3 345.0 568.0 343.6 576.8 343.0 582.5 339.0 584.0 337.0 583.8 335.0 579.0 329.0 568.0 321.4 563.6 317.0 560.3 307.0 560.7 303.0 559.8 299.0 560.9 291.0 560.0 287.9 558.0 286.9 554.0 286.6 544.0 287.8 538.0 290.9 508.5 317.0 490.0 327.2 482.0 329.0 468.0 325.9 452.0 331.7 430.0 336.2 424.0 338.7 414.0 340.3 404.0 345.2 380.0 361.5 372.1 369.0 369.7 373.0 369.6 381.0 373.0 389.0 383.2 399.0 387.7 405.0 388.0 407.0 385.2 413.0 376.0 419.2ZM528.5 223.0 532.0 219.9 532.6 217.0 532.2 215.0 529.7 213.0 526.0 212.7 520.0 214.7 516.0 219.0 516.1 221.0 520.0 224.1 524.0 224.7 528.5 223.0ZM629.6 237.0 630.4 235.0 629.0 231.0 621.6 223.0 610.9 217.0 606.0 216.5 604.0 217.3 603.2 219.0 604.9 223.0 618.0 234.4 624.0 237.4 629.6 237.0ZM682.0 349.4 678.0 350.2 674.9 349.0 672.2 345.0 671.9 341.0 674.0 336.3 676.0 335.2 684.0 333.9 686.0 334.3 688.0 336.9 688.1 341.0 686.0 345.8 682.0 349.4ZM458.0 363.4 452.0 363.2 450.6 361.0 454.0 358.1 458.4 357.0 460.8 359.0 460.7 361.0 458.0 363.4ZM434.0 367.3 430.0 367.1 427.8 365.0 427.8 361.0 430.0 358.9 436.0 358.4 440.7 361.0 440.5 363.0 434.0 367.3ZM656.0 453.4 652.9 451.0 652.4 449.0 654.0 446.2 656.0 446.1 658.5 449.0 658.0 452.5 656.0 453.4ZM266.0 489.3 244.0 488.0 240.0 485.0 239.9 481.0 243.2 471.0 250.0 461.1 264.0 452.6 270.0 451.0 274.0 451.2 276.9 453.0 281.3 459.0 283.4 467.0 283.2 475.0 281.1 481.0 278.0 484.8 272.0 487.7 266.0 489.3ZM726.0 547.0 623.1 547.0 629.1 539.0 633.1 527.0 633.6 515.0 632.1 497.0 634.1 489.0 638.0 484.2 644.0 479.5 658.0 469.8 664.0 468.0 672.0 469.9 700.0 479.6 726.0 493.9 726.0 547.0ZM208.0 502.7 205.4 501.0 206.0 498.3 208.8 499.0 209.9 501.0 208.0 502.7ZM254.0 547.0 214.4 547.0 220.2 529.0 224.0 526.0 230.0 524.0 240.0 527.0 248.0 533.1 254.4 543.0 255.7 547.0 254.0 547.0ZM532.0 547.0 467.0 547.0 478.0 540.4 492.0 534.8 500.0 533.3 512.0 537.3 532.0 547.0Z"/>
<path fill="#ff7900" fill-rule="evenodd" d="M368.0 415.2 354.0 416.0 342.0 412.3 332.0 406.5 326.0 405.3 320.0 406.2 308.0 412.8 306.0 413.0 300.2 407.0 299.4 405.0 300.5 403.0 307.7 397.0 310.0 388.5 315.5 383.0 317.3 379.0 317.5 373.0 316.3 367.0 308.0 358.8 306.0 355.0 307.8 347.0 314.0 338.0 318.3 327.0 318.7 317.0 321.7 305.0 320.6 279.0 323.5 263.0 331.0 253.0 342.0 245.2 364.7 239.0 373.4 233.0 376.2 229.0 375.0 219.0 376.0 215.7 380.0 211.6 388.0 200.2 402.0 191.4 408.0 189.6 422.0 189.6 450.0 187.7 458.0 185.5 461.0 183.0 464.6 175.0 465.4 159.0 462.0 149.4 452.6 139.0 451.3 135.0 450.9 129.0 451.4 125.0 454.4 117.0 455.4 83.0 458.0 77.1 461.7 73.0 514.3 53.0 572.7 53.0 574.2 57.0 578.3 61.0 584.5 73.0 581.5 95.0 582.1 111.0 583.4 117.0 580.3 125.0 582.3 135.0 594.0 155.0 603.8 167.0 607.0 173.0 614.0 177.0 614.9 179.0 614.6 183.0 620.0 187.6 630.0 199.7 634.0 200.6 642.0 199.0 645.1 197.0 647.8 193.0 646.7 187.0 648.0 185.0 651.2 183.0 654.0 182.1 666.0 182.9 684.3 189.0 712.7 201.0 719.9 207.0 721.0 209.0 719.3 215.0 716.0 218.0 698.0 224.8 682.0 226.6 658.0 224.7 644.0 228.5 630.0 223.4 616.0 213.2 602.0 211.5 595.6 213.0 594.1 215.0 596.5 219.0 616.0 238.5 628.0 247.1 638.0 249.8 640.0 252.4 640.4 255.0 638.0 259.9 622.0 273.2 596.0 287.0 588.0 290.4 584.3 293.0 582.9 295.0 584.0 308.0 581.5 313.0 578.0 314.5 576.0 314.2 573.6 313.0 571.8 309.0 572.6 301.0 577.1 291.0 576.0 283.0 570.6 279.0 564.0 277.0 538.0 284.3 519.3 299.0 504.8 313.0 486.0 321.8 480.0 322.4 468.0 319.7 444.0 324.7 438.0 325.1 432.0 324.2 428.0 325.2 403.9 339.0 370.0 361.0 353.2 369.0 349.0 373.0 348.3 375.0 350.1 377.0 354.7 379.0 357.4 385.0 362.9 393.0 375.7 407.0 375.7 411.0 374.4 413.0 368.0 415.2ZM521.6 233.0 532.0 225.8 536.1 221.0 534.6 215.0 528.0 209.7 518.0 211.8 508.8 221.0 508.8 223.0 516.0 233.0 518.0 234.4 521.6 233.0ZM682.0 345.9 678.0 346.4 676.0 345.1 674.8 343.0 675.2 339.0 677.3 337.0 682.0 336.4 684.0 337.2 685.3 339.0 684.7 343.0 682.0 345.9ZM576.0 361.1 570.5 359.0 568.0 356.2 567.6 351.0 569.6 349.0 580.0 348.5 582.0 349.0 583.6 351.0 583.7 355.0 582.0 358.3 580.0 360.1 576.0 361.1ZM266.0 485.1 246.0 485.4 244.0 485.0 242.5 483.0 243.7 473.0 249.3 463.0 252.0 460.8 266.0 454.2 270.6 455.0 276.4 459.0 278.1 467.0 275.5 479.0 266.0 485.1ZM270.4 469.0 270.1 465.0 268.0 462.4 266.0 462.3 264.1 465.0 264.4 467.0 266.0 469.1 268.0 469.9 270.4 469.0ZM726.0 547.0 647.9 547.0 654.9 535.0 659.2 525.0 659.1 517.0 655.3 505.0 654.4 499.0 654.9 497.0 661.1 489.0 664.0 486.8 676.0 482.4 688.0 483.1 694.0 485.6 706.0 497.5 726.0 505.1 726.0 547.0ZM512.0 547.0 484.7 547.0 492.2 543.0 500.0 541.5 506.0 542.8 513.5 547.0 512.0 547.0Z"/>
<path fill="#ff6c00" fill-rule="evenodd" d="M334.0 363.0 316.0 363.6 310.0 359.8 306.7 355.0 308.0 348.2 315.0 339.0 319.7 327.0 320.3 317.0 323.6 303.0 322.6 279.0 326.1 263.0 330.8 255.0 342.0 246.5 366.0 239.8 377.8 233.0 379.0 229.0 378.3 221.0 379.7 217.0 389.4 203.0 403.4 193.0 408.0 191.5 454.0 188.2 460.0 186.2 463.2 183.0 466.1 175.0 466.3 159.0 462.5 149.0 453.6 139.0 452.2 135.0 451.8 127.0 455.3 117.0 456.4 83.0 460.0 76.5 464.0 73.4 474.0 70.8 502.0 60.2 518.0 55.2 520.9 53.0 570.0 53.0 572.0 58.7 575.9 63.0 582.8 75.0 582.2 85.0 579.9 97.0 580.2 113.0 581.1 117.0 578.6 125.0 580.7 137.0 594.0 157.0 600.4 165.0 606.0 175.3 608.0 177.5 612.0 177.2 613.5 179.0 611.9 183.0 614.0 188.1 621.7 197.0 624.8 205.0 626.0 206.1 630.0 206.6 642.0 205.6 646.0 204.1 649.0 201.0 652.1 195.0 652.3 191.0 650.4 187.0 652.0 185.2 664.0 184.4 682.0 190.2 706.0 199.5 712.1 203.0 715.0 207.0 715.9 213.0 712.7 217.0 700.0 222.5 684.0 223.7 666.0 221.2 646.0 215.9 636.0 218.9 632.0 219.0 627.9 217.0 622.0 209.0 620.0 208.3 600.0 208.2 588.0 210.2 586.2 211.0 585.3 213.0 586.0 215.1 612.0 239.0 622.3 251.0 622.9 255.0 620.1 261.0 614.2 267.0 606.0 272.6 598.0 276.3 590.0 277.2 564.0 272.7 538.0 280.2 516.0 294.8 500.4 309.0 484.0 316.5 476.0 317.2 470.0 316.2 464.0 316.3 450.0 312.9 436.0 313.4 421.7 321.0 413.6 329.0 406.0 334.1 370.0 354.1 352.0 361.0 344.0 362.6 334.0 363.0ZM502.6 249.0 508.0 247.0 522.0 239.0 539.1 225.0 540.1 223.0 539.1 219.0 534.8 213.0 528.0 207.2 524.0 207.2 516.0 210.5 504.0 220.5 495.6 225.0 486.5 235.0 484.9 241.0 488.0 246.6 494.0 249.4 502.6 249.0ZM506.0 237.6 502.0 238.4 500.0 237.9 497.3 235.0 497.6 229.0 502.0 226.0 506.0 226.1 508.8 229.0 509.6 233.0 508.8 235.0 506.0 237.6ZM680.0 342.1 678.5 341.0 680.0 338.7 681.2 339.0 681.7 341.0 680.0 342.1ZM264.0 481.4 258.0 482.6 250.0 482.4 246.6 481.0 245.6 479.0 245.3 473.0 250.0 463.9 253.9 461.0 260.0 458.8 262.0 459.1 262.6 467.0 267.5 475.0 266.7 479.0 264.0 481.4ZM726.0 547.0 672.7 547.0 682.0 535.5 696.0 524.0 706.0 519.0 716.0 517.1 726.0 518.6 726.0 547.0Z"/>
<path fill="#ff6000" fill-rule="evenodd" d="M322.0 361.4 316.0 361.6 312.0 360.0 308.0 356.3 307.4 353.0 309.4 347.0 316.6 339.0 320.6 329.0 321.9 317.0 325.5 301.0 324.8 279.0 328.6 265.0 333.2 255.0 344.0 246.9 366.3 241.0 379.9 235.0 381.3 231.0 380.8 221.0 382.6 217.0 392.0 204.5 404.0 195.0 410.0 193.2 456.0 189.2 462.0 187.2 465.5 183.0 467.8 175.0 467.1 159.0 463.3 149.0 454.0 137.7 452.8 129.0 453.2 125.0 455.9 119.0 456.6 115.0 457.1 85.0 460.0 78.6 466.0 74.5 476.0 72.5 500.0 63.5 530.0 53.8 535.3 53.0 568.0 53.0 568.1 57.0 580.0 75.2 581.2 79.0 581.1 85.0 578.3 99.0 578.9 119.0 576.7 125.0 578.6 137.0 599.1 165.0 606.0 177.2 609.6 181.0 617.5 199.0 616.5 203.0 614.0 204.5 584.0 207.8 581.5 209.0 580.4 211.0 580.7 213.0 583.6 217.0 608.0 239.1 615.3 247.0 617.4 251.0 617.9 255.0 615.4 261.0 606.4 269.0 598.0 272.8 588.0 273.3 564.0 269.6 556.9 271.0 536.0 277.6 516.1 289.0 496.0 305.8 482.0 312.1 476.0 312.9 466.0 312.4 446.0 309.3 438.0 309.7 432.3 311.0 420.0 317.4 408.0 329.9 386.0 341.4 354.0 355.2 322.0 361.4ZM704.0 219.3 698.0 220.7 680.0 220.2 668.0 217.9 659.5 215.0 654.5 211.0 653.1 207.0 656.9 191.0 660.0 188.1 666.0 187.2 708.0 201.8 711.6 205.0 712.9 211.0 711.0 215.0 704.0 219.3ZM503.7 253.0 524.0 241.6 540.0 229.3 543.5 225.0 543.7 221.0 542.7 219.0 528.0 204.8 523.7 205.0 516.0 208.5 504.0 218.2 487.5 229.0 481.4 235.0 479.6 239.0 479.6 243.0 481.8 247.0 486.0 251.5 490.0 253.7 494.0 254.4 503.7 253.0ZM504.0 234.4 502.0 234.7 500.0 233.6 499.1 231.0 500.0 228.7 502.0 228.0 505.1 229.0 506.0 231.4 504.0 234.4ZM260.0 479.4 254.0 480.0 250.0 479.1 247.3 475.0 247.7 471.0 250.0 466.2 252.0 463.7 256.0 461.9 258.0 461.8 259.3 463.0 263.8 473.0 263.2 477.0 260.0 479.4ZM726.0 547.0 696.6 547.0 706.0 539.6 716.0 537.0 722.0 536.6 726.0 536.7 726.0 547.0Z"/>
<path fill="#ff5300" fill-rule="evenodd" d="M322.0 359.2 316.0 360.0 312.0 358.7 308.2 355.0 308.0 352.6 310.0 347.4 318.4 339.0 321.4 331.0 324.6 311.0 327.6 301.0 327.0 279.0 336.1 255.0 340.0 251.4 347.8 247.0 378.0 239.0 382.1 237.0 383.6 233.0 382.8 223.0 384.0 219.0 395.3 205.0 404.0 197.3 410.0 195.4 436.0 191.8 460.0 190.2 464.0 188.5 467.4 185.0 469.7 173.0 468.4 161.0 464.1 149.0 454.8 137.0 453.9 129.0 454.2 125.0 457.9 115.0 458.1 87.0 460.0 80.8 466.0 76.4 476.0 75.0 492.0 68.7 517.8 61.0 524.0 58.4 544.0 55.2 554.0 55.4 558.6 53.0 565.5 53.0 565.8 59.0 578.0 77.9 579.7 83.0 579.3 89.0 576.5 103.0 576.4 121.0 574.8 125.0 576.5 137.0 578.3 141.0 598.0 165.3 610.0 184.0 612.8 197.0 612.0 200.0 608.0 202.2 592.0 204.7 582.0 204.0 578.0 204.7 574.2 207.0 572.7 209.0 572.5 211.0 573.6 213.0 584.0 220.9 594.0 231.2 611.7 247.0 613.8 251.0 614.3 255.0 611.7 261.0 605.0 267.0 598.0 270.0 590.0 270.1 568.0 266.8 562.0 266.7 538.0 273.6 514.0 284.6 505.3 291.0 494.0 301.4 488.0 305.0 480.0 308.0 466.0 308.9 444.0 306.4 430.0 308.4 418.0 314.1 408.0 326.8 400.0 331.4 374.0 341.6 363.6 347.0 322.0 359.2ZM704.0 217.3 698.0 218.5 678.0 216.2 671.6 215.0 664.0 212.1 660.5 209.0 658.8 205.0 659.2 199.0 661.4 193.0 664.0 190.9 669.2 191.0 688.0 197.6 700.0 199.9 707.6 203.0 710.5 207.0 710.2 211.0 707.4 215.0 704.0 217.3ZM498.8 259.0 506.0 256.3 526.0 243.8 542.0 232.5 546.8 227.0 548.0 223.0 547.3 219.0 544.0 215.7 535.4 211.0 530.0 203.7 528.0 202.8 525.0 203.0 516.0 206.9 502.0 217.7 490.0 225.2 478.4 231.0 474.6 235.0 471.5 243.0 472.8 247.0 475.9 251.0 482.0 256.2 486.0 258.3 492.0 259.6 498.8 259.0ZM256.0 477.2 252.0 476.4 249.7 473.0 252.0 466.4 254.0 464.7 256.0 464.4 258.0 465.7 260.0 468.8 261.3 473.0 260.0 475.6 256.0 477.2Z"/>
<path fill="#ff4600" fill-rule="evenodd" d="M320.0 357.7 316.0 358.4 312.0 357.4 309.3 355.0 309.1 351.0 311.7 347.0 319.7 341.0 321.5 337.0 324.8 323.0 326.4 309.0 329.9 301.0 329.2 279.0 338.3 255.0 342.0 251.9 350.0 247.7 384.5 239.0 386.4 237.0 385.1 225.0 385.4 221.0 400.7 203.0 405.4 199.0 437.2 193.0 462.0 192.1 466.0 190.4 469.8 187.0 471.0 183.0 471.5 167.0 465.0 149.0 455.9 137.0 455.1 129.0 455.4 125.0 459.4 115.0 459.7 85.0 461.9 81.0 466.0 78.3 476.0 77.2 492.0 71.0 522.0 61.8 540.0 58.8 548.0 58.9 560.0 55.2 576.0 80.2 577.8 87.0 574.9 105.0 574.3 121.0 572.6 127.0 574.8 139.0 598.0 166.8 603.5 175.0 606.0 180.9 609.4 185.0 610.3 189.0 608.0 195.5 604.0 198.5 592.0 202.2 588.0 202.0 582.0 199.9 576.0 201.0 563.7 207.0 561.8 209.0 560.6 213.0 561.8 215.0 565.6 217.0 580.0 221.1 594.0 236.7 608.0 247.3 610.3 251.0 610.9 255.0 608.0 260.8 603.4 265.0 598.0 267.2 564.0 263.1 556.0 264.2 544.0 267.7 518.0 276.9 508.0 281.5 500.0 286.9 488.8 299.0 478.0 303.7 468.0 305.1 442.0 303.5 426.0 305.9 414.0 311.3 411.1 315.0 407.9 323.0 402.3 327.0 388.0 332.3 370.0 336.5 358.1 343.0 332.0 351.9 320.0 357.7ZM702.0 215.9 698.0 215.9 688.0 212.8 678.0 211.7 670.0 209.3 665.6 205.0 665.1 199.0 666.1 197.0 668.0 195.8 672.0 195.6 686.0 200.0 698.0 201.1 704.8 203.0 707.7 205.0 708.1 209.0 705.9 213.0 702.0 215.9ZM496.7 265.0 502.0 263.5 508.0 260.3 516.6 253.0 547.9 233.0 550.8 229.0 553.8 221.0 553.9 217.0 552.2 215.0 546.0 212.2 538.0 211.1 536.0 210.0 532.2 203.0 528.0 201.2 522.0 202.6 516.9 205.0 500.6 217.0 488.0 224.0 468.0 227.6 458.0 224.5 454.0 222.3 451.5 223.0 450.8 227.0 453.3 233.0 453.9 239.0 452.8 249.0 453.6 257.0 456.0 262.8 460.0 264.8 468.0 264.4 474.0 265.5 482.0 265.2 488.0 266.2 496.7 265.0ZM256.0 472.5 253.8 471.0 256.0 469.2 257.0 471.0 256.0 472.5Z"/>
<path fill="#ff3900" fill-rule="evenodd" d="M340.0 341.6 336.0 342.8 330.0 342.5 327.7 341.0 326.5 337.0 330.0 318.1 332.9 313.0 332.0 311.4 330.0 312.7 328.2 311.0 328.5 309.0 330.0 307.6 332.0 307.3 332.5 305.0 331.5 279.0 340.1 255.0 352.0 248.3 362.0 245.3 382.0 241.8 390.5 239.0 391.6 237.0 388.6 231.0 388.0 222.1 406.0 201.5 438.0 194.6 464.0 194.8 470.0 191.5 473.6 187.0 473.5 167.0 465.8 149.0 458.1 139.0 456.9 135.0 456.3 127.0 461.1 115.0 461.3 87.0 462.7 83.0 466.0 80.6 476.0 79.1 492.0 73.2 520.0 65.2 538.0 62.0 548.0 61.5 558.0 58.6 574.0 82.6 575.7 89.0 576.0 93.0 573.2 107.0 572.1 121.0 570.5 127.0 572.2 139.0 574.5 143.0 588.0 156.4 600.0 170.8 602.9 175.0 604.8 181.0 607.6 185.0 608.0 187.5 604.0 190.2 590.1 193.0 578.0 197.2 562.5 203.0 552.0 208.1 542.0 207.3 538.0 208.7 536.1 207.0 535.4 203.0 532.9 201.0 528.0 199.9 524.0 200.8 514.7 205.0 500.0 215.6 488.0 221.7 476.0 220.9 459.9 213.0 450.0 209.3 446.0 209.4 438.0 212.4 436.4 215.0 444.8 239.0 446.2 259.0 445.1 277.0 446.0 281.3 448.0 284.8 450.0 286.0 458.0 286.5 464.0 286.5 476.0 282.8 479.1 283.0 481.8 285.0 482.5 287.0 482.4 291.0 481.4 293.0 470.0 298.8 444.0 299.4 428.0 301.4 408.1 307.0 405.8 309.0 404.4 319.0 403.6 321.0 402.0 321.9 386.0 324.7 382.8 327.0 378.0 328.6 354.0 331.0 340.0 341.6ZM702.0 212.0 700.0 212.8 687.6 209.0 684.3 207.0 683.9 205.0 690.0 203.5 698.0 203.1 702.0 204.0 704.3 205.0 705.2 207.0 702.0 212.0ZM534.0 265.5 528.0 266.4 524.8 265.0 518.9 261.0 518.3 259.0 519.1 257.0 552.0 237.0 554.2 235.0 558.1 227.0 560.0 225.0 564.0 223.8 576.0 223.9 580.0 225.2 590.0 240.9 602.6 257.0 600.6 261.0 598.0 262.1 584.0 257.5 578.0 256.6 560.0 258.1 546.0 261.3 534.0 265.5ZM320.0 355.4 316.0 356.8 312.0 356.0 310.0 354.1 309.8 351.0 314.0 346.8 320.0 344.6 324.0 344.5 325.6 347.0 325.7 349.0 323.3 353.0 320.0 355.4Z"/>
<path fill="#ff2d00" fill-rule="evenodd" d="M492.0 217.4 484.0 218.2 476.0 216.0 471.4 213.0 462.6 203.0 474.0 192.1 475.9 189.0 476.7 185.0 475.2 167.0 466.8 149.0 459.6 139.0 458.2 135.0 458.0 126.1 462.7 115.0 464.0 85.9 468.0 82.6 502.0 72.4 520.0 67.9 544.0 64.5 554.0 61.8 558.0 64.7 568.0 78.3 572.0 85.3 573.5 91.0 573.5 99.0 568.1 129.0 570.1 141.0 573.0 145.0 586.0 156.3 600.0 171.8 603.0 177.0 604.1 185.0 602.0 186.4 590.0 189.4 570.0 197.8 552.0 203.8 542.0 203.1 531.3 199.0 526.0 199.2 516.2 203.0 500.0 213.7 492.0 217.4ZM338.0 337.2 334.0 335.2 333.0 333.0 333.2 329.0 337.4 315.0 334.7 299.0 333.5 281.0 336.8 267.0 341.4 255.0 350.0 250.4 360.0 247.1 383.1 243.0 390.9 241.0 394.0 239.1 394.7 235.0 392.0 229.0 392.1 223.0 404.0 207.9 408.0 204.2 438.3 197.0 444.9 197.0 454.3 199.0 456.3 201.0 454.0 202.7 446.0 203.8 436.0 206.6 434.0 207.7 431.7 211.0 431.5 215.0 439.5 237.0 441.5 249.0 441.5 267.0 439.5 279.0 439.3 289.0 437.4 293.0 434.0 295.2 418.0 298.4 406.0 302.9 402.0 306.7 398.9 313.0 396.0 316.1 378.0 323.7 370.0 325.2 356.0 324.7 350.0 326.3 343.0 335.0 338.0 337.2ZM572.0 249.5 566.0 250.2 556.0 247.8 554.9 247.0 554.9 245.0 564.0 231.5 568.0 229.8 574.0 229.5 577.8 231.0 579.6 233.0 581.7 237.0 582.2 241.0 580.0 246.0 572.0 249.5ZM318.0 353.6 314.0 355.0 311.2 353.0 311.3 351.0 314.0 348.7 318.0 348.3 319.8 351.0 318.0 353.6Z"/>
<path fill="#ff2000" fill-rule="evenodd" d="M496.0 213.3 484.0 214.4 480.0 213.7 475.3 211.0 472.8 207.0 472.3 201.0 476.9 193.0 479.2 187.0 477.4 169.0 467.1 147.0 460.2 137.0 459.4 129.0 459.9 125.0 464.1 117.0 466.0 89.0 466.9 87.0 470.0 84.4 486.0 78.8 518.0 71.0 552.0 65.0 556.0 67.6 560.8 73.0 568.0 83.9 570.8 91.0 571.5 101.0 566.0 129.0 566.5 141.0 569.1 145.0 584.0 156.8 600.0 172.8 602.3 177.0 602.0 182.5 600.0 184.5 588.0 187.7 570.0 195.6 554.0 200.2 546.0 200.6 534.0 197.8 526.0 198.2 516.0 201.9 500.0 211.7 496.0 213.3ZM374.0 321.2 344.0 321.3 342.0 318.5 337.3 301.0 335.8 283.0 337.2 271.0 341.2 257.0 344.0 254.2 358.0 249.0 384.0 244.0 394.6 241.0 397.5 237.0 396.4 227.0 397.1 223.0 404.0 213.0 408.0 208.9 412.0 206.6 418.0 204.9 424.0 205.5 426.0 207.6 428.4 217.0 433.4 229.0 437.9 247.0 437.8 269.0 432.4 287.0 430.0 288.8 428.0 289.0 423.6 287.0 420.9 277.0 417.7 273.0 414.0 271.4 408.1 273.0 407.1 275.0 407.7 279.0 414.2 289.0 411.6 295.0 402.0 301.5 395.2 311.0 392.0 313.9 386.1 317.0 374.0 321.2ZM572.0 242.4 570.0 242.9 566.9 241.0 567.3 239.0 570.0 236.7 573.1 237.0 574.4 239.0 573.8 241.0 572.0 242.4ZM340.0 333.0 338.0 332.2 337.6 331.0 340.0 327.4 341.5 329.0 340.0 333.0Z"/>
<path fill="#ff1300" fill-rule="evenodd" d="M488.0 211.1 482.0 210.8 477.4 207.0 477.0 201.0 482.4 185.0 479.2 169.0 472.0 155.4 468.8 147.0 463.1 139.0 461.6 135.0 461.2 127.0 466.1 117.0 467.9 93.0 469.1 89.0 473.1 85.0 484.0 81.1 504.0 76.2 538.0 70.5 546.0 68.2 550.0 68.5 556.0 71.7 559.2 75.0 566.4 87.0 568.5 93.0 569.1 103.0 568.2 111.0 563.6 131.0 562.7 139.0 563.4 143.0 567.1 147.0 582.0 157.6 598.0 171.9 601.4 177.0 600.7 181.0 598.0 183.3 586.0 186.1 571.0 193.0 562.0 196.0 548.0 197.8 536.0 196.2 528.0 196.6 518.0 199.7 500.0 209.6 496.0 210.7 488.0 211.1ZM378.0 317.0 370.0 317.9 352.0 316.7 346.0 315.1 343.9 313.0 341.8 309.0 339.7 301.0 338.1 281.0 339.0 269.0 342.3 257.0 346.0 254.2 360.0 249.8 390.0 244.0 396.0 242.0 400.4 237.0 401.2 225.0 404.3 219.0 412.0 212.0 418.2 211.0 422.0 213.7 428.0 223.7 433.3 241.0 434.7 251.0 434.8 265.0 433.7 271.0 432.0 274.0 428.0 276.2 416.0 270.1 408.0 270.4 404.0 272.8 403.4 277.0 406.9 287.0 405.8 293.0 398.0 300.3 390.0 311.3 384.4 315.0 378.0 317.0Z"/>
<path fill="#ff0600" fill-rule="evenodd" d="M500.0 207.5 488.0 208.9 484.0 207.8 481.0 205.0 481.7 197.0 486.4 187.0 486.5 185.0 479.5 165.0 473.8 155.0 470.2 145.0 464.3 137.0 463.0 129.0 463.9 125.0 468.6 117.0 468.1 111.0 469.6 105.0 471.0 91.0 473.8 87.0 478.0 84.4 502.0 78.7 534.0 73.7 544.0 71.3 554.0 74.4 559.8 81.0 565.1 91.0 566.1 95.0 566.0 109.5 559.5 139.0 560.0 144.6 580.5 159.0 590.0 168.7 598.0 173.3 600.0 176.0 600.0 179.1 598.0 181.2 588.0 182.6 568.8 191.0 560.0 193.8 550.0 194.9 536.0 193.8 526.0 195.5 518.0 198.2 500.0 207.5ZM380.0 313.2 368.0 313.8 352.0 311.9 348.0 311.2 345.2 309.0 344.0 307.0 342.5 299.0 340.4 273.0 343.5 257.0 346.7 255.0 360.0 251.2 398.6 243.0 401.4 241.0 404.6 237.0 405.9 227.0 408.0 222.8 414.0 218.5 418.0 219.0 422.0 222.2 425.6 227.0 430.4 245.0 430.8 265.0 430.2 269.0 428.0 270.7 416.0 268.7 406.1 269.0 397.9 271.0 397.3 273.0 402.3 285.0 401.8 289.0 385.3 311.0 380.0 313.2Z"/>
<path fill="#f90000" fill-rule="evenodd" d="M500.0 205.3 490.0 206.1 486.9 205.0 485.5 203.0 485.5 197.0 491.0 187.0 490.6 183.0 476.1 155.0 472.5 145.0 466.0 135.0 465.7 127.0 471.5 117.0 470.7 111.0 473.8 91.0 476.6 87.0 480.0 85.2 504.0 80.3 530.0 76.9 540.0 74.7 552.0 77.4 556.5 81.0 562.0 91.0 563.8 101.0 562.1 117.0 556.7 139.0 556.8 145.0 560.0 148.5 579.5 161.0 585.0 169.0 585.0 173.0 582.0 178.4 580.0 179.8 564.1 185.0 554.0 190.9 544.0 191.5 534.0 190.6 524.0 192.3 508.0 201.8 500.0 205.3ZM596.0 179.4 592.0 178.3 591.1 177.0 592.0 174.4 594.0 173.7 597.4 175.0 598.4 177.0 596.0 179.4ZM378.0 303.2 370.0 304.3 354.0 302.8 350.0 301.0 348.3 299.0 346.8 295.0 342.6 271.0 344.0 259.2 345.2 257.0 360.0 252.9 399.9 245.0 412.0 239.2 416.0 238.9 420.0 240.6 423.9 247.0 425.8 259.0 424.9 265.0 420.3 267.0 412.0 268.1 403.7 267.0 396.0 264.6 392.3 265.0 390.0 266.7 386.3 271.0 386.0 274.3 388.0 277.4 394.4 283.0 394.6 287.0 386.7 299.0 378.0 303.2Z"/>
<path fill="#ec0000" fill-rule="evenodd" d="M504.0 201.3 496.0 202.9 490.6 201.0 490.1 197.0 494.3 187.0 493.8 181.0 492.0 177.0 482.0 162.5 474.4 145.0 468.5 135.0 468.5 127.0 474.3 117.0 474.0 109.0 475.1 95.0 476.2 91.0 478.0 88.4 482.0 86.3 504.0 82.2 538.0 78.0 550.0 80.5 554.0 83.4 556.9 87.0 559.6 93.0 560.9 101.0 560.0 113.0 554.2 139.0 554.4 145.0 558.0 150.0 578.3 163.0 581.2 169.0 580.6 173.0 576.0 177.4 552.0 187.1 546.0 188.0 532.0 186.7 526.0 188.0 520.0 190.7 504.0 201.3ZM368.0 299.2 354.0 299.0 352.0 298.0 350.0 295.4 349.5 291.0 350.5 283.0 354.0 275.2 353.9 273.0 352.0 270.5 346.0 268.1 345.3 265.0 346.0 258.8 349.3 257.0 389.8 249.0 400.0 247.8 408.0 245.6 412.0 245.6 414.9 247.0 416.7 249.0 421.3 259.0 421.1 263.0 419.2 265.0 412.0 267.3 404.3 265.0 396.0 260.8 392.0 260.7 388.0 262.5 383.2 267.0 381.1 271.0 381.1 277.0 384.7 287.0 383.3 291.0 378.0 296.4 368.0 299.2Z"/>
<path fill="#df0000" fill-rule="evenodd" d="M506.0 197.1 500.0 198.9 496.2 197.0 497.6 183.0 496.4 177.0 484.4 163.0 470.7 135.0 471.2 127.0 476.6 117.0 477.7 93.0 480.0 89.2 482.0 88.1 502.0 84.3 536.0 81.2 546.0 82.8 550.0 84.8 554.7 89.0 556.8 93.0 558.1 99.0 557.9 107.0 551.8 139.0 552.7 147.0 558.0 152.8 575.3 163.0 578.0 167.0 578.1 171.0 576.0 174.1 570.8 177.0 552.0 183.5 544.0 184.2 534.0 182.5 528.0 183.5 506.0 197.1ZM414.0 265.8 410.0 265.7 405.1 263.0 397.5 255.0 398.6 253.0 408.0 250.2 412.0 251.2 414.0 252.7 417.1 257.0 418.4 261.0 417.8 263.0 414.0 265.8ZM366.0 295.1 354.0 295.0 353.1 293.0 354.0 289.2 357.2 283.0 361.9 277.0 362.0 275.0 360.4 271.0 358.3 269.0 350.0 264.4 348.9 263.0 349.0 261.0 352.7 259.0 374.3 255.0 382.0 254.1 388.0 254.6 388.6 255.0 378.0 265.5 376.0 269.0 374.0 276.1 372.0 277.0 376.1 283.0 376.5 289.0 372.8 293.0 366.0 295.1Z"/>
<path fill="#d20000" fill-rule="evenodd" d="M510.0 191.4 504.0 192.6 502.0 191.0 500.6 177.0 497.6 173.0 486.0 161.9 473.3 137.0 472.6 133.0 473.5 127.0 478.9 115.0 480.0 93.0 481.1 91.0 484.0 89.4 502.0 86.1 536.0 84.3 542.0 85.0 548.0 87.8 551.5 91.0 554.1 95.0 555.3 99.0 554.1 111.0 549.2 137.0 549.1 143.0 550.1 147.0 552.2 151.0 556.0 154.6 574.0 164.9 575.6 169.0 573.0 173.0 565.7 177.0 560.0 178.7 548.0 180.3 536.0 178.7 528.0 179.3 510.0 191.4ZM412.0 265.0 408.6 263.0 406.0 259.0 405.9 257.0 408.0 255.1 412.0 255.9 415.0 259.0 415.1 263.0 412.0 265.0ZM368.0 287.3 365.5 287.0 368.0 286.1 368.0 287.3Z"/>
<path fill="#c60000" fill-rule="evenodd" d="M510.0 187.0 508.0 186.9 505.9 185.0 505.3 177.0 487.7 161.0 475.3 137.0 475.5 127.0 480.6 115.0 481.7 95.0 484.0 91.5 500.0 88.1 540.0 87.9 548.0 93.0 550.6 97.0 551.7 101.0 551.5 107.0 547.1 121.0 545.2 135.0 545.6 143.0 547.7 151.0 550.1 155.0 554.0 158.3 570.0 166.2 571.2 167.0 571.6 169.0 562.0 175.1 554.0 175.3 538.0 173.4 528.0 174.6 526.0 175.4 516.0 184.3 510.0 187.0Z"/>
<path fill="#b90000" fill-rule="evenodd" d="M516.0 177.3 512.0 176.7 504.0 172.5 490.3 161.0 477.5 137.0 477.4 127.0 482.6 113.0 483.1 97.0 486.0 92.9 502.0 89.6 534.0 90.2 538.0 90.8 541.9 93.0 546.8 99.0 547.5 103.0 546.2 109.0 538.1 119.0 536.5 125.0 536.7 131.0 540.0 145.0 539.2 157.0 537.6 165.0 535.5 167.0 526.0 171.2 516.0 177.3Z"/>
<path fill="#ac0000" fill-rule="evenodd" d="M514.0 173.1 508.0 172.1 504.0 170.2 492.6 161.0 479.9 137.0 479.5 125.0 484.5 113.0 484.5 99.0 486.3 95.0 490.0 93.2 504.0 91.4 532.0 92.6 538.5 95.0 542.8 101.0 542.2 107.0 535.0 117.0 532.9 123.0 532.7 131.0 535.5 145.0 533.7 157.0 530.8 163.0 526.8 167.0 518.0 172.2 514.0 173.1Z"/>
<path fill="#9f0000" fill-rule="evenodd" d="M516.0 169.4 510.0 169.9 506.0 169.0 496.0 162.1 492.2 157.0 482.5 137.0 481.5 123.0 486.7 113.0 486.2 99.0 486.9 97.0 490.0 94.8 502.0 93.4 530.0 94.9 535.4 97.0 538.3 101.0 537.6 107.0 531.9 115.0 529.8 121.0 529.5 129.0 531.7 143.0 530.6 153.0 524.0 164.8 516.0 169.4Z"/>
<path fill="#930000" fill-rule="evenodd" d="M518.0 165.2 508.0 166.7 498.0 161.6 494.6 157.0 486.2 139.0 484.5 133.0 483.7 123.0 488.0 117.0 489.6 113.0 489.9 107.0 488.1 99.0 490.0 96.6 502.0 95.6 512.0 97.3 528.0 97.7 532.0 98.9 533.9 101.0 534.0 105.0 527.7 113.0 526.3 117.0 526.3 125.0 528.3 139.0 527.1 151.0 522.0 161.5 518.0 165.2Z"/>
<path fill="#860000" fill-rule="evenodd" d="M516.0 161.5 508.0 163.0 498.6 159.0 490.5 141.0 488.0 127.0 493.3 117.0 495.1 109.0 494.6 105.0 491.8 101.0 492.3 99.0 504.0 99.3 514.0 104.6 514.8 111.0 521.2 121.0 524.6 133.0 525.0 139.0 522.7 151.0 518.0 160.0 516.0 161.5Z"/>
<path fill="#790000" fill-rule="evenodd" d="M512.0 157.0 506.0 157.8 502.0 156.5 498.0 150.1 494.0 138.8 494.2 129.0 500.0 121.1 504.0 118.2 510.0 119.5 514.0 121.7 518.0 126.8 520.5 133.0 520.6 139.0 518.2 149.0 514.7 155.0 512.0 157.0Z"/>
<path fill="#6c0000" fill-rule="evenodd" d="M508.0 149.6 506.0 149.4 504.0 146.9 500.8 139.0 502.0 134.0 506.0 131.3 512.0 132.8 513.6 139.0 512.0 145.7 508.0 149.6Z"/>
<g fill="none" stroke="#000" stroke-width="1" shape-rendering="crispEdges">
<polyline points="74.0,276.3 80.5,283.0 79.7,285.0 80.8,287.0 92.0,298.2 97.6,307.0 106.0,315.4 117.3,331.0 122.0,335.0 128.0,335.5 144.0,351.4 146.0,352.3 142.7,345.0 132.8,331.0 134.0,329.6 150.0,341.1 154.0,341.4 151.6,337.0 154.0,336.1 196.0,372.4 201.1,375.0 208.0,380.9 214.0,383.2 226.0,384.0 236.1,379.0 246.0,376.8 254.0,372.0 270.0,371.2 274.0,369.6 276.8,365.0 279.9,345.0 274.6,329.0 265.7,311.0 264.9,305.0 262.1,301.0 244.6,289.0 239.5,283.0 238.3,273.0 226.0,257.4 224.7,255.0 224.6,249.0 228.5,241.0 230.8,231.0 238.2,221.0 243.4,215.0 255.2,209.0 257.0,207.0 257.9,203.0 256.7,199.0 255.8,169.0 258.0,165.2 270.0,155.4 271.1,153.0 268.4,145.0 275.5,131.0 273.0,119.0 274.0,108.0 276.0,108.6 294.0,126.0 300.0,124.7 300.2,121.0 295.7,113.0 298.0,112.5 305.9,119.0 304.2,125.0 308.0,132.0 310.0,133.4 314.0,132.9 318.0,134.7 319.4,133.0 318.0,130.6 316.0,127.6 312.0,126.2 310.0,122.3 312.0,122.6 316.0,126.7 322.0,127.8 324.0,127.2 323.7,125.0 319.5,117.0 312.0,110.4 309.3,107.0 310.0,106.2 332.0,117.1 340.0,119.2 348.0,119.3 356.0,116.6 359.7,113.0 359.8,111.0 356.8,107.0 358.0,105.9 376.0,106.1 380.0,109.8 392.0,114.5 393.2,111.0 393.4,97.0 391.2,91.0 393.4,73.0 396.8,65.0 400.6,61.0 403.3,53.0"/>
<polyline points="308.0,105.5 308.0,105.5"/>
<polyline points="74.0,327.1 116.0,358.1 130.0,370.5 134.0,371.2 137.1,369.0 137.7,367.0 134.0,360.8 118.0,338.0 110.0,329.4 107.6,325.0 92.1,309.0 86.2,299.0 74.0,287.3"/>
<polyline points="74.0,347.5 75.1,347.0 74.0,343.5"/>
<polyline points="74.0,329.1 102.0,353.1 124.0,368.6 134.0,378.1 138.0,379.9 145.9,377.0 143.5,371.0 134.3,359.0 131.3,357.0 127.4,349.0 119.9,341.0 116.1,335.0 118.0,333.7 132.0,349.5 140.0,351.0 145.5,355.0 152.0,364.9 158.0,369.6 158.1,367.0 151.7,359.0 138.1,337.0 140.0,335.3 156.0,345.1 157.6,345.0 156.5,341.0 158.0,340.6 170.0,350.3 182.0,362.2 191.5,369.0 194.1,373.0 220.0,390.9 224.0,392.4 226.0,392.4 228.0,389.7 232.0,388.1 237.0,383.0 246.0,379.9 254.8,375.0 272.0,373.1 275.8,371.0 278.0,367.0 282.5,345.0 276.9,329.0 271.8,319.0 269.9,309.0 266.3,303.0 255.1,295.0 246.9,287.0 244.4,275.0 236.5,265.0 232.6,257.0 233.0,253.0 235.7,249.0 238.6,235.0 250.0,219.1 260.1,213.0 263.2,207.0 262.0,180.5 264.0,173.6 277.1,161.0 277.6,159.0 275.2,153.0 277.1,143.0 279.6,139.0 279.2,127.0 284.3,123.0 284.0,120.8 286.0,120.9 294.0,130.3 306.0,133.7 314.0,143.4 318.0,142.8 320.0,144.9 326.2,139.0 322.5,131.0 326.5,129.0 327.0,127.0 322.8,119.0 315.2,111.0 316.0,110.7 336.0,120.8 348.0,123.8 362.0,121.0 366.0,117.7 366.0,111.6 376.0,109.4 382.0,111.0 396.0,119.5 398.0,119.6 399.3,99.0 397.6,93.0 399.2,87.0 399.8,75.0 402.2,69.0 405.5,65.0 408.8,53.0"/>
<polyline points="74.0,276.9 78.2,281.0 79.8,287.0 90.0,297.1 98.0,308.6 106.3,317.0 114.9,329.0 115.5,331.0 114.0,332.8 108.5,325.0 92.9,309.0 87.0,299.0 74.0,286.7"/>
<polyline points="134.0,331.1 134.0,331.1"/>
<polyline points="116.0,334.9 114.3,333.0 116.0,331.7 117.3,333.0 116.0,334.9"/>
<polyline points="136.0,333.7 136.0,332.4 136.8,333.0 136.0,333.7"/>
<polyline points="138.0,336.9 137.0,335.0 138.0,333.8 139.5,335.0 138.0,336.9"/>
<polyline points="74.0,367.3 84.0,363.6 87.5,361.0 87.0,357.0 83.3,353.0 74.0,338.2"/>
<polyline points="156.0,339.5 156.0,339.5"/>
<polyline points="150.1,379.0 146.9,379.0 150.1,379.0"/>
<polyline points="241.9,417.0 242.9,415.0 242.0,412.5 238.0,410.2 235.2,411.0 234.4,413.0 236.3,417.0 240.0,417.9 241.9,417.0"/>
<polyline points="74.0,331.2 104.9,357.0 108.0,361.0 136.0,383.0 144.0,387.6 156.0,388.1 156.9,387.0 151.3,377.0 146.7,375.0 145.4,371.0 136.0,361.1 136.0,357.3 142.0,363.1 148.0,363.1 164.0,379.3 164.6,377.0 159.9,367.0 151.5,357.0 139.5,337.0 152.2,343.0 160.0,349.2 164.0,346.6 172.0,353.3 180.0,362.3 186.0,366.0 194.0,375.0 201.1,379.0 218.0,392.3 229.3,399.0 230.7,401.0 225.8,409.0 226.2,413.0 228.0,415.8 238.0,420.2 242.0,419.7 246.5,417.0 246.3,413.0 237.2,401.0 235.9,395.0 238.3,389.0 241.5,385.0 256.0,377.5 272.0,375.3 276.9,373.0 279.2,369.0 284.8,347.0 283.1,339.0 274.6,319.0 271.9,307.0 266.2,301.0 255.5,293.0 251.9,285.0 251.6,279.0 247.9,275.0 241.6,261.0 241.8,257.0 244.1,253.0 245.1,243.0 251.1,231.0 257.1,223.0 266.7,215.0 269.2,211.0 268.0,201.0 269.6,195.0 268.8,187.0 271.2,181.0 279.1,173.0 283.1,167.0 281.9,161.0 282.8,157.0 281.9,141.0 283.6,135.0 286.0,133.1 288.0,133.2 296.2,137.0 302.0,143.1 304.0,138.8 306.0,138.8 316.0,149.5 322.0,153.9 324.0,153.7 326.4,149.0 330.2,145.0 330.5,141.0 325.6,133.0 331.5,131.0 330.6,123.0 332.0,121.5 348.0,127.2 360.0,127.8 368.7,125.0 372.0,122.0 372.0,116.9 380.0,112.1 388.0,115.1 398.0,122.5 402.9,123.0 405.5,99.0 404.3,93.0 405.9,77.0 409.9,71.0 414.5,53.0"/>
<polyline points="74.0,278.5 78.1,283.0 76.0,286.8 74.0,285.5"/>
<polyline points="78.0,288.3 76.5,287.0 78.0,286.3 78.0,288.3"/>
<polyline points="80.0,290.4 78.8,289.0 80.2,289.0 80.0,290.4"/>
<polyline points="82.0,292.6 80.6,291.0 82.2,291.0 82.0,292.6"/>
<polyline points="84.0,294.7 82.4,293.0 84.2,293.0 84.0,294.7"/>
<polyline points="106.0,321.3 94.0,309.3 89.3,301.0 84.3,295.0 86.0,294.8 90.3,299.0 96.9,309.0 104.9,317.0 106.8,321.0 106.0,321.3"/>
<polyline points="108.0,323.3 108.0,322.2 108.0,323.3"/>
<polyline points="112.0,329.6 112.0,327.6 113.3,329.0 112.0,329.6"/>
<polyline points="114.0,331.1 114.0,331.1"/>
<polyline points="74.0,382.5 84.0,384.0 94.0,379.8 102.0,380.3 102.7,379.0 93.8,361.0 85.5,353.0 74.0,335.4"/>
<polyline points="122.0,341.8 120.6,339.0 122.2,339.0 122.0,341.8"/>
<polyline points="124.0,343.5 124.0,342.6 124.0,343.5"/>
<polyline points="126.0,345.4 126.0,344.5 126.0,345.4"/>
<polyline points="134.0,357.5 132.0,356.5 132.0,354.0 135.7,357.0 134.0,357.5"/>
<polyline points="74.0,402.9 82.0,401.7 84.4,399.0 90.0,396.9 98.0,398.0 104.0,396.0 110.0,396.8 113.9,395.0 115.2,393.0 114.3,385.0 104.9,371.0 100.0,367.2 95.2,359.0 88.0,351.0 90.0,350.5 103.3,359.0 124.0,377.6 148.0,395.8 152.0,397.4 158.0,396.4 164.0,397.7 163.9,395.0 155.8,381.0 156.0,377.5 158.0,378.0 166.0,386.1 172.0,389.4 172.9,389.0 172.5,385.0 163.4,373.0 160.9,367.0 152.7,357.0 143.3,341.0 144.0,340.3 152.0,343.9 160.0,350.1 164.0,348.5 166.0,349.3 182.0,365.6 186.0,367.8 192.7,375.0 201.3,381.0 214.0,392.5 218.0,399.0 219.6,411.0 225.7,419.0 238.0,422.6 246.0,422.9 250.0,425.1 254.0,424.9 257.5,423.0 258.2,419.0 248.0,409.8 243.6,403.0 242.0,397.0 242.9,391.0 245.3,387.0 258.0,379.4 274.0,377.3 278.3,375.0 280.6,371.0 286.7,345.0 277.4,319.0 274.6,307.0 260.4,293.0 258.0,283.0 253.6,275.0 250.0,263.5 252.0,258.2 252.4,247.0 257.7,235.0 266.0,223.5 272.0,219.5 275.0,215.0 274.2,209.0 275.9,201.0 275.8,193.0 278.4,187.0 288.7,175.0 286.5,149.0 287.2,147.0 290.0,144.4 294.0,143.7 304.0,148.9 312.0,149.9 326.0,161.3 328.0,160.5 330.0,155.9 334.4,151.0 334.5,145.0 329.8,137.0 330.0,134.7 338.0,135.2 342.0,130.4 344.0,130.2 364.0,132.6 372.0,130.3 377.0,127.0 376.5,119.0 382.0,114.9 388.0,116.6 396.9,123.0 408.2,129.0 408.4,117.0 411.8,99.0 411.9,81.0 415.0,75.0 420.0,53.0"/>
<polyline points="142.0,339.4 142.0,339.4"/>
<polyline points="74.0,412.1 77.8,411.0 74.0,405.5"/>
<polyline points="74.0,436.0 83.4,431.0 100.5,425.0 98.9,419.0 100.0,416.9 110.0,411.9 120.0,411.7 127.3,409.0 130.7,401.0 124.0,391.0 122.9,387.0 117.8,383.0 118.0,380.6 128.0,385.3 139.5,393.0 150.0,402.0 160.0,406.7 174.0,406.6 175.9,405.0 170.5,399.0 168.9,395.0 170.0,394.6 180.0,399.3 186.0,400.0 186.0,397.0 181.8,391.0 170.0,379.7 164.9,373.0 154.5,357.0 147.9,345.0 147.1,343.0 148.0,342.8 158.0,350.3 166.0,351.0 202.2,385.0 206.0,391.0 210.2,405.0 222.0,423.3 224.0,424.6 236.0,426.4 240.0,432.7 260.6,425.0 262.3,423.0 262.7,419.0 259.7,415.0 251.3,409.0 248.3,405.0 246.4,399.0 246.9,393.0 249.3,389.0 260.0,381.2 276.0,379.3 280.0,376.7 282.1,373.0 284.7,357.0 288.4,345.0 277.0,307.0 267.7,297.0 264.3,285.0 260.7,279.0 258.7,267.0 260.1,263.0 260.4,249.0 269.8,229.0 276.1,225.0 280.9,219.0 280.1,211.0 281.8,207.0 281.4,201.0 285.9,193.0 292.0,187.6 294.0,187.3 298.0,189.1 299.1,187.0 294.3,177.0 293.3,161.0 298.0,155.8 304.0,157.7 308.0,155.0 316.0,158.3 320.0,162.8 326.0,166.6 328.0,169.7 330.0,170.1 334.0,162.2 338.0,158.5 339.1,155.0 338.5,147.0 334.0,137.9 344.0,140.3 350.0,137.4 370.0,137.0 376.8,135.0 383.9,129.0 384.7,125.0 390.0,120.8 400.0,125.2 408.0,131.1 413.2,131.0 413.3,119.0 418.0,99.0 417.9,85.0 420.1,79.0 424.2,53.0"/>
<polyline points="706.7,53.0 704.0,62.4 714.0,56.1 718.0,63.1 726.0,62.5"/>
<polyline points="74.0,477.1 79.6,475.0 84.8,469.0 84.5,461.0 88.0,457.0 103.2,447.0 122.4,437.0 122.3,433.0 124.0,431.5 132.0,430.6 148.3,421.0 149.2,419.0 146.7,413.0 147.0,411.0 150.0,409.1 158.0,410.9 168.0,415.7 174.0,416.7 186.0,415.8 187.1,413.0 186.1,411.0 188.0,410.3 204.0,412.3 214.4,421.0 218.0,433.9 236.0,438.6 243.8,437.0 252.0,431.5 262.0,427.4 264.0,425.2 265.4,421.0 264.7,417.0 262.0,412.7 251.8,405.0 250.5,399.0 251.2,395.0 256.8,387.0 262.0,383.1 276.0,382.0 282.0,377.9 284.0,373.0 286.1,357.0 289.8,347.0 288.8,339.0 282.1,313.0 279.4,307.0 274.4,301.0 267.9,281.0 267.9,253.0 273.3,237.0 276.0,232.8 286.5,223.0 288.8,207.0 292.0,201.8 296.0,199.9 300.0,200.9 304.0,197.1 302.8,185.0 299.7,179.0 304.0,170.0 308.0,170.3 310.0,169.2 312.0,163.8 320.0,169.0 330.0,178.1 332.0,178.0 335.3,175.0 342.5,163.0 342.8,149.0 338.8,143.0 340.0,141.8 346.0,145.1 352.0,145.9 356.0,143.3 362.0,143.8 366.0,140.3 380.0,138.4 390.7,133.0 394.0,128.6 398.0,126.7 400.0,126.9 410.0,133.3 416.0,134.7 417.8,133.0 418.6,119.0 424.1,101.0 423.9,89.0 429.2,53.0"/>
<polyline points="701.1,53.0 701.8,57.0 700.3,65.0 698.2,67.0 696.9,71.0 696.4,79.0 698.0,80.3 705.9,73.0 710.0,71.4 714.0,77.2 722.0,77.3 726.0,73.5"/>
<polyline points="192.0,395.4 190.0,395.0 170.0,377.3 157.6,359.0 155.6,355.0 156.0,352.0 160.0,353.0 166.0,352.3 185.0,371.0 190.4,379.0 188.4,381.0 187.9,385.0 192.0,395.4"/>
<polyline points="174.3,369.0 174.4,367.0 168.9,361.0 168.0,358.2 162.0,353.9 161.2,355.0 167.1,361.0 168.0,363.6 174.3,369.0"/>
<polyline points="74.0,517.6 79.8,507.0 90.5,495.0 92.0,490.9 104.0,481.8 114.4,471.0 132.0,456.3 156.0,441.6 164.0,439.2 180.0,438.5 193.6,435.0 196.2,433.0 198.3,427.0 208.0,424.7 210.2,427.0 210.3,433.0 214.0,438.0 226.0,443.5 236.0,444.4 244.0,441.8 254.7,433.0 264.0,429.0 266.4,425.0 267.1,419.0 262.4,405.0 264.5,401.0 264.2,399.0 260.0,397.3 259.6,391.0 264.0,385.4 276.0,385.0 280.0,383.0 284.0,379.0 285.6,375.0 287.0,359.0 291.2,347.0 285.4,315.0 280.0,303.0 275.1,285.0 275.6,257.0 278.3,243.0 281.9,237.0 292.4,227.0 294.4,219.0 298.0,211.5 304.0,210.7 307.8,207.0 309.2,195.0 314.4,191.0 314.0,185.0 318.0,175.2 322.0,177.2 332.0,188.7 334.0,187.9 340.0,180.3 346.0,169.4 347.4,161.0 350.3,155.0 348.0,148.4 360.0,151.1 364.0,146.8 370.0,145.2 378.7,145.0 396.0,138.5 400.0,134.1 404.0,132.6 412.0,135.0 418.0,138.3 420.7,137.0 422.3,133.0 423.8,119.0 429.9,105.0 431.0,73.0 435.0,53.0"/>
<polyline points="686.0,53.0 688.0,59.9 690.0,59.4 692.8,53.0"/>
<polyline points="694.6,53.0 695.0,57.0 693.3,59.0 694.0,63.4 691.9,67.0 693.0,87.0 692.0,93.0 694.0,94.1 696.0,93.5 704.0,86.7 706.0,86.8 708.0,90.3 712.0,91.3 714.0,94.0 716.0,94.1 720.0,91.1 726.0,92.6"/>
<polyline points="661.0,79.0 661.7,71.0 661.3,69.0 660.0,68.8 656.3,75.0 658.0,79.0 660.0,80.0 661.0,79.0"/>
<polyline points="638.3,113.0 638.0,108.0 638.0,113.9 638.3,113.0"/>
<polyline points="174.0,363.1 174.0,363.1"/>
<polyline points="176.0,365.2 176.0,365.2"/>
<polyline points="178.0,367.2 178.0,367.2"/>
<polyline points="180.0,370.6 180.0,368.8 180.0,370.6"/>
<polyline points="260.0,403.8 258.0,404.3 256.5,403.0 258.0,399.7 260.0,401.2 260.0,403.8"/>
<polyline points="84.1,547.0 104.1,511.0 112.0,504.4 124.0,500.2 140.0,478.8 144.0,475.2 154.0,470.2 170.0,459.7 188.0,452.8 204.0,439.9 224.0,448.2 236.0,449.4 244.0,446.8 256.0,435.9 266.0,430.4 268.6,423.0 268.8,395.0 282.0,384.7 286.5,379.0 287.9,361.0 292.5,347.0 292.2,337.0 288.8,317.0 285.9,309.0 282.3,289.0 283.5,253.0 285.5,245.0 289.3,239.0 298.7,231.0 300.0,227.0 306.2,223.0 314.6,213.0 323.7,199.0 324.0,188.6 326.0,188.5 334.0,196.3 336.4,197.0 349.0,179.0 358.0,155.4 364.0,156.2 368.0,152.6 374.0,152.9 380.0,151.0 396.0,149.1 408.0,143.6 409.7,139.0 412.0,138.0 424.0,142.5 425.9,141.0 427.7,123.0 435.9,107.0 435.6,73.0 438.0,59.8 442.0,53.0"/>
<polyline points="674.9,53.0 662.0,65.1 660.0,65.1 658.0,67.1 646.0,83.1 640.9,91.0 641.3,95.0 639.1,97.0 637.4,105.0 634.0,106.2 628.0,100.8 622.3,109.0 628.0,112.3 631.7,109.0 634.0,108.7 636.0,115.5 635.2,123.0 636.0,127.4 638.0,128.0 640.0,124.4 641.0,105.0 644.0,97.8 648.0,93.5 654.0,92.5 662.0,84.2 666.0,74.4 680.0,64.1 681.1,67.0 680.0,71.6 686.0,79.8 688.2,89.0 688.0,100.4 691.9,107.0 696.0,107.3 698.0,104.1 702.0,102.6 708.0,107.4 718.8,107.0 722.0,112.3 726.0,113.2"/>
<polyline points="109.6,547.0 122.1,521.0 132.8,513.0 144.0,506.6 152.0,504.1 162.0,504.5 165.6,503.0 168.7,495.0 169.2,483.0 178.4,471.0 188.0,463.5 207.1,451.0 216.0,451.4 230.0,454.0 242.0,452.3 250.0,447.3 257.9,439.0 268.0,431.7 270.3,425.0 271.9,397.0 284.0,386.3 288.2,381.0 289.6,375.0 289.0,363.0 293.8,347.0 294.3,335.0 289.1,283.0 290.9,267.0 290.3,255.0 292.6,247.0 296.0,241.6 300.0,238.3 307.3,235.0 310.0,231.8 322.0,224.6 330.0,212.4 336.0,213.2 338.0,212.0 343.2,199.0 351.7,187.0 358.0,172.3 365.4,165.0 366.4,161.0 416.0,155.4 424.0,152.4 425.5,151.0 425.5,147.0 430.0,148.0 432.8,147.0 431.4,127.0 434.0,120.0 440.0,112.8 441.5,107.0 439.3,83.0 440.1,71.0 442.0,64.0 446.0,58.8 448.0,53.0"/>
<polyline points="607.3,53.0 609.5,53.0"/>
<polyline points="657.8,53.0 654.0,65.7 642.5,87.0 620.1,105.0 617.4,109.0 618.1,111.0 623.4,115.0 630.0,126.4 632.0,125.7 634.0,127.8 636.0,135.4 639.5,133.0 641.2,129.0 644.4,115.0 658.0,95.7 660.0,99.0 662.0,97.2 665.9,87.0 670.0,85.2 681.3,101.0 684.0,102.6 684.0,109.8 688.0,118.3 690.0,119.6 694.0,119.4 700.0,115.3 702.0,121.0 712.0,122.0 716.0,126.2 726.0,130.1"/>
<polyline points="663.3,53.0 661.7,53.0"/>
<polyline points="726.0,276.4 718.0,281.4 715.6,285.0 715.0,289.0 718.0,294.8 726.0,298.0"/>
<polyline points="128.3,547.0 134.0,539.0 156.0,524.3 160.7,523.0 162.2,521.0 162.4,517.0 174.0,509.9 177.9,503.0 179.4,485.0 186.3,475.0 198.0,466.5 212.0,459.6 234.0,458.4 244.0,455.4 253.5,449.0 270.3,433.0 272.4,427.0 274.9,399.0 288.9,385.0 291.9,379.0 290.4,365.0 297.2,337.0 296.3,319.0 299.6,311.0 296.2,281.0 297.1,259.0 299.0,251.0 302.0,245.7 308.0,241.8 326.0,236.9 338.0,229.5 348.1,205.0 361.0,183.0 372.7,171.0 382.3,171.0 381.0,169.0 378.0,168.0 377.2,167.0 378.0,165.7 414.0,166.9 442.0,174.7 446.0,174.0 448.0,171.9 449.4,161.0 439.6,145.0 435.7,129.0 437.7,123.0 445.1,115.0 443.9,75.0 445.8,69.0 454.6,53.0"/>
<polyline points="599.0,53.0 600.4,63.0 602.0,66.6 608.0,65.6 612.0,63.3 619.5,67.0 622.3,75.0 624.0,75.2 630.8,65.0 632.1,59.0 635.5,55.0 635.8,53.0"/>
<polyline points="638.3,55.0 638.0,55.9 638.3,55.0"/>
<polyline points="654.7,53.0 642.0,84.5 640.0,85.7 636.0,82.5 634.0,83.9 631.1,87.0 630.9,91.0 627.3,97.0 622.0,102.2 616.6,105.0 613.3,109.0 615.1,113.0 618.7,115.0 622.0,124.8 624.0,124.7 625.7,127.0 624.0,132.1 621.4,135.0 622.2,137.0 624.0,139.5 630.0,141.6 633.1,147.0 638.0,146.6 642.0,140.9 644.4,129.0 650.0,116.3 654.0,112.7 664.0,110.6 665.9,107.0 668.0,107.0 674.0,112.5 678.0,131.0 684.0,131.8 690.0,135.7 694.0,134.5 696.0,136.1 702.0,137.1 720.0,148.1 724.2,157.0 724.3,163.0 722.3,167.0 716.0,169.4 715.6,173.0 718.0,177.1 726.0,181.3"/>
<polyline points="618.7,131.0 618.0,126.6 616.0,127.0 616.0,129.1 618.7,131.0"/>
<polyline points="376.0,165.4 376.8,165.0 376.0,165.4"/>
<polyline points="726.0,249.2 724.8,245.0 722.0,243.6 718.0,248.4 718.0,250.2 722.2,253.0 720.3,259.0 699.9,281.0 697.8,289.0 710.0,304.6 726.0,310.1"/>
<polyline points="726.0,388.2 722.0,389.3 704.0,400.1 700.7,411.0 702.0,415.0 709.7,427.0 726.0,436.5"/>
<polyline points="174.1,547.0 175.7,531.0 184.3,519.0 187.0,507.0 188.3,489.0 191.8,483.0 204.0,473.6 224.0,471.1 228.0,469.2 255.9,451.0 270.0,438.6 273.9,433.0 279.1,401.0 283.4,395.0 293.3,385.0 295.2,381.0 295.3,375.0 293.1,363.0 295.4,351.0 303.6,331.0 302.8,321.0 306.0,309.0 305.4,269.0 310.0,250.0 326.0,245.4 344.0,235.0 346.5,231.0 353.6,211.0 361.4,197.0 368.0,188.7 380.0,178.0 396.0,176.8 402.0,173.2 444.0,180.1 450.0,178.4 453.2,175.0 455.8,165.0 455.2,157.0 445.2,143.0 441.0,129.0 448.6,117.0 447.3,85.0 448.1,77.0 454.8,63.0 464.4,53.0"/>
<polyline points="593.7,53.0 593.7,71.0 595.0,79.0 596.0,80.5 600.0,80.9 602.0,79.3 604.0,80.0 607.9,85.0 608.2,89.0 610.0,89.7 622.0,84.9 631.5,69.0 634.4,69.0 629.7,83.0 624.0,90.4 620.0,91.0 616.7,95.0 615.4,101.0 601.8,119.0 598.6,127.0 598.0,129.0 604.0,132.4 604.0,135.0 609.6,137.0 609.4,145.0 617.3,149.0 622.0,152.9 628.0,152.7 632.0,157.5 642.0,155.3 646.0,156.5 650.5,153.0 656.0,144.7 660.0,143.4 662.0,144.3 666.0,150.9 671.9,155.0 684.0,157.8 694.3,163.0 692.2,167.0 692.5,169.0 704.1,179.0 713.4,185.0 726.0,189.8"/>
<polyline points="638.0,66.4 638.6,65.0 638.0,66.4"/>
<polyline points="622.0,99.3 620.0,100.3 616.6,99.0 622.0,93.2 624.1,95.0 622.0,99.3"/>
<polyline points="704.0,170.0 701.0,169.0 697.1,165.0 698.0,164.0 702.0,164.6 704.6,167.0 705.2,169.0 704.0,170.0"/>
<polyline points="398.0,173.5 398.6,173.0 398.0,173.5"/>
<polyline points="726.0,237.8 696.0,246.0 693.1,251.0 694.7,255.0 694.2,257.0 674.3,271.0 662.3,285.0 660.4,289.0 661.2,291.0 664.0,292.6 680.0,295.0 690.1,299.0 706.0,312.8 726.0,320.3"/>
<polyline points="702.0,255.8 696.4,255.0 697.2,251.0 702.0,245.0 704.0,247.0 705.0,251.0 702.0,255.8"/>
<polyline points="647.1,329.0 649.0,325.0 648.0,319.5 646.0,317.9 642.0,318.4 639.3,323.0 640.0,327.5 644.0,330.4 647.1,329.0"/>
<polyline points="726.0,377.7 714.0,381.3 700.0,392.5 692.2,403.0 689.8,413.0 692.6,421.0 698.9,429.0 726.0,448.0"/>
<polyline points="564.8,463.0 568.9,461.0 575.0,455.0 581.8,445.0 581.8,429.0 578.3,417.0 546.0,409.3 538.0,411.1 526.0,418.4 519.6,429.0 519.1,433.0 520.6,445.0 527.3,455.0 546.0,464.2 558.0,464.9 564.8,463.0"/>
<polyline points="192.7,547.0 194.4,533.0 202.4,515.0 197.5,497.0 198.5,493.0 204.0,486.2 206.0,485.7 212.0,487.5 229.9,497.0 236.0,503.3 240.0,504.5 244.3,503.0 244.6,501.0 240.9,497.0 232.0,496.3 230.0,494.8 229.3,491.0 231.0,483.0 246.6,461.0 272.8,443.0 276.7,439.0 280.2,431.0 286.0,399.2 290.0,394.6 300.0,386.7 302.7,373.0 298.0,368.4 297.5,363.0 298.0,361.2 300.0,359.8 302.0,360.5 303.0,359.0 302.0,355.4 299.8,355.0 300.0,353.0 302.0,354.3 304.2,345.0 310.0,333.0 313.0,305.0 312.9,271.0 318.0,257.5 338.0,243.6 356.5,235.0 360.0,220.5 366.0,207.7 377.0,195.0 390.0,185.4 406.0,182.7 446.0,184.1 454.0,181.5 457.9,177.0 460.6,165.0 460.6,155.0 458.7,151.0 449.4,141.0 446.9,131.0 447.3,127.0 451.3,117.0 451.7,81.0 455.0,73.0 460.0,66.4 474.0,57.6 484.7,53.0"/>
<polyline points="588.1,53.0 589.5,61.0 587.6,79.0 588.9,93.0 590.0,95.5 600.3,105.0 599.4,111.0 592.7,121.0 591.3,135.0 601.2,153.0 612.8,163.0 623.3,177.0 631.4,183.0 634.0,183.1 644.3,181.0 645.4,177.0 650.0,173.2 664.0,172.0 671.7,179.0 692.0,182.8 726.0,194.6"/>
<polyline points="726.0,226.6 708.0,230.2 676.5,239.0 672.0,240.6 669.6,243.0 668.0,247.0 673.4,251.0 674.0,255.0 643.8,279.0 636.9,293.0 626.0,305.8 618.2,321.0 609.7,359.0 607.3,365.0 606.9,377.0 608.3,383.0 606.0,389.0 593.9,391.0 588.8,385.0 562.0,378.4 524.0,377.9 496.0,379.1 470.0,386.7 466.2,389.0 462.6,393.0 462.6,395.0 472.0,405.3 477.5,419.0 472.1,437.0 446.0,456.7 436.0,448.9 433.6,445.0 430.0,444.2 424.9,445.0 435.1,449.0 432.6,457.0 418.0,472.3 382.8,521.0 382.2,537.0 388.6,547.0"/>
<polyline points="423.1,547.0 441.6,533.0 480.4,509.0 479.9,505.0 482.0,504.3 485.7,505.0 484.6,509.0 500.0,509.1 518.0,516.5 548.0,524.7 564.0,522.1 578.4,517.0 591.8,507.0 598.9,485.0 614.0,467.3 619.7,449.0 632.3,431.0 650.0,410.9 671.0,391.0 674.6,385.0 682.0,385.7 689.8,381.0 683.1,375.0 686.0,373.1 692.0,373.0 692.1,369.0 690.0,365.5 681.9,367.0 676.1,371.0 675.0,373.0 677.2,377.0 672.0,382.3 662.0,381.8 654.0,382.9 652.0,381.2 650.6,377.0 652.3,357.0 662.0,345.0 667.0,317.0 670.0,313.0 680.0,305.9 690.6,311.0 706.0,331.0 706.2,333.0 698.0,340.6 694.0,347.0 691.4,357.0 692.0,364.4 702.0,363.4 707.4,365.0 698.5,375.0 694.3,385.0 680.7,399.0 676.2,411.0 678.1,421.0 680.0,425.0 697.5,443.0 692.8,447.0 690.8,451.0 692.4,457.0 698.0,460.0 703.4,459.0 705.4,457.0 708.0,449.6 712.0,452.0 720.4,465.0 726.0,468.3"/>
<polyline points="726.0,366.4 714.6,365.0 711.2,363.0 715.9,353.0 715.6,335.0 720.0,334.6 726.0,337.5"/>
<polyline points="604.2,383.0 604.2,383.0"/>
<polyline points="325.7,537.0 334.0,523.4 354.0,509.0 382.2,483.0 386.0,473.0 382.0,467.0 384.0,465.0 386.0,468.0 390.0,469.0 384.0,463.0 384.0,465.0 382.0,467.0 382.0,463.0 384.0,463.0 388.0,459.0 394.0,457.0 397.0,467.0 400.0,467.0 401.0,465.0 404.0,465.2 404.0,467.0 408.0,467.4 408.6,469.0 414.0,470.4 414.8,469.0 414.0,467.4 411.2,465.0 418.8,457.0 421.4,447.0 420.0,445.4 386.0,438.4 338.1,433.0 330.3,435.0 330.1,447.0 324.0,449.5 320.0,448.2 315.3,443.0 314.3,439.0 316.9,435.0 302.0,437.0 300.0,438.6 298.7,445.0 294.0,446.0 291.2,449.0 291.7,451.0 294.0,452.3 298.0,452.0 299.0,455.0 301.4,491.0 309.1,515.0 314.0,536.0 316.0,538.1 322.0,538.8 325.7,537.0"/>
<polyline points="390.0,471.0 390.0,469.0 388.0,471.0 390.0,471.0"/>
<polyline points="572.0,53.0 573.1,57.0 578.0,62.2 584.1,73.0 581.0,97.0 582.7,117.0 579.8,125.0 582.2,137.0 594.0,155.6 601.7,165.0 606.0,173.5 614.0,177.8 614.0,185.4 622.0,192.1 628.7,201.0 632.0,202.5 642.0,200.7 646.0,198.6 649.4,193.0 647.5,187.0 650.0,184.2 654.0,182.8 666.0,183.4 684.0,189.5 712.0,201.3 719.2,209.0 718.0,215.0 716.0,217.2 700.0,223.8 682.0,225.8 660.0,223.1 640.0,223.7 632.0,222.5 616.0,211.8 600.0,210.4 590.7,213.0 590.8,215.0 592.6,217.0 616.0,239.9 634.0,255.0 634.3,257.0 627.7,263.0 612.0,274.2 596.0,282.1 588.0,283.6 564.0,275.5 540.0,282.2 518.0,297.9 504.0,311.6 486.0,319.9 482.0,320.9 474.0,320.3 470.0,318.6 464.0,319.7 438.0,318.6 422.5,325.0 415.4,331.0 366.0,360.8 344.0,368.4 328.0,368.3 320.0,367.4 316.0,365.6 310.0,360.7 306.2,355.0 308.0,347.0 313.9,339.0 318.7,327.0 319.2,317.0 322.3,303.0 321.2,279.0 323.4,265.0 325.4,261.0 331.5,253.0 342.0,245.6 365.6,239.0 374.5,233.0 377.1,229.0 376.4,217.0 388.4,201.0 402.0,192.1 408.0,190.1 450.0,188.0 458.0,186.0 461.6,183.0 465.0,175.0 465.7,159.0 462.0,149.1 452.9,139.0 451.2,129.0 454.6,117.0 455.2,87.0 456.3,81.0 460.0,75.1 464.0,72.2 517.0,53.0"/>
<polyline points="519.1,237.0 536.8,223.0 537.3,221.0 535.1,215.0 528.0,208.9 517.9,211.0 508.9,219.0 506.2,223.0 510.8,227.0 514.0,238.9 519.1,237.0"/>
<polyline points="500.3,225.0 498.8,225.0 500.3,225.0"/>
<polyline points="494.0,231.0 494.0,231.0"/>
<polyline points="495.9,243.0 494.0,238.7 492.0,237.2 490.2,241.0 492.0,243.2 495.9,243.0"/>
<polyline points="578.0,309.6 576.4,307.0 578.0,305.0 580.0,307.0 578.0,309.6"/>
<polyline points="680.0,345.5 676.0,343.3 675.5,341.0 678.0,337.4 682.0,337.0 684.4,339.0 684.6,341.0 682.0,344.8 680.0,345.5"/>
<polyline points="580.0,357.1 576.0,358.8 572.0,357.5 569.7,355.0 570.0,351.0 580.0,350.8 581.5,353.0 580.0,357.1"/>
<polyline points="308.0,410.3 306.0,410.9 304.0,409.5 301.1,405.0 312.1,397.0 312.0,389.6 317.3,387.0 321.0,383.0 320.0,371.0 334.0,372.2 335.6,375.0 334.0,379.7 328.0,383.9 337.7,385.0 341.0,387.0 340.8,393.0 342.1,397.0 340.8,403.0 332.0,399.9 322.0,399.6 318.0,401.1 308.0,410.3"/>
<polyline points="364.0,413.2 354.0,413.9 346.4,411.0 342.2,407.0 346.0,404.4 354.0,395.4 356.0,395.0 370.2,407.0 370.8,411.0 364.0,413.2"/>
<polyline points="266.0,483.7 246.0,484.3 244.0,483.4 243.4,481.0 244.1,473.0 249.7,463.0 264.0,455.5 266.0,455.5 268.0,458.3 274.0,459.4 275.6,463.0 274.0,467.7 268.0,459.1 264.0,463.0 263.8,467.0 265.2,469.0 268.0,471.1 272.0,471.9 273.8,475.0 272.4,479.0 266.0,483.7"/>
<polyline points="684.0,501.3 680.0,500.5 676.0,497.2 676.1,493.0 680.0,487.7 690.0,487.8 693.5,493.0 694.0,497.0 684.0,501.3"/>
<polyline points="655.3,547.0 670.0,526.0 690.0,508.4 708.0,503.8 726.0,508.6"/>
<polyline points="490.5,547.0 500.0,544.4 508.0,547.0"/>
<polyline points="320.0,355.6 316.0,356.9 312.0,356.1 310.0,354.3 309.8,351.0 312.0,348.0 324.5,343.0 325.4,341.0 328.0,323.8 330.0,315.7 332.1,313.0 330.0,314.3 327.9,311.0 328.2,309.0 332.2,305.0 331.4,279.0 339.9,255.0 352.0,248.3 390.1,239.0 391.3,237.0 388.0,229.5 388.0,221.5 406.0,201.3 438.0,194.5 464.0,194.5 470.0,191.2 473.3,187.0 473.3,167.0 465.7,149.0 458.0,139.0 456.8,135.0 456.2,127.0 460.9,115.0 461.2,87.0 462.5,83.0 466.0,80.5 476.0,78.9 520.0,65.0 538.0,61.7 548.0,61.3 556.0,58.5 558.8,59.0 574.0,82.1 575.9,89.0 572.3,121.0 570.6,127.0 572.4,139.0 574.7,143.0 588.0,156.2 601.7,173.0 607.9,185.0 608.0,188.2 602.0,191.2 579.1,197.0 552.0,208.4 542.0,207.6 538.0,209.1 536.0,207.3 535.2,203.0 532.6,201.0 528.0,200.0 524.0,200.9 514.9,205.0 500.0,215.8 488.0,221.8 476.0,221.3 450.0,209.9 446.0,209.9 438.0,213.0 437.5,217.0 445.2,239.0 446.6,259.0 446.0,279.1 450.0,282.7 458.0,284.6 464.0,284.2 478.0,280.3 484.0,281.3 485.4,283.0 483.7,293.0 470.0,299.5 440.0,300.2 426.0,302.0 409.6,307.0 406.4,309.0 404.4,321.0 402.0,322.6 388.0,325.3 378.0,329.0 354.0,332.8 338.0,343.2 327.9,345.0 325.3,351.0 320.0,355.6"/>
<polyline points="700.0,213.1 686.9,209.0 681.5,205.0 698.0,202.9 704.7,205.0 705.6,207.0 704.5,209.0 702.0,212.6 700.0,213.1"/>
<polyline points="530.0,267.3 520.0,264.9 514.0,267.7 511.8,267.0 516.5,263.0 518.2,257.0 552.0,236.4 558.0,226.3 562.0,223.4 576.0,223.6 580.0,224.8 590.0,240.0 598.0,248.4 604.0,251.4 604.5,253.0 604.5,257.0 598.5,263.0 580.0,258.5 564.0,258.1 546.0,261.9 530.0,267.3"/>
<polyline points="494.0,207.2 488.0,207.3 484.0,205.0 484.0,196.2 489.3,185.0 475.1,155.0 471.6,145.0 465.0,135.0 464.5,127.0 470.2,117.0 469.5,111.0 472.6,91.0 475.3,87.0 478.7,85.0 502.0,79.8 542.0,73.2 552.0,75.8 558.0,80.7 564.5,95.0 564.6,109.0 557.8,139.0 558.0,145.0 580.0,160.2 590.0,172.0 594.0,172.3 598.0,174.4 599.4,177.0 598.7,179.0 594.0,180.7 586.0,179.6 554.0,192.8 536.0,192.1 526.0,193.8 502.0,205.5 494.0,207.2"/>
<polyline points="376.0,309.4 348.0,305.5 345.2,297.0 341.5,271.0 344.0,257.6 346.0,256.0 356.5,253.0 400.0,243.8 410.5,235.0 411.8,233.0 412.0,227.8 422.0,228.8 421.8,233.0 427.7,247.0 427.2,267.0 412.0,268.5 393.7,267.0 389.5,273.0 398.0,281.0 398.9,287.0 389.1,301.0 382.0,308.4 376.0,309.4"/>
<polyline points="516.0,183.1 510.0,184.2 508.0,183.0 506.4,177.0 488.2,161.0 475.7,137.0 475.9,127.0 480.9,115.0 482.0,95.6 484.0,92.1 500.0,88.5 538.0,88.1 546.0,92.2 550.4,99.0 550.0,110.0 543.5,123.0 544.2,141.0 547.1,155.0 560.1,165.0 559.4,171.0 554.0,173.4 538.0,172.1 528.0,173.7 516.0,183.1"/>
<polyline points="564.0,168.4 563.3,167.0 565.0,167.0 564.0,168.4"/>
<polyline points="562.0,173.0 561.4,171.0 564.0,169.2 564.3,171.0 562.0,173.0"/>
<polyline points="512.0,163.2 506.0,163.1 498.0,159.1 489.2,139.0 487.1,127.0 488.0,123.2 492.3,117.0 493.8,111.0 493.4,105.0 490.8,101.0 492.0,98.4 504.0,98.5 510.0,101.2 522.6,103.0 518.0,106.5 516.9,109.0 522.0,120.5 525.6,135.0 524.1,149.0 518.2,161.0 512.0,163.2"/>
</g>
<ellipse cx="345" cy="325" rx="2.5" ry="2" fill="#fff" stroke="#000" stroke-width="1"/>
</g>
<g stroke="#666" stroke-width="1" stroke-dasharray="2 4.5"><line x1="153.5" y1="53" x2="153.5" y2="547"/><line x1="236.5" y1="53" x2="236.5" y2="547"/><line x1="318.5" y1="53" x2="318.5" y2="547"/><line x1="400.5" y1="53" x2="400.5" y2="547"/><line x1="483.5" y1="53" x2="483.5" y2="547"/><line x1="565.5" y1="53" x2="565.5" y2="547"/><line x1="647.5" y1="53" x2="647.5" y2="547"/><line x1="74" y1="455.5" x2="725" y2="455.5"/><line x1="74" y1="360.5" x2="725" y2="360.5"/><line x1="74" y1="264.5" x2="725" y2="264.5"/><line x1="74" y1="168.5" x2="725" y2="168.5"/><line x1="74" y1="72.5" x2="725" y2="72.5"/></g>
<g font-family="Liberation Sans, sans-serif" font-size="12.5" fill="#000"><rect x="491" y="86" width="15" height="6" fill="#fff"/><text x="492.3" y="93.5" textLength="12.4" lengthAdjust="spacingAndGlyphs">19</text><rect x="485" y="92" width="24" height="12" fill="#fff"/><text x="486.2" y="102.5" textLength="21.6" lengthAdjust="spacingAndGlyphs">19.2</text><rect x="552" y="169" width="15" height="11" fill="#fff"/><text x="553.3" y="179.0" textLength="12.4" lengthAdjust="spacingAndGlyphs">19</text><rect x="535" y="188" width="24" height="10" fill="#fff"/><text x="536.2" y="197.5" textLength="21.6" lengthAdjust="spacingAndGlyphs">18.8</text><rect x="535" y="203" width="24" height="10" fill="#fff"/><text x="536.2" y="212.5" textLength="21.6" lengthAdjust="spacingAndGlyphs">18.6</text><rect x="556" y="218" width="24" height="11" fill="#fff"/><text x="557.2" y="228.0" textLength="21.6" lengthAdjust="spacingAndGlyphs">18.6</text><rect x="485" y="237" width="24" height="11" fill="#fff"/><text x="486.2" y="247.0" textLength="21.6" lengthAdjust="spacingAndGlyphs">18.4</text><rect x="434" y="189" width="24" height="10" fill="#fff"/><text x="435.2" y="198.5" textLength="21.6" lengthAdjust="spacingAndGlyphs">18.6</text><rect x="405" y="185" width="23" height="10" fill="#fff"/><text x="406.0" y="194.5" textLength="21.0" lengthAdjust="spacingAndGlyphs">18.4</text><rect x="405" y="223" width="23" height="10" fill="#fff"/><text x="406.0" y="232.5" textLength="21.0" lengthAdjust="spacingAndGlyphs">18.8</text><rect x="505" y="262" width="24" height="11" fill="#fff"/><text x="506.2" y="272.0" textLength="21.6" lengthAdjust="spacingAndGlyphs">18.6</text><rect x="444" y="279" width="25" height="12" fill="#fff"/><text x="445.7" y="289.5" textLength="21.6" lengthAdjust="spacingAndGlyphs">18.6</text><rect x="432" y="311" width="25" height="11" fill="#fff"/><text x="433.7" y="321.0" textLength="21.6" lengthAdjust="spacingAndGlyphs">18.4</text><rect x="363" y="305" width="25" height="11" fill="#fff"/><text x="364.7" y="315.0" textLength="21.6" lengthAdjust="spacingAndGlyphs">18.8</text><rect x="381" y="318" width="25" height="11" fill="#fff"/><text x="382.7" y="328.0" textLength="21.6" lengthAdjust="spacingAndGlyphs">18.6</text><rect x="314" y="378" width="22" height="12" fill="#fff"/><text x="315.0" y="388.5" textLength="20.0" lengthAdjust="spacingAndGlyphs">18.4</text><rect x="192" y="421" width="24" height="10" fill="#fff"/><text x="193.2" y="430.5" textLength="21.6" lengthAdjust="spacingAndGlyphs">17.2</text><rect x="222" y="442" width="24" height="10" fill="#fff"/><rect x="212" y="447" width="12" height="5" fill="#fff"/><text x="222.5" y="451" textLength="21" lengthAdjust="spacingAndGlyphs">17.4</text><text x="213" y="455" textLength="21" lengthAdjust="spacingAndGlyphs" fill="#000" clip-path="url(#c174)">17.6</text><rect x="211" y="453" width="25" height="11" fill="#fff"/><text x="212.7" y="463.0" textLength="21.6" lengthAdjust="spacingAndGlyphs">17.8</text><rect x="243" y="479" width="23" height="11" fill="#fff"/><text x="244.0" y="489.0" textLength="21.0" lengthAdjust="spacingAndGlyphs">18.4</text><rect x="222" y="491" width="23" height="10" fill="#fff"/><text x="223.0" y="500.5" textLength="21.0" lengthAdjust="spacingAndGlyphs">18.2</text><rect x="414" y="437" width="24" height="12" fill="#fff"/><text x="415.2" y="447.5" textLength="21.6" lengthAdjust="spacingAndGlyphs">18.2</text><rect x="404" y="463" width="24" height="11" fill="#fff"/><text x="405.2" y="473.0" textLength="21.6" lengthAdjust="spacingAndGlyphs">18.2</text><rect x="474" y="498" width="25" height="12" fill="#fff"/><text x="475.7" y="508.5" textLength="21.6" lengthAdjust="spacingAndGlyphs">18.2</text><rect x="542" y="402" width="14" height="12" fill="#fff"/><text x="543.0" y="412.5" textLength="12.0" lengthAdjust="spacingAndGlyphs">18</text><rect x="586" y="385" width="24" height="12" fill="#fff"/><text x="587.2" y="395.5" textLength="21.6" lengthAdjust="spacingAndGlyphs">18.2</text><rect x="647" y="376" width="23" height="11" fill="#fff"/><text x="648.0" y="386.0" textLength="21.0" lengthAdjust="spacingAndGlyphs">18.2</text><rect x="647" y="168" width="24" height="9" fill="#fff"/><text x="648.2" y="177.0" textLength="21.6" lengthAdjust="spacingAndGlyphs">18.2</text><rect x="646" y="178" width="25" height="10" fill="#fff"/><text x="647.7" y="187.5" textLength="21.6" lengthAdjust="spacingAndGlyphs">18.4</text><rect x="636" y="217" width="25" height="12" fill="#fff"/><text x="637.7" y="227.5" textLength="21.6" lengthAdjust="spacingAndGlyphs">18.4</text><rect x="577" y="279" width="23" height="10" fill="#fff"/><text x="578.0" y="288.5" textLength="21.0" lengthAdjust="spacingAndGlyphs">18.4</text><rect x="707" y="329" width="18" height="11" fill="#fff"/><text x="708.0" y="339.0" textLength="16.0" lengthAdjust="spacingAndGlyphs">18.2</text></g>
<g fill="none" stroke="#000" stroke-width="2.7" stroke-linejoin="round" stroke-linecap="round"><polyline points="483.0,53.0 470.0,57.0 460.0,60.0 448.0,64.0 441.0,70.0 442.0,73.0 446.0,76.0 447.0,85.0 446.0,92.0 441.0,99.0 434.0,102.0 426.0,103.0 425.6,106.0 429.0,110.0 429.0,116.0 424.0,122.0 418.0,127.0 413.0,133.0 406.0,141.0 402.0,146.0 402.0,150.0 394.0,156.0 384.0,164.0 370.0,178.0 363.0,188.0 356.0,193.0 348.0,197.0 340.0,203.5 334.0,205.7 325.0,212.5 316.0,220.0 304.0,229.0 292.0,235.0 283.0,239.5 272.5,246.0 269.5,250.0 262.0,257.5 251.5,268.0 258.0,275.5 263.5,270.0 269.5,274.0 277.0,271.7 277.0,282.0 279.0,294.0 276.0,306.0 271.0,318.0 257.0,319.0 256.0,324.0 262.0,330.0 267.0,333.0 263.0,339.0 261.0,350.0 258.8,372.5 253.8,387.5 247.5,393.8 225.0,395.0 205.0,397.5 180.0,401.0 165.5,404.0 149.0,408.7 153.5,417.7 167.0,408.7 180.0,403.0"/><polyline points="180.0,401.0 177.5,395.0 172.5,392.5 162.5,390.0 160.0,380.0 162.5,371.0 170.0,367.5 168.8,362.5 160.0,360.0 148.8,359.5 140.0,363.8 133.8,368.8 132.5,380.0 138.8,387.5 143.8,395.0 144.5,399.0 141.5,406.5 125.0,410.0 122.0,420.0 119.0,429.7 126.5,428.0 138.5,414.7 147.5,417.7 152.0,423.0 144.5,429.7"/><polyline points="162.5,390.0 177.5,393.0 176.0,400.5"/><polyline points="143.0,421.0 134.0,429.0 126.5,432.0 119.0,435.0 114.5,442.5 111.5,463.5 119.0,458.0 129.5,453.7 134.0,447.0 141.5,435.0"/><polyline points="141.5,435.4 133.8,446.0 120.6,463.0 114.0,469.5 106.3,478.0 103.0,485.0 94.2,488.0 92.0,492.6 95.3,506.0 98.6,518.0 92.0,523.0 96.4,534.0 97.5,548.0"/><polyline points="340.0,196.0 335.5,192.0 332.5,201.0 325.0,204.0 319.0,198.0 311.5,201.0 310.0,212.5 304.0,207.0 301.7,220.0 298.0,214.0 290.5,217.0 287.5,224.5 290.5,229.7 293.5,232.0 286.0,238.0 277.0,241.7 272.0,246.0"/><polyline points="569.0,58.0 576.0,64.0 589.5,63.5 597.0,61.0 606.0,62.0 615.0,65.0 624.0,68.0 633.0,69.5 645.0,69.5 649.5,72.5 660.0,72.0 676.0,72.0 688.0,74.0 696.0,78.0 704.0,79.0 711.0,75.0 714.0,67.0 724.0,59.0 725.0,56.0"/><polyline points="668.0,53.0 670.0,60.0 676.0,58.0 684.0,54.0 692.0,56.0 698.0,60.0 712.0,59.0 724.0,56.0"/><polyline points="569.0,58.0 593.0,81.5 597.0,74.0 607.5,72.5 618.0,75.5 627.0,80.0 636.0,83.0 648.0,81.0 657.0,95.0 648.0,98.0 642.0,101.7 627.0,101.7 613.5,104.7 609.0,107.7 615.0,114.5 624.0,114.5 630.0,111.5 642.0,114.5 648.0,118.0 658.0,122.0 668.0,129.0 684.0,132.0 690.0,140.0 700.0,147.0 716.0,151.0 725.0,153.0"/><polygon points="335.0,103.0 340.0,97.0 347.0,93.0 351.0,93.0 362.0,105.0 367.0,100.0 375.0,110.0 384.0,119.0 389.0,126.0 390.0,132.0 396.0,137.0 397.0,142.0 396.0,148.0 389.0,153.0 386.0,150.0 376.0,132.0 370.0,128.0 361.0,125.0 353.0,121.0 344.0,115.0 339.0,110.0"/><polygon points="257.5,203.5 267.0,206.5 266.5,220.0 268.0,229.0 272.5,233.5 274.0,242.5 263.5,255.0 253.0,255.0 252.0,235.0 254.5,220.0"/><polygon points="568.5,98.0 565.5,103.0 572.0,114.5 579.0,119.0 600.0,125.0 624.0,129.5 645.0,134.0 669.0,137.6 645.0,136.0 624.0,132.0 600.0,128.0 576.0,122.0 568.0,112.0 566.5,104.0"/></g>
<rect x="73" y="53" width="653" height="495" fill="none" stroke="#000" stroke-width="2"/>
<g stroke="#000" stroke-width="1"><line x1="153.5" y1="548" x2="153.5" y2="552"/><line x1="236.5" y1="548" x2="236.5" y2="552"/><line x1="318.5" y1="548" x2="318.5" y2="552"/><line x1="400.5" y1="548" x2="400.5" y2="552"/><line x1="483.5" y1="548" x2="483.5" y2="552"/><line x1="565.5" y1="548" x2="565.5" y2="552"/><line x1="647.5" y1="548" x2="647.5" y2="552"/><line x1="69" y1="455.5" x2="73" y2="455.5"/><line x1="69" y1="360.5" x2="73" y2="360.5"/><line x1="69" y1="264.5" x2="73" y2="264.5"/><line x1="69" y1="168.5" x2="73" y2="168.5"/><line x1="69" y1="72.5" x2="73" y2="72.5"/></g>
<g font-family="Liberation Sans, sans-serif" font-size="13" fill="#000"><text x="146.9" y="563.3" textLength="12.5" lengthAdjust="spacingAndGlyphs">29</text><text x="224.1" y="563.3" textLength="23.0" lengthAdjust="spacingAndGlyphs">29.5</text><text x="311.7" y="563.3" textLength="12.5" lengthAdjust="spacingAndGlyphs">30</text><text x="388.8" y="563.3" textLength="23.0" lengthAdjust="spacingAndGlyphs">30.5</text><text x="476.4" y="563.3" textLength="12.5" lengthAdjust="spacingAndGlyphs">31</text><text x="553.5" y="563.3" textLength="23.0" lengthAdjust="spacingAndGlyphs">31.5</text><text x="641.1" y="563.3" textLength="12.5" lengthAdjust="spacingAndGlyphs">32</text><text x="42.7" y="460.4" textLength="23.3" lengthAdjust="spacingAndGlyphs">44.5</text><text x="52.7" y="364.6" textLength="13.3" lengthAdjust="spacingAndGlyphs">45</text><text x="42.7" y="268.8" textLength="23.3" lengthAdjust="spacingAndGlyphs">45.5</text><text x="52.7" y="173.0" textLength="13.3" lengthAdjust="spacingAndGlyphs">46</text><text x="42.7" y="77.2" textLength="23.3" lengthAdjust="spacingAndGlyphs">46.5</text></g>
<rect x="734" y="534.99" width="15" height="6.31" fill="#00007c"/><rect x="734" y="528.98" width="15" height="6.31" fill="#000089"/><rect x="734" y="522.96" width="15" height="6.31" fill="#000096"/><rect x="734" y="516.95" width="15" height="6.31" fill="#0000a3"/><rect x="734" y="510.94" width="15" height="6.31" fill="#0000b0"/><rect x="734" y="504.93" width="15" height="6.31" fill="#0000bd"/><rect x="734" y="498.91" width="15" height="6.31" fill="#0000ca"/><rect x="734" y="492.90" width="15" height="6.31" fill="#0000d7"/><rect x="734" y="486.89" width="15" height="6.31" fill="#0000e4"/><rect x="734" y="480.88" width="15" height="6.31" fill="#0000f1"/><rect x="734" y="474.86" width="15" height="6.31" fill="#0000fe"/><rect x="734" y="468.85" width="15" height="6.31" fill="#000cff"/><rect x="734" y="462.84" width="15" height="6.31" fill="#0019ff"/><rect x="734" y="456.82" width="15" height="6.31" fill="#0026ff"/><rect x="734" y="450.81" width="15" height="6.31" fill="#0033ff"/><rect x="734" y="444.80" width="15" height="6.31" fill="#0040ff"/><rect x="734" y="438.79" width="15" height="6.31" fill="#004dff"/><rect x="734" y="432.77" width="15" height="6.31" fill="#005aff"/><rect x="734" y="426.76" width="15" height="6.31" fill="#0067ff"/><rect x="734" y="420.75" width="15" height="6.31" fill="#0074ff"/><rect x="734" y="414.74" width="15" height="6.31" fill="#0081ff"/><rect x="734" y="408.73" width="15" height="6.31" fill="#008eff"/><rect x="734" y="402.71" width="15" height="6.31" fill="#009bff"/><rect x="734" y="396.70" width="15" height="6.31" fill="#00a8ff"/><rect x="734" y="390.69" width="15" height="6.31" fill="#00b5ff"/><rect x="734" y="384.68" width="15" height="6.31" fill="#00c2ff"/><rect x="734" y="378.66" width="15" height="6.31" fill="#00cfff"/><rect x="734" y="372.65" width="15" height="6.31" fill="#00dcff"/><rect x="734" y="366.64" width="15" height="6.31" fill="#00e9ff"/><rect x="734" y="360.62" width="15" height="6.31" fill="#00f6ff"/><rect x="734" y="354.61" width="15" height="6.31" fill="#04fffb"/><rect x="734" y="348.60" width="15" height="6.31" fill="#11ffee"/><rect x="734" y="342.59" width="15" height="6.31" fill="#1effe1"/><rect x="734" y="336.57" width="15" height="6.31" fill="#2bffd4"/><rect x="734" y="330.56" width="15" height="6.31" fill="#38ffc7"/><rect x="734" y="324.55" width="15" height="6.31" fill="#45ffba"/><rect x="734" y="318.54" width="15" height="6.31" fill="#52ffad"/><rect x="734" y="312.52" width="15" height="6.31" fill="#5fffa0"/><rect x="734" y="306.51" width="15" height="6.31" fill="#6cff93"/><rect x="734" y="300.50" width="15" height="6.31" fill="#79ff86"/><rect x="734" y="294.49" width="15" height="6.31" fill="#86ff79"/><rect x="734" y="288.48" width="15" height="6.31" fill="#93ff6c"/><rect x="734" y="282.46" width="15" height="6.31" fill="#a0ff5f"/><rect x="734" y="276.45" width="15" height="6.31" fill="#adff52"/><rect x="734" y="270.44" width="15" height="6.31" fill="#baff45"/><rect x="734" y="264.43" width="15" height="6.31" fill="#c7ff38"/><rect x="734" y="258.41" width="15" height="6.31" fill="#d4ff2b"/><rect x="734" y="252.40" width="15" height="6.31" fill="#e1ff1e"/><rect x="734" y="246.39" width="15" height="6.31" fill="#eeff11"/><rect x="734" y="240.38" width="15" height="6.31" fill="#fbff04"/><rect x="734" y="234.36" width="15" height="6.31" fill="#fff600"/><rect x="734" y="228.35" width="15" height="6.31" fill="#ffe900"/><rect x="734" y="222.34" width="15" height="6.31" fill="#ffdc00"/><rect x="734" y="216.32" width="15" height="6.31" fill="#ffcf00"/><rect x="734" y="210.31" width="15" height="6.31" fill="#ffc200"/><rect x="734" y="204.30" width="15" height="6.31" fill="#ffb500"/><rect x="734" y="198.29" width="15" height="6.31" fill="#ffa800"/><rect x="734" y="192.27" width="15" height="6.31" fill="#ff9b00"/><rect x="734" y="186.26" width="15" height="6.31" fill="#ff8e00"/><rect x="734" y="180.25" width="15" height="6.31" fill="#ff8100"/><rect x="734" y="174.24" width="15" height="6.31" fill="#ff7400"/><rect x="734" y="168.23" width="15" height="6.31" fill="#ff6700"/><rect x="734" y="162.21" width="15" height="6.31" fill="#ff5a00"/><rect x="734" y="156.20" width="15" height="6.31" fill="#ff4d00"/><rect x="734" y="150.19" width="15" height="6.31" fill="#ff4000"/><rect x="734" y="144.18" width="15" height="6.31" fill="#ff3300"/><rect x="734" y="138.16" width="15" height="6.31" fill="#ff2600"/><rect x="734" y="132.15" width="15" height="6.31" fill="#ff1900"/><rect x="734" y="126.14" width="15" height="6.31" fill="#ff0c00"/><rect x="734" y="120.12" width="15" height="6.31" fill="#fe0000"/><rect x="734" y="114.11" width="15" height="6.31" fill="#f10000"/><rect x="734" y="108.10" width="15" height="6.31" fill="#e40000"/><rect x="734" y="102.09" width="15" height="6.31" fill="#d70000"/><rect x="734" y="96.07" width="15" height="6.31" fill="#ca0000"/><rect x="734" y="90.06" width="15" height="6.31" fill="#bd0000"/><rect x="734" y="84.05" width="15" height="6.31" fill="#b00000"/><rect x="734" y="78.04" width="15" height="6.31" fill="#a30000"/><rect x="734" y="72.02" width="15" height="6.31" fill="#960000"/><rect x="734" y="66.01" width="15" height="6.31" fill="#890000"/><rect x="734" y="60.00" width="15" height="6.31" fill="#7c0000"/>
<g font-family="Liberation Sans, sans-serif" font-size="14" fill="#000"><text x="761.8" y="71.7" textLength="28" lengthAdjust="spacingAndGlyphs">19.2</text><text x="761.8" y="185.0" textLength="28" lengthAdjust="spacingAndGlyphs">18.4</text><text x="761.8" y="306.0" textLength="28" lengthAdjust="spacingAndGlyphs">17.5</text><text x="761.8" y="422.7" textLength="28" lengthAdjust="spacingAndGlyphs">16.7</text><text x="761.8" y="540.7" textLength="28" lengthAdjust="spacingAndGlyphs">15.8</text></g>
<g font-family="Liberation Sans, sans-serif" fill="#000">
<text x="75.5" y="41.5" font-size="25" textLength="76.5" lengthAdjust="spacingAndGlyphs">Salinity</text><text x="168.0" y="41.5" font-size="25" textLength="62.0" lengthAdjust="spacingAndGlyphs">(ppt).</text><text x="245.0" y="41.5" font-size="25" textLength="49.0" lengthAdjust="spacingAndGlyphs">Date</text><text x="310.0" y="41.5" font-size="25" textLength="135.0" lengthAdjust="spacingAndGlyphs">2011.01.09.</text><text x="463.0" y="41.5" font-size="25" textLength="48.0" lengthAdjust="spacingAndGlyphs">Time</text><text x="526.0" y="41.5" font-size="25" textLength="139.0" lengthAdjust="spacingAndGlyphs">00(h):00(m)</text><text x="682.0" y="41.5" font-size="25" textLength="42.4" lengthAdjust="spacingAndGlyphs">GMT</text>
<text x="110.7" y="107.0" font-size="18" textLength="11.6" lengthAdjust="spacingAndGlyphs" stroke="#fff" stroke-width="0.4">Z</text><text x="138.0" y="107.0" font-size="18" textLength="14.5" lengthAdjust="spacingAndGlyphs" stroke="#fff" stroke-width="0.4">=</text><text x="170.4" y="107.0" font-size="18" textLength="33.0" lengthAdjust="spacingAndGlyphs" stroke="#fff" stroke-width="0.4">2.5</text><text x="220.7" y="107.0" font-size="18" textLength="16.5" lengthAdjust="spacingAndGlyphs" stroke="#fff" stroke-width="0.4">m</text>
<text x="324.0" y="588.8" font-size="18.5" textLength="85.0" lengthAdjust="spacingAndGlyphs">Longitude</text><text x="421.4" y="588.8" font-size="18.5" textLength="54.0" lengthAdjust="spacingAndGlyphs">(East)</text>
<g transform="translate(31,0) rotate(-90)"><text x="-371.6" y="0.0" font-size="20.5" textLength="69.6" lengthAdjust="spacingAndGlyphs">Latitude</text><text x="-290.8" y="0.0" font-size="20.5" textLength="60.8" lengthAdjust="spacingAndGlyphs">(North)</text></g>
</g>
</svg></body></html>
